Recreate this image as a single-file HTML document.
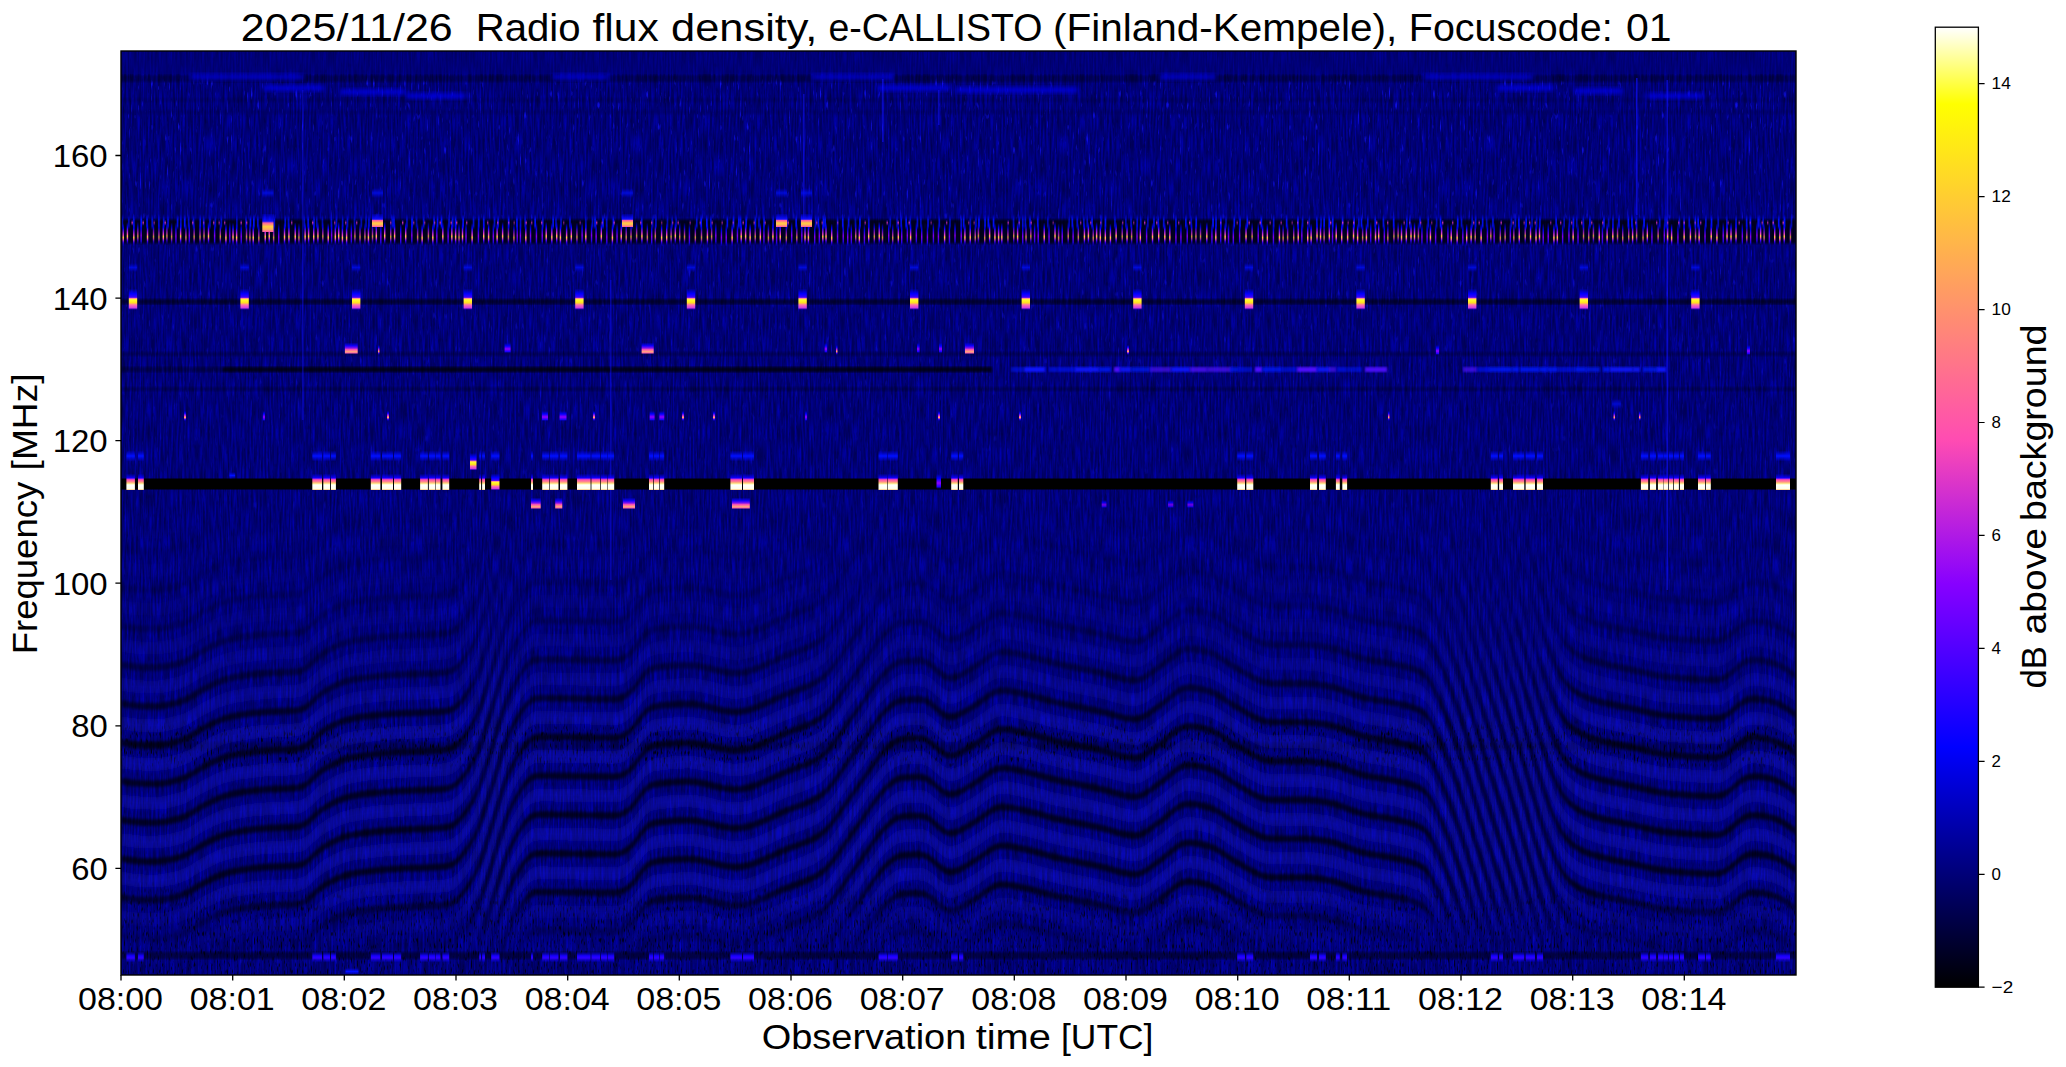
<!DOCTYPE html><html><head><meta charset="utf-8"><style>html,body{margin:0;padding:0;background:#fff;overflow:hidden}svg{display:block}text{font-family:"Liberation Sans",sans-serif;fill:#000}</style></head><body>
<svg width="2066" height="1067" viewBox="0 0 2066 1067">
<defs><clipPath id="pc"><rect x="121" y="51" width="1675" height="924"/></clipPath><filter id="nz" x="0" y="0" width="1" height="1" color-interpolation-filters="sRGB"><feTurbulence type="fractalNoise" baseFrequency="0.6 0.045" numOctaves="1" seed="5"/><feComponentTransfer><feFuncR type="gamma" amplitude="1" exponent="1.6" offset="0"/></feComponentTransfer><feColorMatrix type="matrix" values="0 0 0 0 0  0 0 0 0 0  0.55 0 0 0 0.29  0 0 0 0 1"/></filter><filter id="nz2" x="0" y="0" width="1" height="1" color-interpolation-filters="sRGB"><feTurbulence type="fractalNoise" baseFrequency="0.45 0.09" numOctaves="1" seed="9"/><feColorMatrix type="matrix" values="0 0 0 0 0.08  0 0 0 0 0.08  0 0 0 0 1  7 0 0 0 -4.6"/></filter><filter id="nz3" x="0" y="0" width="1" height="1" color-interpolation-filters="sRGB"><feTurbulence type="fractalNoise" baseFrequency="0.7 0.16" numOctaves="1" seed="21"/><feColorMatrix type="matrix" values="0 0 0 0 0  0 0 0 0 0  0 0 0 0 0  6 0 0 0 -3.5"/></filter><linearGradient id="denv" gradientUnits="userSpaceOnUse" x1="0" y1="51" x2="0" y2="975"><stop offset="0" stop-color="#fff" stop-opacity="0.15"/><stop offset="0.7248" stop-color="#fff" stop-opacity="0.15"/><stop offset="0.7348" stop-color="#fff" stop-opacity="0.85"/><stop offset="0.7684" stop-color="#fff" stop-opacity="0.85"/><stop offset="0.7784" stop-color="#fff" stop-opacity="0.15"/><stop offset="0.9" stop-color="#fff" stop-opacity="0.2"/><stop offset="0.93" stop-color="#fff" stop-opacity="0.75"/><stop offset="1" stop-color="#fff" stop-opacity="0.75"/></linearGradient><mask id="dmask" maskUnits="userSpaceOnUse" x="121" y="51" width="1675" height="924"><rect x="121" y="51" width="1675" height="924" fill="url(#denv)"/></mask><linearGradient id="tenv" gradientUnits="userSpaceOnUse" x1="0" y1="51" x2="0" y2="975"><stop offset="0" stop-color="#fff" stop-opacity="0.1"/><stop offset="0.025" stop-color="#fff" stop-opacity="0.15"/><stop offset="0.035" stop-color="#fff" stop-opacity="0.8"/><stop offset="0.16" stop-color="#fff" stop-opacity="0.6"/><stop offset="0.35" stop-color="#fff" stop-opacity="0.35"/><stop offset="0.6" stop-color="#fff" stop-opacity="0.15"/><stop offset="0.9" stop-color="#fff" stop-opacity="0.2"/><stop offset="1" stop-color="#fff" stop-opacity="0.3"/></linearGradient><mask id="tmask" maskUnits="userSpaceOnUse" x="121" y="51" width="1675" height="924"><rect x="121" y="51" width="1675" height="924" fill="url(#tenv)"/></mask><filter id="bl1" x="-5%" y="-5%" width="110%" height="110%"><feGaussianBlur stdDeviation="1.1"/></filter><filter id="bl2b" x="-5%" y="-5%" width="110%" height="110%"><feGaussianBlur stdDeviation="1.8"/></filter><filter id="bl3" x="-5%" y="-5%" width="110%" height="110%"><feGaussianBlur stdDeviation="2.5"/></filter><filter id="bl2" x="-20%" y="-50%" width="140%" height="200%"><feGaussianBlur stdDeviation="2"/></filter><linearGradient id="fenv" gradientUnits="userSpaceOnUse" x1="0" y1="500" x2="0" y2="980"><stop offset="0.0000" stop-color="#fff" stop-opacity="0"/><stop offset="0.1250" stop-color="#fff" stop-opacity="0.12"/><stop offset="0.2500" stop-color="#fff" stop-opacity="0.3"/><stop offset="0.3542" stop-color="#fff" stop-opacity="0.62"/><stop offset="0.4583" stop-color="#fff" stop-opacity="0.95"/><stop offset="0.8083" stop-color="#fff" stop-opacity="1"/><stop offset="0.8750" stop-color="#fff" stop-opacity="0.4"/><stop offset="0.9333" stop-color="#fff" stop-opacity="0.12"/><stop offset="1.0000" stop-color="#fff" stop-opacity="0.05"/></linearGradient><mask id="fmask" maskUnits="userSpaceOnUse" x="121" y="51" width="1675" height="924"><rect x="121" y="500" width="1675" height="480" fill="url(#fenv)"/></mask><linearGradient id="g113" x1="0" y1="0" x2="0" y2="1"><stop offset="0" stop-color="#0000ff" stop-opacity="0"/><stop offset="0.28" stop-color="#1000ff"/><stop offset="0.32" stop-color="#a020f0"/><stop offset="0.38" stop-color="#ff50b0"/><stop offset="0.5" stop-color="#ff8890"/><stop offset="0.58" stop-color="#ffd070"/><stop offset="0.66" stop-color="#ffffd0"/><stop offset="0.72" stop-color="#ffffff"/><stop offset="0.93" stop-color="#ffffe8"/><stop offset="1" stop-color="#ffc070"/></linearGradient><linearGradient id="g139" x1="0" y1="0" x2="0" y2="1"><stop offset="0" stop-color="#0000ff" stop-opacity="0"/><stop offset="0.25" stop-color="#0000ff"/><stop offset="0.42" stop-color="#4000ff"/><stop offset="0.47" stop-color="#ff80a0"/><stop offset="0.53" stop-color="#ffff30"/><stop offset="0.68" stop-color="#ffe020"/><stop offset="0.78" stop-color="#ff70b0"/><stop offset="0.92" stop-color="#d040e0"/><stop offset="1" stop-color="#6000ff" stop-opacity="0.4"/></linearGradient><linearGradient id="gpk" x1="0" y1="0" x2="0" y2="1"><stop offset="0" stop-color="#0000ff" stop-opacity="0"/><stop offset="0.3" stop-color="#1000ff"/><stop offset="0.5" stop-color="#8010f0"/><stop offset="0.65" stop-color="#ff58b0"/><stop offset="0.82" stop-color="#ffa080"/><stop offset="1" stop-color="#ff60b0"/></linearGradient><linearGradient id="gbl" x1="0" y1="0" x2="0" y2="1"><stop offset="0" stop-color="#0000ff" stop-opacity="0"/><stop offset="0.5" stop-color="#0010ff"/><stop offset="1" stop-color="#0000ff" stop-opacity="0"/></linearGradient><linearGradient id="gsp" x1="0" y1="0" x2="0" y2="1"><stop offset="0" stop-color="#0000ff" stop-opacity="0"/><stop offset="0.22" stop-color="#0000ff"/><stop offset="0.42" stop-color="#a020e8"/><stop offset="0.55" stop-color="#ff58b0"/><stop offset="0.62" stop-color="#ffd838"/><stop offset="0.7" stop-color="#ff60a8"/><stop offset="0.82" stop-color="#4000ff"/><stop offset="1" stop-color="#0000ff" stop-opacity="0"/></linearGradient><linearGradient id="gdot" x1="0" y1="0" x2="0" y2="1"><stop offset="0" stop-color="#2000ff" stop-opacity="0.3"/><stop offset="0.5" stop-color="#ff40c0"/><stop offset="1" stop-color="#4000ff" stop-opacity="0.3"/></linearGradient><linearGradient id="gtl" x1="0" y1="0" x2="0" y2="1"><stop offset="0" stop-color="#0000ff" stop-opacity="0"/><stop offset="0.35" stop-color="#0010ff"/><stop offset="0.75" stop-color="#0010ff"/><stop offset="1" stop-color="#0000ff" stop-opacity="0"/></linearGradient><linearGradient id="g47" x1="0" y1="0" x2="0" y2="1"><stop offset="0" stop-color="#0000ff" stop-opacity="0"/><stop offset="0.4" stop-color="#1800ff"/><stop offset="0.6" stop-color="#3000ff"/><stop offset="1" stop-color="#0000ff" stop-opacity="0"/></linearGradient><linearGradient id="gs150" x1="0" y1="0" x2="0" y2="1"><stop offset="0" stop-color="#0000ff" stop-opacity="0.2"/><stop offset="0.4" stop-color="#1010ff"/><stop offset="0.5" stop-color="#ff60a0"/><stop offset="0.7" stop-color="#ffd040"/><stop offset="0.85" stop-color="#ffb060"/><stop offset="1" stop-color="#ff50b0"/></linearGradient><linearGradient id="gsp2" x1="0" y1="0" x2="0" y2="1"><stop offset="0" stop-color="#0000ff" stop-opacity="0"/><stop offset="0.3" stop-color="#0000ff"/><stop offset="0.6" stop-color="#9000ff"/><stop offset="0.85" stop-color="#2000ff"/><stop offset="1" stop-color="#0000ff" stop-opacity="0"/></linearGradient></defs>
<g clip-path="url(#pc)"><rect x="121" y="51" width="1675" height="924" fill="#00008a"/>
<rect x="121" y="51" width="1675" height="924" filter="url(#nz)"/>
<g mask="url(#tmask)"><rect x="121" y="51" width="1675" height="924" filter="url(#nz2)"/></g>
<g mask="url(#dmask)"><rect x="121" y="51" width="1675" height="924" filter="url(#nz3)"/></g>
<rect x="121.0" y="51.0" width="1675.0" height="23.0" fill="#000078" fill-opacity="0.45"/>
<rect x="121.0" y="75.0" width="1675.0" height="7.0" fill="#000" fill-opacity="0.3" filter="url(#bl1)"/>
<rect x="345.5" y="968" width="13" height="7" fill="url(#gbl)"/>
<rect x="121.0" y="98.0" width="1675.0" height="4.0" fill="#000" fill-opacity="0.12" filter="url(#bl1)"/>
<rect x="121.0" y="110.0" width="1675.0" height="4.0" fill="#000" fill-opacity="0.1" filter="url(#bl1)"/>
<rect x="190" y="74.5" width="114" height="5" rx="2.5" fill="#0808ff" fill-opacity="0.7" filter="url(#bl2)"/>
<rect x="552" y="74.5" width="57" height="5" rx="2.5" fill="#0808ff" fill-opacity="0.7" filter="url(#bl2)"/>
<rect x="812" y="74.5" width="82" height="5" rx="2.5" fill="#0808ff" fill-opacity="0.7" filter="url(#bl2)"/>
<rect x="263" y="85.5" width="61" height="5" rx="2.5" fill="#0808ff" fill-opacity="0.7" filter="url(#bl2)"/>
<rect x="877" y="85.5" width="74" height="5" rx="2.5" fill="#0808ff" fill-opacity="0.7" filter="url(#bl2)"/>
<rect x="340" y="89.5" width="66" height="5" rx="2.5" fill="#0808ff" fill-opacity="0.7" filter="url(#bl2)"/>
<rect x="406" y="93.5" width="61" height="5" rx="2.5" fill="#0808ff" fill-opacity="0.7" filter="url(#bl2)"/>
<rect x="1159" y="74.5" width="57" height="5" rx="2.5" fill="#0808ff" fill-opacity="0.7" filter="url(#bl2)"/>
<rect x="1424" y="74.5" width="109" height="5" rx="2.5" fill="#0808ff" fill-opacity="0.7" filter="url(#bl2)"/>
<rect x="956" y="87.5" width="122" height="5" rx="2.5" fill="#0808ff" fill-opacity="0.7" filter="url(#bl2)"/>
<rect x="1497" y="85.5" width="57" height="5" rx="2.5" fill="#0808ff" fill-opacity="0.7" filter="url(#bl2)"/>
<rect x="1574" y="88.5" width="49" height="5" rx="2.5" fill="#0808ff" fill-opacity="0.7" filter="url(#bl2)"/>
<rect x="1647" y="93.5" width="57" height="5" rx="2.5" fill="#0808ff" fill-opacity="0.7" filter="url(#bl2)"/>
<rect x="121.0" y="219.5" width="1675.0" height="24.0" fill="#000" fill-opacity="0.75" filter="url(#bl1)"/>
<rect x="121.0" y="299.0" width="1675.0" height="5.5" fill="#000" fill-opacity="0.55" filter="url(#bl1)"/>
<rect x="121.0" y="352.0" width="1675.0" height="4.0" fill="#000" fill-opacity="0.25" filter="url(#bl1)"/>
<rect x="121.0" y="387.0" width="1675.0" height="4.0" fill="#000" fill-opacity="0.25" filter="url(#bl1)"/>
<rect x="222.0" y="366.8" width="770.0" height="5.4" fill="#000" fill-opacity="0.75" filter="url(#bl1)"/>
<rect x="121.0" y="366.8" width="101.0" height="5.4" fill="#000" fill-opacity="0.35" filter="url(#bl1)"/>
<rect x="1011" y="367" width="13" height="5" fill="#0818ff" fill-opacity="0.55" filter="url(#bl1)"/>
<rect x="1024" y="367" width="21" height="5" fill="#0818ff" fill-opacity="0.97" filter="url(#bl1)"/>
<rect x="1049" y="367" width="9" height="5" fill="#0818ff" fill-opacity="0.61" filter="url(#bl1)"/>
<rect x="1058" y="367" width="17" height="5" fill="#0818ff" fill-opacity="0.63" filter="url(#bl1)"/>
<rect x="1075" y="367" width="16" height="5" fill="#0818ff" fill-opacity="0.88" filter="url(#bl1)"/>
<rect x="1090" y="367" width="9" height="5" fill="#0818ff" fill-opacity="0.87" filter="url(#bl1)"/>
<rect x="1099" y="367" width="12" height="5" fill="#0818ff" fill-opacity="0.76" filter="url(#bl1)"/>
<rect x="1114" y="367" width="6" height="5" fill="#5010ff" fill-opacity="0.97" filter="url(#bl1)"/>
<rect x="1120" y="367" width="11" height="5" fill="#0818ff" fill-opacity="0.84" filter="url(#bl1)"/>
<rect x="1131" y="367" width="19" height="5" fill="#0818ff" fill-opacity="0.65" filter="url(#bl1)"/>
<rect x="1150" y="367" width="21" height="5" fill="#5010ff" fill-opacity="0.65" filter="url(#bl1)"/>
<rect x="1171" y="367" width="19" height="5" fill="#0818ff" fill-opacity="0.89" filter="url(#bl1)"/>
<rect x="1190" y="367" width="17" height="5" fill="#5010ff" fill-opacity="0.78" filter="url(#bl1)"/>
<rect x="1207" y="367" width="24" height="5" fill="#5010ff" fill-opacity="0.69" filter="url(#bl1)"/>
<rect x="1230" y="367" width="9" height="5" fill="#0818ff" fill-opacity="0.65" filter="url(#bl1)"/>
<rect x="1239" y="367" width="13" height="5" fill="#0818ff" fill-opacity="0.56" filter="url(#bl1)"/>
<rect x="1255" y="367" width="7" height="5" fill="#5010ff" fill-opacity="1.00" filter="url(#bl1)"/>
<rect x="1262" y="367" width="20" height="5" fill="#0818ff" fill-opacity="0.72" filter="url(#bl1)"/>
<rect x="1282" y="367" width="15" height="5" fill="#0818ff" fill-opacity="0.58" filter="url(#bl1)"/>
<rect x="1297" y="367" width="20" height="5" fill="#5010ff" fill-opacity="0.98" filter="url(#bl1)"/>
<rect x="1317" y="367" width="13" height="5" fill="#0818ff" fill-opacity="0.85" filter="url(#bl1)"/>
<rect x="1329" y="367" width="7" height="5" fill="#5010ff" fill-opacity="0.62" filter="url(#bl1)"/>
<rect x="1337" y="367" width="10" height="5" fill="#0818ff" fill-opacity="0.62" filter="url(#bl1)"/>
<rect x="1347" y="367" width="15" height="5" fill="#0818ff" fill-opacity="0.55" filter="url(#bl1)"/>
<rect x="1365" y="367" width="22" height="5" fill="#5010ff" fill-opacity="0.93" filter="url(#bl1)"/>
<rect x="1387" y="367" width="0" height="5" fill="#0818ff" fill-opacity="0.89" filter="url(#bl1)"/>
<rect x="1463" y="367" width="14" height="5" fill="#5010ff" fill-opacity="0.66" filter="url(#bl1)"/>
<rect x="1477" y="367" width="13" height="5" fill="#0818ff" fill-opacity="0.63" filter="url(#bl1)"/>
<rect x="1489" y="367" width="23" height="5" fill="#0818ff" fill-opacity="0.78" filter="url(#bl1)"/>
<rect x="1512" y="367" width="7" height="5" fill="#0818ff" fill-opacity="0.76" filter="url(#bl1)"/>
<rect x="1520" y="367" width="19" height="5" fill="#0818ff" fill-opacity="0.79" filter="url(#bl1)"/>
<rect x="1539" y="367" width="8" height="5" fill="#0818ff" fill-opacity="0.78" filter="url(#bl1)"/>
<rect x="1547" y="367" width="11" height="5" fill="#0818ff" fill-opacity="0.74" filter="url(#bl1)"/>
<rect x="1558" y="367" width="17" height="5" fill="#0818ff" fill-opacity="0.58" filter="url(#bl1)"/>
<rect x="1575" y="367" width="11" height="5" fill="#0818ff" fill-opacity="0.75" filter="url(#bl1)"/>
<rect x="1586" y="367" width="14" height="5" fill="#0818ff" fill-opacity="0.67" filter="url(#bl1)"/>
<rect x="1603" y="367" width="7" height="5" fill="#0818ff" fill-opacity="0.75" filter="url(#bl1)"/>
<rect x="1610" y="367" width="23" height="5" fill="#0818ff" fill-opacity="0.85" filter="url(#bl1)"/>
<rect x="1633" y="367" width="7" height="5" fill="#0818ff" fill-opacity="0.82" filter="url(#bl1)"/>
<rect x="1643" y="367" width="15" height="5" fill="#0818ff" fill-opacity="0.67" filter="url(#bl1)"/>
<rect x="1657" y="367" width="9" height="5" fill="#0818ff" fill-opacity="0.93" filter="url(#bl1)"/>
<rect x="121.0" y="478.5" width="1675.0" height="11.0" fill="#000" fill-opacity="1.0"/>
<rect x="121.0" y="742.0" width="1675.0" height="8.0" fill="#000" fill-opacity="0.2" filter="url(#bl1)"/>
<rect x="121.0" y="952.0" width="1675.0" height="7.0" fill="#000" fill-opacity="0.45" filter="url(#bl1)"/>
<g mask="url(#fmask)"><path d="M1654 493.5l4 1 4 0.5 4 0.5 4 0.5 4 0.5 4 0.5 4 0 4 0.5 4 0 4 0.5 4 0 4 0.5 4 0 4 0 4 0 4 0 4-1 4-2 2-1.5 0 13-2 1.5-4 2-4 1-4 0-4 0-4 0-4 0-4-0.5-4 0-4-0.5-4 0-4-0.5-4 0-4-0.5-4-0.5-4-0.5-4-0.5-4-0.5-4-1ZM1794 493.5l2 1.5 0 13-2-1.5ZM1561 494.5l4 6 4 5 4 3 4 3 4 2 4 2 4 1.5 4 1.5 4 1.5 4 1 4 1 4 0.5 4 1 4 1 4 0.5 4 1 4 1 4 0.5 4 1 4 1 4 1 4 1 4 1 4 0.5 4 1 4 0.5 4 0.5 4 0 4 0.5 4 0.5 4 0 4 0.5 4 0 4 0.5 4 0 4 0.5 4 0 4 0 4 0 4-0.5 4-2 4-3 4-3 4-3.5 4-3.5 4-2.5 4-1.5 4-0.5 4 0.5 4 0 4 0.5 4 1 4 1 4 1.5 4 2 4 2 4 3 4 3 3 1.5 0 13-3-1.5-4-3-4-3-4-2-4-2-4-1.5-4-1-4-1-4-0.5-4 0-4-0.5-4 0.5-4 1.5-4 2.5-4 3.5-4 3.5-4 3-4 3-4 2-4 0.5-4 0-4 0-4 0-4-0.5-4 0-4-0.5-4 0-4-0.5-4 0-4-0.5-4-0.5-4 0-4-0.5-4-0.5-4-1-4-0.5-4-1-4-1-4-1-4-1-4-1-4-0.5-4-1-4-1-4-0.5-4-1-4-1-4-0.5-4-1-4-1-4-1.5-4-1.5-4-1.5-4-2-4-2-4-3-4-3-4-5-4-6ZM1545 493.5l4 11.5 4 10.5 4 10 4 8 4 6 4 4.5 4 3.5 4 3 4 2 4 2 4 1.5 4 1.5 4 1 4 1 4 1 4 1 4 1 4 0.5 4 1 4 1 4 0.5 4 1 4 1 4 1 4 0.5 4 1 4 1 4 1 4 0.5 4 0.5 4 0.5 4 0.5 4 0.5 4 0 4 0.5 4 0.5 4 0 4 0.5 4 0 4 0 4 0.5 4 0 4 0 4-1 4-1.5 4-3 4-3.5 4-3.5 4-3 4-2.5 4-1.5 4-0.5 4 0 4 0.5 4 0.5 4 1 4 1 4 1.5 4 2 4 2 4 2.5 4 3 3 2 0 13-3-2-4-3-4-2.5-4-2-4-2-4-1.5-4-1-4-1-4-0.5-4-0.5-4 0-4 0.5-4 1.5-4 2.5-4 3-4 3.5-4 3.5-4 3-4 1.5-4 1-4 0-4 0-4-0.5-4 0-4 0-4-0.5-4 0-4-0.5-4-0.5-4 0-4-0.5-4-0.5-4-0.5-4-0.5-4-0.5-4-1-4-1-4-1-4-0.5-4-1-4-1-4-1-4-0.5-4-1-4-1-4-0.5-4-1-4-1-4-1-4-1-4-1-4-1.5-4-1.5-4-2-4-2-4-3-4-3.5-4-4.5-4-6-4-7-4-8-4-9-4-10.5ZM121 522.5l4 0.5 4 0.5 4 0.5 4 0.5 4 0.5 4 0 4 0 4 0 4 0 4 0 4-0.5 4-1 4-1 4-1 4-1 4-1.5 4-2 4-2.5 4-2.5 4-2.5 4-2 4-2 4-2 4-2 4-1.5 4-1.5 4-1 4-1 4-1 4-0.5 4-0.5 4-1 1 0 0 13-1 0-4 1-4 0.5-4 0.5-4 1-4 1-4 1-4 1.5-4 1.5-4 2-4 2-4 2-4 2-4 2.5-4 2.5-4 2.5-4 2-4 1.5-4 1-4 1-4 1-4 1-4 0.5-4 0-4 0-4 0-4 0-4 0-4-0.5-4-0.5-4-0.5-4-0.5-4-0.5ZM1532 490l4 13.5 4 13 4 12.5 4 12 4 11 4 10 4 8.5 4 6.5 4 5 4 3.5 4 3 4 2.5 4 2 4 1.5 4 1.5 4 1 4 1 4 1 4 1 4 1 4 1 4 0.5 4 1 4 0.5 4 1 4 1 4 1 4 1 4 0.5 4 1 4 1 4 0.5 4 1 4 0.5 4 0 4 0.5 4 0.5 4 0 4 0.5 4 0.5 4 0 4 0 4 0.5 4 0 4 0 4 0 4-0.5 4-1.5 4-2.5 4-3 4-3.5 4-3.5 4-2.5 4-2 4-0.5 4 0 4 0 4 0.5 4 1 4 1 4 1.5 4 1.5 4 2 4 3 4 2.5 4 2.5 0 13-4-2.5-4-2.5-4-3-4-2-4-1.5-4-1.5-4-1-4-1-4-0.5-4 0-4 0-4 0.5-4 2-4 2.5-4 3.5-4 3.5-4 3-4 2.5-4 1.5-4 0.5-4 0-4 0-4 0-4-0.5-4 0-4 0-4-0.5-4-0.5-4 0-4-0.5-4-0.5-4 0-4-0.5-4-1-4-0.5-4-1-4-1-4-0.5-4-1-4-1-4-1-4-1-4-0.5-4-1-4-0.5-4-1-4-1-4-1-4-1-4-1-4-1-4-1.5-4-1.5-4-2-4-2.5-4-3-4-3.5-4-5-4-6.5-4-7-4-8.5-4-9.5-4-10.5-4-11.5-4-12-4-13ZM121 561.5l4 0.5 4 0.5 4 0.5 4 0.5 4 0 4 0.5 4 0 4 0 4 0 4-0.5 4-0.5 4-0.5 4-1 4-1 4-1.5 4-1.5 4-1.5 4-2.5 4-2.5 4-2.5 4-2.5 4-2 4-2 4-1.5 4-2 4-1.5 4-1 4-1 4-0.5 4-1 4-0.5 4-0.5 4-0.5 4-0.5 4-0.5 4 0 4-0.5 4 0 4 0 4-0.5 4 0 4 0 4-0.5 4-0.5 4-0.5 4-2 4-3 4-3.5 4-4 4-3.5 4-2.5 4-2.5 4-2 4-2 4-1.5 4-1.5 4-1 4-1 4-1 4-0.5 4-0.5 4-0.5 4-0.5 4-0.5 4 0 4-0.5 4-0.5 4 0 4-0.5 2 0 0 13-2 0-4 0.5-4 0-4 0.5-4 0.5-4 0-4 0.5-4 0.5-4 0.5-4 0.5-4 0.5-4 1-4 1-4 1-4 1.5-4 1.5-4 2-4 2-4 2.5-4 2.5-4 3.5-4 4-4 3.5-4 3-4 2-4 0.5-4 0.5-4 0.5-4 0-4 0-4 0.5-4 0-4 0-4 0.5-4 0-4 0.5-4 0.5-4 0.5-4 0.5-4 0.5-4 1-4 0.5-4 1-4 1-4 1.5-4 2-4 1.5-4 2-4 2-4 2.5-4 2.5-4 2.5-4 2.5-4 1.5-4 1.5-4 1.5-4 1-4 1-4 0.5-4 0.5-4 0.5-4 0-4 0-4 0-4-0.5-4 0-4-0.5-4-0.5-4-0.5-4-0.5ZM1521 491l4 13.5 4 14 4 13.5 4 13.5 4 13 4 12.5 4 11.5 4 10.5 4 10 4 8 4 6 4 4.5 4 3.5 4 3 4 2 4 2 4 1.5 4 1.5 4 1 4 1 4 1 4 1 4 1 4 1 4 0.5 4 1 4 0.5 4 1 4 1 4 1 4 1 4 1 4 0.5 4 1 4 0.5 4 0.5 4 0.5 4 0.5 4 0.5 4 0 4 0.5 4 0.5 4 0 4 0.5 4 0 4 0 4 0.5 4 0 4 0 4-1 4-1.5 4-3 4-3 4-3.5 4-3.5 4-2.5 4-1.5 4-0.5 4 0 4 0.5 4 0.5 4 1 4 1 4 1.5 4 2 4 2 4 3 4 2.5 3 2 0 13-3-2-4-2.5-4-3-4-2-4-2-4-1.5-4-1-4-1-4-0.5-4-0.5-4 0-4 0.5-4 1.5-4 2.5-4 3.5-4 3.5-4 3-4 3-4 1.5-4 1-4 0-4 0-4-0.5-4 0-4 0-4-0.5-4 0-4-0.5-4-0.5-4 0-4-0.5-4-0.5-4-0.5-4-0.5-4-0.5-4-1-4-0.5-4-1-4-1-4-1-4-1-4-1-4-0.5-4-1-4-0.5-4-1-4-1-4-1-4-1-4-1-4-1-4-1.5-4-1.5-4-2-4-2-4-3-4-3.5-4-4.5-4-6-4-7-4-8-4-9-4-10.5-4-11-4-12-4-13-4-13-4-13.5-4-14ZM121 600l4 0.5 4 1 4 0.5 4 0 4 0.5 4 0 4 0 4 0.5 4-0.5 4 0 4-0.5 4-1 4-1 4-1 4-1 4-1.5 4-2 4-2.5 4-2.5 4-2.5 4-2 4-2 4-2 4-2 4-1.5 4-1.5 4-1 4-1 4-1 4-0.5 4-0.5 4-0.5 4-0.5 4-0.5 4-0.5 4-0.5 4 0 4-0.5 4 0 4 0 4 0 4-0.5 4 0 4-0.5 4-1 4-1.5 4-3 4-4 4-4 4-3 4-3 4-2 4-2 4-2 4-2 4-1.5 4-1 4-0.5 4-1 4-0.5 4-0.5 4-0.5 4-0.5 4-0.5 4-0.5 4 0 4-0.5 4-0.5 4 0 4-0.5 4 0 4 0 4 0 4-0.5 4 0 4 0 4-0.5 4 0 4 0 4-0.5 4-0.5 4-0.5 4-2 4-3 4-4 4-5 4-6 4-6.5 4-9 0 15-4 7-4 6.5-4 6-4 5-4 4-4 3-4 2-4 0.5-4 0.5-4 0.5-4 0-4 0-4 0.5-4 0-4 0-4 0.5-4 0-4 0-4 0-4 0.5-4 0-4 0.5-4 0.5-4 0-4 0.5-4 0.5-4 0.5-4 0.5-4 0.5-4 0.5-4 1-4 0.5-4 1-4 1.5-4 2-4 2-4 2-4 2-4 3-4 3-4 4-4 4-4 3-4 1.5-4 1-4 0.5-4 0-4 0.5-4 0-4 0-4 0-4 0.5-4 0-4 0.5-4 0.5-4 0.5-4 0.5-4 0.5-4 0.5-4 0.5-4 1-4 1-4 1-4 1.5-4 1.5-4 2-4 2-4 2-4 2-4 2.5-4 2.5-4 2.5-4 2-4 1.5-4 1-4 1-4 1-4 1-4 0.5-4 0-4 0.5-4-0.5-4 0-4 0-4-0.5-4 0-4-0.5-4-1-4-0.5ZM1509 489.5l4 13 4 13.5 4 13.5 4 14 4 13.5 4 14 4 13.5 4 13 4 12 4 12 4 10.5 4 9.5 4 8.5 4 6 4 4.5 4 3.5 4 2.5 4 2.5 4 2 4 1.5 4 1 4 1.5 4 1 4 1 4 1 4 1 4 0.5 4 1 4 0.5 4 1 4 1 4 0.5 4 1 4 1 4 1 4 1 4 1 4 0.5 4 0.5 4 0.5 4 0.5 4 0 4 0.5 4 0.5 4 0 4 0.5 4 0 4 0.5 4 0 4 0 4 0 4 0 4-0.5 4-2 4-2.5 4-3.5 4-3.5 4-3 4-2.5 4-1.5 4-0.5 4 0 4 0.5 4 0.5 4 1 4 1 4 1.5 4 1.5 4 2.5 4 2.5 4 3 3 2 0 13-3-2-4-3-4-2.5-4-2.5-4-1.5-4-1.5-4-1-4-1-4-0.5-4-0.5-4 0-4 0.5-4 1.5-4 2.5-4 3-4 3.5-4 3.5-4 2.5-4 2-4 0.5-4 0-4 0-4 0-4 0-4-0.5-4 0-4-0.5-4 0-4-0.5-4-0.5-4 0-4-0.5-4-0.5-4-0.5-4-0.5-4-1-4-1-4-1-4-1-4-1-4-0.5-4-1-4-1-4-0.5-4-1-4-0.5-4-1-4-1-4-1-4-1-4-1.5-4-1-4-1.5-4-2-4-2.5-4-2.5-4-3.5-4-4.5-4-6-4-7-4-8-4-9.5-4-10-4-11.5-4-12-4-12.5-4-13.5-4-13.5-4-13.5-4-14-4-14-4-13.5ZM121 639l4 0.5 4 0.5 4 0.5 4 0.5 4 0.5 4 0 4 0 4 0 4 0 4-0.5 4-0.5 4-0.5 4-1 4-1 4-1 4-1.5 4-2 4-2.5 4-2.5 4-2.5 4-2.5 4-2 4-2 4-1.5 4-2 4-1 4-1.5 4-0.5 4-1 4-0.5 4-1 4-0.5 4-0.5 4-0.5 4 0 4-0.5 4-0.5 4 0 4 0 4-0.5 4 0 4 0 4-0.5 4 0 4-1 4-2 4-3 4-3.5 4-4 4-3.5 4-2.5 4-2 4-2.5 4-2 4-1.5 4-1.5 4-1 4-1 4-0.5 4-1 4-0.5 4-0.5 4-0.5 4 0 4-0.5 4-0.5 4 0 4-0.5 4-0.5 4 0 4 0 4-0.5 4 0 4 0 4 0 4-0.5 4 0 4 0 4-0.5 4 0 4-0.5 4-1 4-1.5 4-3 4-4.5 4-5 4-6 4-6.5 4-8.5 4-12.5 4-13 4-13.5 1-3 0 21-1 3.5-4 12.5-4 11.5-4 8.5-4 6.5-4 6.5-4 6-4 5-4 4.5-4 3-4 1.5-4 1-4 0.5-4 0-4 0.5-4 0-4 0-4 0.5-4 0-4 0-4 0-4 0.5-4 0-4 0-4 0.5-4 0.5-4 0-4 0.5-4 0.5-4 0-4 0.5-4 0.5-4 0.5-4 1-4 0.5-4 1-4 1-4 1.5-4 1.5-4 2-4 2.5-4 2-4 2.5-4 3.5-4 4-4 3.5-4 3-4 2-4 1-4 0-4 0.5-4 0-4 0-4 0.5-4 0-4 0-4 0.5-4 0.5-4 0-4 0.5-4 0.5-4 0.5-4 1-4 0.5-4 1-4 0.5-4 1.5-4 1-4 2-4 1.5-4 2-4 2-4 2.5-4 2.5-4 2.5-4 2.5-4 2-4 1.5-4 1-4 1-4 1-4 0.5-4 0.5-4 0.5-4 0-4 0-4 0-4 0-4-0.5-4-0.5-4-0.5-4-0.5-4-0.5ZM1497 492.5l4 12 4 11.5 4 12.5 4 13 4 13 4 14 4 13.5 4 14 4 13.5 4 13.5 4 13 4 12.5 4 11.5 4 11 4 9.5 4 8 4 6 4 5 4 3 4 3 4 2 4 2 4 1.5 4 1.5 4 1.5 4 1 4 1 4 0.5 4 1 4 1 4 0.5 4 1 4 1 4 0.5 4 1 4 1 4 1 4 1 4 1 4 0.5 4 1 4 0.5 4 0.5 4 0 4 0.5 4 0.5 4 0 4 0.5 4 0 4 0.5 4 0 4 0.5 4 0 4 0 4 0 4-0.5 4-2 4-3 4-3 4-3.5 4-3.5 4-2.5 4-1.5 4-0.5 4 0.5 4 0 4 0.5 4 1 4 1 4 1.5 4 2 4 2 4 3 4 3 3 1.5 0 13-3-1.5-4-3-4-3-4-2-4-2-4-1.5-4-1-4-1-4-0.5-4 0-4-0.5-4 0.5-4 1.5-4 2.5-4 3.5-4 3.5-4 3-4 3-4 2-4 0.5-4 0-4 0-4 0-4-0.5-4 0-4-0.5-4 0-4-0.5-4 0-4-0.5-4-0.5-4 0-4-0.5-4-0.5-4-1-4-0.5-4-1-4-1-4-1-4-1-4-1-4-0.5-4-1-4-1-4-0.5-4-1-4-1-4-0.5-4-1-4-1-4-1.5-4-1.5-4-1.5-4-2-4-2-4-3-4-3-4-5-4-6-4-7-4-8-4-9-4-10.5-4-11-4-12-4-13-4-13-4-13.5-4-14-4-13.5-4-14-4-13.5-4-13-4-12.5-4-12ZM121 677.5l4 0.5 4 1 4 0.5 4 0.5 4 0 4 0.5 4 0 4 0 4 0 4-0.5 4-0.5 4-1 4-0.5 4-1 4-1.5 4-1.5 4-2 4-2.5 4-2.5 4-2.5 4-2 4-2 4-2 4-2 4-1.5 4-1.5 4-1 4-1 4-0.5 4-1 4-0.5 4-0.5 4-0.5 4-0.5 4-0.5 4 0 4-0.5 4 0 4-0.5 4 0 4 0 4-0.5 4 0 4-0.5 4-0.5 4-2 4-3 4-4 4-3.5 4-3.5 4-2.5 4-2.5 4-2 4-2 4-2 4-1 4-1.5 4-0.5 4-1 4-0.5 4-0.5 4-0.5 4-0.5 4-0.5 4-0.5 4 0 4-0.5 4 0 4-0.5 4 0 4-0.5 4 0 4 0 4-0.5 4 0 4 0 4 0 4-0.5 4 0 4-0.5 4-0.5 4-0.5 4-2 4-3 4-4 4-5 4-6 4-6.5 4-9 4-12 4-13.5 4-13 4-13 4-13.5 4-13 1-3 0 20.5-1 3.5-4 14-4 12.5-4 13-4 13-4 11.5-4 8-4 7-4 6.5-4 6-4 5-4 4-4 3-4 2-4 0.5-4 0.5-4 0.5-4 0-4 0.5-4 0-4 0-4 0-4 0.5-4 0-4 0-4 0.5-4 0-4 0.5-4 0-4 0.5-4 0-4 0.5-4 0.5-4 0.5-4 0.5-4 0.5-4 0.5-4 1-4 0.5-4 1.5-4 1-4 2-4 2-4 2-4 2.5-4 2.5-4 3.5-4 3.5-4 4-4 3-4 2-4 0.5-4 0.5-4 0-4 0.5-4 0-4 0-4 0.5-4 0-4 0.5-4 0-4 0.5-4 0.5-4 0.5-4 0.5-4 0.5-4 1-4 0.5-4 1-4 1-4 1.5-4 1.5-4 2-4 2-4 2-4 2-4 2.5-4 2.5-4 2.5-4 2-4 1.5-4 1.5-4 1-4 0.5-4 1-4 0.5-4 0.5-4 0-4 0-4 0-4-0.5-4 0-4-0.5-4-0.5-4-1-4-0.5ZM1484 490l4 13 4 12.5 4 12.5 4 12 4 12 4 12 4 13 4 13 4 14 4 13.5 4 14 4 13.5 4 13.5 4 13 4 12.5 4 12 4 11 4 10 4 8.5 4 6.5 4 5 4 4 4 2.5 4 2.5 4 2 4 1.5 4 1.5 4 1.5 4 1 4 1 4 1 4 0.5 4 1 4 1 4 0.5 4 1 4 0.5 4 1 4 1 4 1 4 1 4 1 4 0.5 4 1 4 0.5 4 0.5 4 0.5 4 0 4 0.5 4 0.5 4 0 4 0.5 4 0 4 0.5 4 0 4 0 4 0.5 4 0 4-0.5 4-1.5 4-2.5 4-3.5 4-3.5 4-3 4-3 4-2 4-0.5 4 0 4 0.5 4 0.5 4 0.5 4 1 4 1.5 4 2 4 2 4 2.5 4 3 4 2.5 0 13-4-2.5-4-3-4-2.5-4-2-4-2-4-1.5-4-1-4-0.5-4-0.5-4-0.5-4 0-4 0.5-4 2-4 3-4 3-4 3.5-4 3.5-4 2.5-4 1.5-4 0.5-4 0-4-0.5-4 0-4 0-4-0.5-4 0-4-0.5-4 0-4-0.5-4-0.5-4 0-4-0.5-4-0.5-4-0.5-4-1-4-0.5-4-1-4-1-4-1-4-1-4-1-4-0.5-4-1-4-0.5-4-1-4-1-4-0.5-4-1-4-1-4-1-4-1.5-4-1.5-4-1.5-4-2-4-2.5-4-2.5-4-4-4-5-4-6.5-4-7-4-8-4-9.5-4-11-4-11-4-12.5-4-13-4-13-4-13.5-4-14-4-14-4-13.5-4-13.5-4-13-4-12.5-4-11.5-4-12-4-12.5-4-12.5ZM121 716.5l4 0.5 4 0.5 4 0.5 4 0.5 4 0.5 4 0 4 0 4 0 4 0 4 0 4-0.5 4-1 4-1 4-1 4-1 4-1.5 4-2 4-2.5 4-2.5 4-2.5 4-2 4-2 4-2 4-2 4-1.5 4-1.5 4-1 4-1 4-1 4-0.5 4-0.5 4-1 4-0.5 4 0 4-0.5 4-0.5 4 0 4-0.5 4 0 4 0 4-0.5 4 0 4 0 4-0.5 4-1 4-1.5 4-3.5 4-3.5 4-4 4-3 4-3 4-2 4-2.5 4-1.5 4-2 4-1.5 4-1 4-1 4-0.5 4-0.5 4-0.5 4-0.5 4-0.5 4-0.5 4-0.5 4-0.5 4 0 4-0.5 4 0 4-0.5 4 0 4 0 4-0.5 4 0 4 0 4 0 4-0.5 4 0 4-0.5 4 0 4-0.5 4-1 4-1.5 4-3 4-4 4-5.5 4-5.5 4-6.5 4-9 4-12 4-13.5 4-13 4-13 4-13.5 4-13 4-11.5 4-8 4-7.5 4-7 3-5 0 13-3 5-4 7.5-4 9-4 12-4 13.5-4 13.5-4 13-4 13-4 13-4 11-4 8.5-4 7-4 6.5-4 5.5-4 5.5-4 4-4 3-4 1.5-4 1-4 0.5-4 0-4 0.5-4 0-4 0.5-4 0-4 0-4 0-4 0.5-4 0-4 0-4 0.5-4 0-4 0.5-4 0-4 0.5-4 0.5-4 0.5-4 0.5-4 0.5-4 0.5-4 0.5-4 0.5-4 1-4 1-4 1.5-4 2-4 1.5-4 2.5-4 2-4 3-4 3-4 4-4 3.5-4 3.5-4 1.5-4 1-4 0.5-4 0-4 0-4 0.5-4 0-4 0-4 0.5-4 0-4 0.5-4 0.5-4 0-4 0.5-4 1-4 0.5-4 0.5-4 1-4 1-4 1-4 1.5-4 1.5-4 2-4 2-4 2-4 2-4 2.5-4 2.5-4 2.5-4 2-4 1.5-4 1-4 1-4 1-4 1-4 0.5-4 0-4 0-4 0-4 0-4 0-4-0.5-4-0.5-4-0.5-4-0.5-4-0.5ZM1472 490l4 12.5 4 13 4 13 4 13 4 13 4 12.5 4 12 4 12 4 12 4 12.5 4 13.5 4 13.5 4 14 4 13.5 4 14 4 13.5 4 13 4 12.5 4 12 4 11 4 10 4 8.5 4 6.5 4 5 4 3.5 4 3 4 2.5 4 2 4 1.5 4 1.5 4 1 4 1 4 1 4 1 4 1 4 1 4 0.5 4 1 4 0.5 4 1 4 1 4 1 4 1 4 0.5 4 1 4 1 4 0.5 4 1 4 0.5 4 0 4 0.5 4 0.5 4 0 4 0.5 4 0.5 4 0 4 0 4 0.5 4 0 4 0 4 0 4-0.5 4-1.5 4-2.5 4-3 4-3.5 4-3.5 4-2.5 4-2 4-0.5 4 0 4 0 4 0.5 4 1 4 1 4 1.5 4 1.5 4 2 4 3 4 2.5 4 2.5 0 13-4-2.5-4-2.5-4-3-4-2-4-1.5-4-1.5-4-1-4-1-4-0.5-4 0-4 0-4 0.5-4 2-4 2.5-4 3.5-4 3.5-4 3-4 2.5-4 1.5-4 0.5-4 0-4 0-4 0-4-0.5-4 0-4 0-4-0.5-4-0.5-4 0-4-0.5-4-0.5-4 0-4-0.5-4-1-4-0.5-4-1-4-1-4-0.5-4-1-4-1-4-1-4-1-4-0.5-4-1-4-0.5-4-1-4-1-4-1-4-1-4-1-4-1-4-1.5-4-1.5-4-2-4-2.5-4-3-4-3.5-4-5-4-6.5-4-7-4-8.5-4-9.5-4-10.5-4-11.5-4-12-4-13-4-13.5-4-13.5-4-13.5-4-14-4-14-4-13-4-13-4-12.5-4-12-4-12-4-12-4-13-4-12.5-4-13.5-4-13ZM121 755.5l4 0.5 4 0.5 4 0.5 4 0.5 4 0 4 0.5 4 0 4 0 4 0 4-0.5 4-0.5 4-0.5 4-1 4-1 4-1.5 4-1.5 4-1.5 4-2.5 4-2.5 4-2.5 4-2.5 4-2 4-2 4-1.5 4-2 4-1.5 4-1 4-1 4-0.5 4-1 4-0.5 4-0.5 4-0.5 4-0.5 4-0.5 4 0 4-0.5 4 0 4 0 4-0.5 4 0 4 0 4-0.5 4-0.5 4-0.5 4-2 4-3 4-3.5 4-4 4-3.5 4-2.5 4-2.5 4-2 4-2 4-1.5 4-1.5 4-1 4-1 4-1 4-0.5 4-0.5 4-0.5 4-0.5 4-0.5 4 0 4-0.5 4-0.5 4 0 4-0.5 4 0 4-0.5 4 0 4 0 4 0 4-0.5 4 0 4 0 4-0.5 4 0 4-0.5 4 0 4-1 4-1.5 4-3 4-4.5 4-5 4-6 4-6.5 4-9 4-12 4-13 4-13.5 4-13 4-13.5 4-13 4-11 4-8.5 4-7 4-7 4-6.5 4-6 4-4 4-3 4-1 4 0 4 0 4 0 4 0 4 0 4 0 4 0.5 4 0 4 0 4 0 4 0 4 0 4 0 4 0.5 4 0 4 0 4 0 4 0 4 0 4 0 4-1 4-2 4-3 4-4 4-5.5 4-5 2-3 0 13-2 3-4 5-4 5.5-4 4-4 3-4 2-4 1-4 0-4 0-4 0-4 0-4 0-4 0-4-0.5-4 0-4 0-4 0-4 0-4 0-4 0-4-0.5-4 0-4 0-4 0-4 0-4 0-4 0-4 1-4 3-4 4-4 6-4 6.5-4 7-4 9.5-4 11.5-4 14-4 13.5-4 12.5-4 13-4 13-4 11.5-4 8.5-4 6.5-4 6.5-4 6-4 5-4 4.5-4 3-4 1.5-4 1-4 0-4 0.5-4 0-4 0.5-4 0-4 0-4 0.5-4 0-4 0-4 0-4 0.5-4 0-4 0.5-4 0-4 0.5-4 0.5-4 0-4 0.5-4 0.5-4 0.5-4 0.5-4 0.5-4 1-4 1-4 1-4 1.5-4 1.5-4 2-4 2-4 2.5-4 2.5-4 3.5-4 4-4 3.5-4 3-4 2-4 0.5-4 0.5-4 0.5-4 0-4 0-4 0.5-4 0-4 0-4 0.5-4 0-4 0.5-4 0.5-4 0.5-4 0.5-4 0.5-4 1-4 0.5-4 1-4 1-4 1.5-4 2-4 1.5-4 2-4 2-4 2.5-4 2.5-4 2.5-4 2.5-4 1.5-4 1.5-4 1.5-4 1-4 1-4 0.5-4 0.5-4 0.5-4 0-4 0-4 0-4-0.5-4 0-4-0.5-4-0.5-4-0.5-4-0.5ZM1460 492l4 11.5 4 12.5 4 12.5 4 13 4 13 4 13 4 13 4 13 4 12.5 4 12 4 11.5 4 12.5 4 12.5 4 13.5 4 13.5 4 13.5 4 14 4 13.5 4 13.5 4 13.5 4 12.5 4 11.5 4 11 4 10 4 9 4 6 4 5 4 4 4 2.5 4 2.5 4 2 4 1.5 4 1.5 4 1.5 4 1 4 1 4 1 4 1 4 0.5 4 1 4 0.5 4 1 4 1 4 0.5 4 1 4 1 4 1 4 1 4 1 4 0.5 4 0.5 4 0.5 4 0.5 4 0.5 4 0 4 0.5 4 0.5 4 0 4 0.5 4 0 4 0 4 0.5 4 0 4 0 4-0.5 4-1.5 4-2.5 4-3.5 4-3.5 4-3 4-3 4-1.5 4-1 4 0 4 0.5 4 0.5 4 0.5 4 1.5 4 1 4 2 4 2 4 2.5 4 3 4 2.5 0 13-4-2.5-4-3-4-2.5-4-2-4-2-4-1-4-1.5-4-0.5-4-0.5-4-0.5-4 0-4 1-4 1.5-4 3-4 3-4 3.5-4 3.5-4 2.5-4 1.5-4 0.5-4 0-4 0-4-0.5-4 0-4 0-4-0.5-4 0-4-0.5-4-0.5-4 0-4-0.5-4-0.5-4-0.5-4-0.5-4-0.5-4-1-4-1-4-1-4-1-4-1-4-0.5-4-1-4-1-4-0.5-4-1-4-0.5-4-1-4-1-4-1-4-1-4-1.5-4-1.5-4-1.5-4-2-4-2.5-4-2.5-4-4-4-5-4-6-4-7.5-4-8-4-9.5-4-10.5-4-11.5-4-12.5-4-12.5-4-13.5-4-13.5-4-14-4-14-4-13.5-4-13.5-4-13-4-12-4-12-4-12-4-12.5-4-12.5-4-13-4-13-4-13-4-13-4-12.5-4-12.5ZM121 794l4 0.5 4 1 4 0.5 4 0 4 0.5 4 0 4 0 4 0.5 4-0.5 4 0 4-0.5 4-1 4-1 4-1 4-1 4-1.5 4-2 4-2.5 4-2.5 4-2.5 4-2 4-2 4-2 4-2 4-1.5 4-1.5 4-1 4-1 4-1 4-0.5 4-0.5 4-0.5 4-0.5 4-0.5 4-0.5 4-0.5 4 0 4-0.5 4 0 4 0 4 0 4-0.5 4 0 4-0.5 4-1 4-1.5 4-3 4-4 4-4 4-3 4-3 4-2 4-2 4-2 4-2 4-1.5 4-1 4-0.5 4-1 4-0.5 4-0.5 4-0.5 4-0.5 4-0.5 4-0.5 4 0 4-0.5 4-0.5 4 0 4-0.5 4 0 4 0 4 0 4-0.5 4 0 4 0 4-0.5 4 0 4 0 4-0.5 4-0.5 4-0.5 4-2 4-3 4-4 4-5 4-6 4-6.5 4-9 4-12 4-13.5 4-13 4-13 4-13.5 4-13 4-11 4-8.5 4-7 4-7.5 4-6.5 4-5.5 4-4.5 4-2.5 4-1 4 0 4 0 4 0 4 0 4 0 4 0 4 0 4 0 4 0 4 0.5 4 0 4 0 4 0 4 0 4 0 4 0 4 0 4 0.5 4 0 4-0.5 4-1 4-2 4-3 4-4 4-5 4-5.5 4-5 4-3.5 4-1.5 4-1 4-0.5 4-0.5 4-0.5 4 0 4-0.5 4 0 4 0 4 0 4 0 4 0.5 4 0.5 4 1 4 1 4 1 4 1 4 1 4 0.5 4 1 4 0 4 0 4 0 4-1 4-0.5 4-1.5 4-1.5 4-1.5 4-2 4-1.5 4-2 4-2 4-1.5 4-2 4-1.5 4-1.5 4-1.5 4-1.5 4-1.5 4-1.5 4-2 4-2 4-2.5 4-3.5 1-1 0 13-1 1-4 3.5-4 2.5-4 2-4 2-4 1.5-4 1.5-4 1.5-4 1.5-4 1.5-4 1.5-4 2-4 1.5-4 2-4 2-4 1.5-4 2-4 1.5-4 1.5-4 1.5-4 0.5-4 1-4 0-4 0-4 0-4-1-4-0.5-4-1-4-1-4-1-4-1-4-1-4-0.5-4-0.5-4 0-4 0-4 0-4 0-4 0.5-4 0-4 0.5-4 0.5-4 0.5-4 1-4 1.5-4 3.5-4 5-4 5.5-4 5-4 4-4 3-4 2-4 1-4 0.5-4 0-4-0.5-4 0-4 0-4 0-4 0-4 0-4 0-4 0-4-0.5-4 0-4 0-4 0-4 0-4 0-4 0-4 0-4 0-4 0-4 1-4 2.5-4 4.5-4 5.5-4 6.5-4 7.5-4 9-4 12-4 13.5-4 13.5-4 13-4 13-4 13-4 11-4 8.5-4 7-4 6.5-4 6-4 5-4 4-4 3-4 2-4 0.5-4 0.5-4 0.5-4 0-4 0-4 0.5-4 0-4 0-4 0.5-4 0-4 0-4 0-4 0.5-4 0-4 0.5-4 0.5-4 0-4 0.5-4 0.5-4 0.5-4 0.5-4 0.5-4 0.5-4 1-4 0.5-4 1-4 1.5-4 2-4 2-4 2-4 2-4 3-4 3-4 4-4 4-4 3-4 1.5-4 1-4 0.5-4 0-4 0.5-4 0-4 0-4 0-4 0.5-4 0-4 0.5-4 0.5-4 0.5-4 0.5-4 0.5-4 0.5-4 0.5-4 1-4 1-4 1-4 1.5-4 1.5-4 2-4 2-4 2-4 2-4 2.5-4 2.5-4 2.5-4 2-4 1.5-4 1-4 1-4 1-4 1-4 0.5-4 0-4 0.5-4-0.5-4 0-4 0-4-0.5-4 0-4-0.5-4-1-4-0.5ZM1446 494l4 9.5 4 10.5 4 11 4 11.5 4 12 4 12.5 4 13 4 13 4 13 4 13 4 12.5 4 13 4 12 4 12 4 12 4 12.5 4 13 4 13.5 4 13.5 4 14 4 13.5 4 14 4 13 4 13 4 12 4 11.5 4 10.5 4 9.5 4 7.5 4 5.5 4 4.5 4 3 4 3 4 2 4 1.5 4 1.5 4 1.5 4 1 4 1.5 4 1 4 0.5 4 1 4 1 4 0.5 4 1 4 0.5 4 1 4 1 4 1 4 1 4 1 4 0.5 4 1 4 0.5 4 0.5 4 0.5 4 0.5 4 0.5 4 0 4 0.5 4 0 4 0.5 4 0 4 0.5 4 0 4 0 4 0 4 0 4-1 4-2 4-3 4-3.5 4-3 4-3.5 4-2 4-1.5 4 0 4 0 4 0.5 4 0.5 4 1 4 1 4 2 4 1.5 4 2.5 4 3 4 2.5 2 1.5 0 13-2-1.5-4-2.5-4-3-4-2.5-4-1.5-4-2-4-1-4-1-4-0.5-4-0.5-4 0-4 0-4 1.5-4 2-4 3.5-4 3-4 3.5-4 3-4 2-4 1-4 0-4 0-4 0-4 0-4-0.5-4 0-4-0.5-4 0-4-0.5-4 0-4-0.5-4-0.5-4-0.5-4-0.5-4-0.5-4-1-4-0.5-4-1-4-1-4-1-4-1-4-1-4-0.5-4-1-4-0.5-4-1-4-1-4-0.5-4-1-4-1.5-4-1-4-1.5-4-1.5-4-1.5-4-2-4-3-4-3-4-4.5-4-5.5-4-7-4-7.5-4-9-4-10-4-11-4-12-4-12.5-4-13-4-13.5-4-13.5-4-14-4-14-4-13.5-4-13-4-13-4-12-4-11.5-4-12.5-4-12.5-4-12.5-4-13-4-13-4-13-4-13-4-12.5-4-12.5-4-12-4-11-4-10.5ZM121 833l4 0.5 4 0.5 4 0.5 4 0.5 4 0.5 4 0 4 0 4 0 4 0 4-0.5 4-0.5 4-0.5 4-1 4-1 4-1 4-1.5 4-2 4-2.5 4-2.5 4-2.5 4-2.5 4-2 4-2 4-1.5 4-2 4-1 4-1.5 4-0.5 4-1 4-0.5 4-1 4-0.5 4-0.5 4-0.5 4 0 4-0.5 4-0.5 4 0 4 0 4-0.5 4 0 4 0 4-0.5 4 0 4-1 4-2 4-3 4-3.5 4-4 4-3.5 4-2.5 4-2 4-2.5 4-2 4-1.5 4-1.5 4-1 4-1 4-0.5 4-1 4-0.5 4-0.5 4-0.5 4 0 4-0.5 4-0.5 4 0 4-0.5 4-0.5 4 0 4 0 4-0.5 4 0 4 0 4 0 4-0.5 4 0 4 0 4-0.5 4 0 4-0.5 4-1 4-1.5 4-3 4-4.5 4-5 4-6 4-6.5 4-8.5 4-12.5 4-13 4-13.5 4-12.5 4-13.5 4-13.5 4-11 4-8.5 4-7 4-7 4-6.5 4-5.5 4-4.5 4-2.5 4-1 4-0.5 4 0 4 0 4 0 4 0.5 4 0 4 0 4 0 4 0 4 0 4 0 4 0 4 0.5 4 0 4 0 4 0 4 0 4 0 4 0 4 0 4-1 4-2 4-3 4-4 4-5 4-5.5 4-5 4-3.5 4-2 4-0.5 4-0.5 4-0.5 4-0.5 4-0.5 4 0 4 0 4-0.5 4 0 4 0.5 4 0.5 4 0.5 4 1 4 0.5 4 1 4 1 4 1 4 1 4 0.5 4 0.5 4 0 4-0.5 4-0.5 4-1 4-1 4-1.5 4-1.5 4-2 4-2 4-1.5 4-2 4-2 4-1.5 4-1.5 4-1.5 4-1.5 4-1.5 4-1.5 4-1.5 4-2 4-2 4-3 4-3 4-4.5 4-5 4-5 4-6 4-5.5 4-6 4-5.5 1-1.5 0 13-1 1.5-4 5.5-4 6-4 5.5-4 6-4 5-4 5-4 4.5-4 3-4 3-4 2-4 2-4 1.5-4 1.5-4 1.5-4 1.5-4 1.5-4 1.5-4 1.5-4 2-4 2-4 1.5-4 2-4 2-4 1.5-4 1.5-4 1-4 1-4 0.5-4 0.5-4 0-4-0.5-4-0.5-4-1-4-1-4-1-4-1-4-0.5-4-1-4-0.5-4-0.5-4-0.5-4 0-4 0.5-4 0-4 0-4 0.5-4 0.5-4 0.5-4 0.5-4 0.5-4 2-4 3.5-4 5-4 5.5-4 5-4 4-4 3-4 2-4 1-4 0-4 0-4 0-4 0-4 0-4 0-4 0-4-0.5-4 0-4 0-4 0-4 0-4 0-4 0-4 0-4-0.5-4 0-4 0-4 0-4 0.5-4 1-4 2.5-4 4.5-4 5.5-4 6.5-4 7.5-4 9-4 12-4 13.5-4 13.5-4 13-4 13-4 12.5-4 11.5-4 8.5-4 6.5-4 6.5-4 6-4 5-4 4.5-4 3-4 1.5-4 1-4 0.5-4 0-4 0.5-4 0-4 0-4 0.5-4 0-4 0-4 0-4 0.5-4 0-4 0-4 0.5-4 0.5-4 0-4 0.5-4 0.5-4 0-4 0.5-4 0.5-4 0.5-4 1-4 0.5-4 1-4 1-4 1.5-4 1.5-4 2-4 2.5-4 2-4 2.5-4 3.5-4 4-4 3.5-4 3-4 2-4 1-4 0-4 0.5-4 0-4 0-4 0.5-4 0-4 0-4 0.5-4 0.5-4 0-4 0.5-4 0.5-4 0.5-4 1-4 0.5-4 1-4 0.5-4 1.5-4 1-4 2-4 1.5-4 2-4 2-4 2.5-4 2.5-4 2.5-4 2.5-4 2-4 1.5-4 1-4 1-4 1-4 0.5-4 0.5-4 0.5-4 0-4 0-4 0-4 0-4-0.5-4-0.5-4-0.5-4-0.5-4-0.5ZM1425 494l4 5 4 6.5 4 8 4 8.5 4 8.5 4 9.5 4 10 4 11 4 11.5 4 12 4 12 4 13 4 13 4 13 4 13 4 13 4 12.5 4 12.5 4 12 4 11.5 4 12.5 4 13 4 13 4 14 4 13.5 4 14 4 13.5 4 13.5 4 13 4 12.5 4 11.5 4 11 4 9.5 4 8 4 6 4 5 4 3 4 3 4 2 4 2 4 1.5 4 1.5 4 1.5 4 1 4 1 4 0.5 4 1 4 1 4 0.5 4 1 4 1 4 0.5 4 1 4 1 4 1 4 1 4 1 4 0.5 4 1 4 0.5 4 0.5 4 0 4 0.5 4 0.5 4 0 4 0.5 4 0 4 0.5 4 0 4 0.5 4 0 4 0 4 0 4-0.5 4-2 4-3 4-3 4-3.5 4-3.5 4-2.5 4-1.5 4-0.5 4 0.5 4 0 4 0.5 4 1 4 1 4 1.5 4 2 4 2 4 3 4 3 3 1.5 0 13-3-1.5-4-3-4-3-4-2-4-2-4-1.5-4-1-4-1-4-0.5-4 0-4-0.5-4 0.5-4 1.5-4 2.5-4 3.5-4 3.5-4 3-4 3-4 2-4 0.5-4 0-4 0-4 0-4-0.5-4 0-4-0.5-4 0-4-0.5-4 0-4-0.5-4-0.5-4 0-4-0.5-4-0.5-4-1-4-0.5-4-1-4-1-4-1-4-1-4-1-4-0.5-4-1-4-1-4-0.5-4-1-4-1-4-0.5-4-1-4-1-4-1.5-4-1.5-4-1.5-4-2-4-2-4-3-4-3-4-5-4-6-4-7-4-8-4-9-4-10.5-4-11-4-12-4-13-4-13-4-13.5-4-14-4-13.5-4-14-4-13.5-4-13-4-12.5-4-12-4-12-4-12-4-13-4-12.5-4-13-4-13-4-13-4-13-4-12.5-4-12-4-12-4-11-4-10.5-4-9.5-4-9-4-9-4-7-4-5ZM121 871.5l4 0.5 4 1 4 0.5 4 0.5 4 0 4 0.5 4 0 4 0 4 0 4-0.5 4-0.5 4-1 4-0.5 4-1 4-1.5 4-1.5 4-2 4-2.5 4-2.5 4-2.5 4-2 4-2 4-2 4-2 4-1.5 4-1.5 4-1 4-1 4-0.5 4-1 4-0.5 4-0.5 4-0.5 4-0.5 4-0.5 4 0 4-0.5 4 0 4-0.5 4 0 4 0 4-0.5 4 0 4-0.5 4-0.5 4-2 4-3 4-4 4-3.5 4-3.5 4-2.5 4-2.5 4-2 4-2 4-2 4-1 4-1.5 4-0.5 4-1 4-0.5 4-0.5 4-0.5 4-0.5 4-0.5 4-0.5 4 0 4-0.5 4 0 4-0.5 4 0 4-0.5 4 0 4 0 4-0.5 4 0 4 0 4 0 4-0.5 4 0 4-0.5 4-0.5 4-0.5 4-2 4-3 4-4 4-5 4-6 4-6.5 4-9 4-12 4-13.5 4-13 4-13 4-13.5 4-13 4-11 4-8.5 4-7 4-7 4-7 4-5.5 4-4.5 4-2.5 4-1 4 0 4 0 4 0 4 0 4 0 4 0 4 0 4 0.5 4 0 4 0 4 0 4 0 4 0 4 0 4 0 4 0.5 4 0 4 0 4 0 4-0.5 4-0.5 4-2 4-3 4-4.5 4-5 4-5.5 4-4.5 4-3.5 4-2 4-1 4-0.5 4-0.5 4 0 4-0.5 4-0.5 4 0 4 0 4 0 4 0 4 0.5 4 0.5 4 1 4 1 4 1 4 1 4 1 4 0.5 4 1 4 0 4 0.5 4-0.5 4-0.5 4-1 4-1.5 4-1.5 4-1.5 4-1.5 4-2 4-2 4-2 4-1.5 4-2 4-1.5 4-1.5 4-1 4-1.5 4-1.5 4-2 4-2 4-2 4-2.5 4-3.5 4-4 4-5 4-5.5 4-5.5 4-6 4-5.5 4-5.5 4-5.5 4-6 4-5.5 4-6 4-6 4-5.5 4-4.5 1-1.5 0 13-1 1.5-4 4.5-4 5.5-4 6-4 6-4 5.5-4 6-4 5.5-4 5.5-4 5.5-4 6-4 5.5-4 5.5-4 5-4 4-4 3.5-4 2.5-4 2-4 2-4 2-4 1.5-4 1.5-4 1-4 1.5-4 1.5-4 2-4 1.5-4 2-4 2-4 2-4 1.5-4 1.5-4 1.5-4 1.5-4 1-4 0.5-4 0.5-4-0.5-4 0-4-1-4-0.5-4-1-4-1-4-1-4-1-4-1-4-0.5-4-0.5-4 0-4 0-4 0-4 0-4 0.5-4 0.5-4 0-4 0.5-4 0.5-4 1-4 2-4 3.5-4 4.5-4 5.5-4 5-4 4.5-4 3-4 2-4 0.5-4 0.5-4 0-4 0-4 0-4-0.5-4 0-4 0-4 0-4 0-4 0-4 0-4 0-4-0.5-4 0-4 0-4 0-4 0-4 0-4 0-4 0-4 1-4 2.5-4 4.5-4 5.5-4 7-4 7-4 9-4 12-4 13.5-4 14-4 12.5-4 13-4 13-4 11.5-4 8-4 7-4 6.5-4 6-4 5-4 4-4 3-4 2-4 0.5-4 0.5-4 0.5-4 0-4 0.5-4 0-4 0-4 0-4 0.5-4 0-4 0-4 0.5-4 0-4 0.5-4 0-4 0.5-4 0-4 0.5-4 0.5-4 0.5-4 0.5-4 0.5-4 0.5-4 1-4 0.5-4 1.5-4 1-4 2-4 2-4 2-4 2.5-4 2.5-4 3.5-4 3.5-4 4-4 3-4 2-4 0.5-4 0.5-4 0-4 0.5-4 0-4 0-4 0.5-4 0-4 0.5-4 0-4 0.5-4 0.5-4 0.5-4 0.5-4 0.5-4 1-4 0.5-4 1-4 1-4 1.5-4 1.5-4 2-4 2-4 2-4 2-4 2.5-4 2.5-4 2.5-4 2-4 1.5-4 1.5-4 1-4 0.5-4 1-4 0.5-4 0.5-4 0-4 0-4 0-4-0.5-4 0-4-0.5-4-0.5-4-1-4-0.5ZM942 493.5l4 2.5 4 1 4-0.5 4-1.5 3-1 0 13-3 1-4 1.5-4 0.5-4-1-4-2.5ZM1109 494l4 1 4 1 4 1 4 1 4 1 4 0 4 0 4-1 4-2 3-2 0 13-3 2-4 2-4 1-4 0-4 0-4-1-4-1-4-1-4-1-4-1ZM1248 493.5l4 2.5 4 2 4 2 4 1 4 1 4 0.5 4 0 4 0 4 0 4 0 4 0 4 0 4 0 4 0 4 0 4 0.5 4 0 4 0.5 4 1 4 0.5 4 1 4 1 4 1 4 1.5 4 2 4 1.5 4 1.5 4 1 4 1 4 1 4 0.5 4 1 4 0.5 4 0.5 4 0.5 4 1 4 0.5 4 1 4 1 4 1 4 1 4 1.5 4 2 4 2.5 4 4.5 4 6.5 4 7 4 8.5 4 8.5 4 9.5 4 9.5 4 11 4 11.5 4 11.5 4 12.5 4 12.5 4 13 4 13 4 13 4 13 4 12.5 4 12.5 4 12 4 12 4 12 4 13 4 13 4 14 4 13.5 4 14 4 13.5 4 13.5 4 13 4 12.5 4 12 4 11 4 10 4 8.5 4 6.5 4 5 4 4 4 2.5 4 2.5 4 2 4 1.5 4 1.5 4 1.5 4 1 4 1 4 1 4 0.5 4 1 4 1 4 0.5 4 1 4 0.5 4 1 4 1 4 1 4 1 4 1 4 0.5 4 1 4 0.5 4 0.5 4 0.5 4 0 4 0.5 4 0.5 4 0 4 0.5 4 0 4 0.5 4 0 4 0 4 0.5 4 0 4-0.5 4-1.5 4-2.5 4-3.5 4-3.5 4-3 4-3 4-2 4-0.5 4 0 4 0.5 4 0.5 4 0.5 4 1 4 1.5 4 2 4 2 4 2.5 4 3 4 2.5 0 13-4-2.5-4-3-4-2.5-4-2-4-2-4-1.5-4-1-4-0.5-4-0.5-4-0.5-4 0-4 0.5-4 2-4 3-4 3-4 3.5-4 3.5-4 2.5-4 1.5-4 0.5-4 0-4-0.5-4 0-4 0-4-0.5-4 0-4-0.5-4 0-4-0.5-4-0.5-4 0-4-0.5-4-0.5-4-0.5-4-1-4-0.5-4-1-4-1-4-1-4-1-4-1-4-0.5-4-1-4-0.5-4-1-4-1-4-0.5-4-1-4-1-4-1-4-1.5-4-1.5-4-1.5-4-2-4-2.5-4-2.5-4-4-4-5-4-6.5-4-7-4-8-4-9.5-4-11-4-11-4-12.5-4-13-4-13-4-13.5-4-14-4-14-4-13.5-4-13.5-4-13-4-12.5-4-11.5-4-12-4-12.5-4-12.5-4-13-4-13-4-13-4-13-4-13-4-12-4-12.5-4-11.5-4-11-4-10-4-9.5-4-9-4-8.5-4-6.5-4-4.5-4-2.5-4-2-4-1.5-4-1-4-1-4-1-4-1-4-0.5-4-1-4-0.5-4-0.5-4-0.5-4-1-4-0.5-4-1-4-1-4-1-4-1.5-4-1.5-4-2-4-1.5-4-1-4-1-4-1-4-0.5-4-1-4-0.5-4 0-4-0.5-4 0-4 0-4 0-4 0-4 0-4 0-4 0-4 0-4 0-4-0.5-4-1-4-1-4-2-4-2-4-2.5ZM121 910.5l4 0.5 4 0.5 4 0.5 4 0.5 4 0.5 4 0 4 0 4 0 4 0 4 0 4-0.5 4-1 4-1 4-1 4-1 4-1.5 4-2 4-2.5 4-2.5 4-2.5 4-2 4-2 4-2 4-2 4-1.5 4-1.5 4-1 4-1 4-1 4-0.5 4-0.5 4-1 4-0.5 4 0 4-0.5 4-0.5 4 0 4-0.5 4 0 4 0 4-0.5 4 0 4 0 4-0.5 4-1 4-1.5 4-3.5 4-3.5 4-4 4-3 4-3 4-2 4-2.5 4-1.5 4-2 4-1.5 4-1 4-1 4-0.5 4-0.5 4-0.5 4-0.5 4-0.5 4-0.5 4-0.5 4-0.5 4 0 4-0.5 4 0 4-0.5 4 0 4 0 4-0.5 4 0 4 0 4 0 4-0.5 4 0 4-0.5 4 0 4-0.5 4-1 4-1.5 4-3 4-4 4-5.5 4-5.5 4-6.5 4-9 4-12 4-13.5 4-13 4-13 4-13.5 4-13 4-11.5 4-8 4-7.5 4-7 4-6.5 4-5.5 4-4.5 4-2.5 4-1 4-0.5 4 0 4 0.5 4 0 4 0 4 0 4 0 4 0 4 0 4 0 4 0.5 4 0 4 0 4 0 4 0 4 0 4 0 4 0 4 0 4 0 4-1 4-2 4-3 4-4 4-5 4-5.5 4-5 4-3.5 4-1.5 4-1 4-0.5 4-0.5 4-0.5 4 0 4-0.5 4 0 4 0 4 0 4 0 4 0.5 4 0.5 4 1 4 1 4 1 4 1 4 0.5 4 1 4 0.5 4 0.5 4 0 4 0 4-1 4-1 4-1 4-1.5 4-1.5 4-2 4-1.5 4-2 4-2 4-2 4-1.5 4-1.5 4-1.5 4-1.5 4-1.5 4-1.5 4-1.5 4-2 4-2 4-2.5 4-3.5 4-4.5 4-4.5 4-5.5 4-6 4-5.5 4-6 4-5.5 4-5.5 4-5.5 4-6 4-6 4-5.5 4-5.5 4-5 4-4.5 4-3.5 4-3.5 4-2.5 4-1 4-0.5 4-0.5 4 0 4 0 4 0 4 0.5 4 2.5 4 3 4 3.5 4 3.5 4 3 4 1 4 0 4-1 4-2 4-2 4-2.5 4-2.5 4-2.5 4-3 4-2.5 4-3 4-2.5 4-2 4-0.5 4 0 4 0.5 4 0.5 4 1 4 0.5 4 1 4 1 4 1 4 1 4 1 4 1.5 4 1 4 1 4 1 4 0.5 4 1 4 1 4 0.5 4 1 4 1 4 0.5 4 1 4 0.5 4 1 4 1 4 1 4 1 4 1 4 1.5 4 1 4 1 4 0.5 4 0.5 4 0 4-1 4-2 4-3 4-2.5 4-3 4-3 4-3 4-3.5 4-3.5 4-3 4-2.5 4-1.5 4 0 4 0 4 0.5 4 1 4 1 4 1 4 1.5 4 2 4 2.5 4 2.5 4 2.5 4 3 4 2 4 2.5 4 2 4 2.5 4 2.5 4 2 4 1.5 4 1 4 1 4 0 4 0 4 0 4 0 4 0 4 0 4 0 4 0 4 0 4 0.5 4 0 4 0.5 4 0.5 4 1 4 0.5 4 1 4 1 4 1.5 4 1.5 4 1.5 4 1.5 4 1.5 4 1 4 1 4 1 4 0.5 4 0.5 4 1 4 0.5 4 0.5 4 1 4 0.5 4 1 4 1 4 1 4 1.5 4 1.5 4 1.5 4 3 4 5 4 6.5 4 8 4 8.5 4 8.5 4 9.5 4 10 4 11 4 11.5 4 12 4 12.5 4 12.5 4 13 4 13 4 13 4 13 4 12.5 4 12.5 4 12 4 12 4 12 4 13 4 13.5 4 13.5 4 14 4 13.5 4 14 4 13 4 13 4 12.5 4 11.5 4 11 4 9.5 4 8 4 6.5 4 4.5 4 3.5 4 2.5 2 1 0 13-2-1-4-2.5-4-3.5-4-4.5-4-6.5-4-6.5-4-8-4-9.5-4-10-4-11.5-4-12-4-12.5-4-13.5-4-13.5-4-14-4-13.5-4-14-4-13.5-4-13-4-12.5-4-12-4-12-4-12-4-12.5-4-13-4-13-4-13-4-13-4-13-4-12.5-4-12-4-12-4-11-4-10.5-4-9.5-4-9-4-8.5-4-7.5-4-5-4-3-4-1.5-4-1.5-4-1.5-4-1-4-1-4-1-4-0.5-4-1-4-0.5-4-0.5-4-1-4-0.5-4-0.5-4-1-4-1-4-1-4-1.5-4-1.5-4-1.5-4-1.5-4-1.5-4-1-4-1-4-0.5-4-1-4-0.5-4-0.5-4 0-4-0.5-4 0-4 0-4 0-4 0-4 0-4 0-4 0-4 0-4 0-4-1-4-1-4-1.5-4-2-4-2.5-4-2.5-4-2-4-2.5-4-2-4-3-4-2.5-4-2.5-4-2.5-4-2-4-1.5-4-1-4-1-4-1-4-0.5-4 0-4 0-4 1.5-4 2.5-4 3-4 3.5-4 3.5-4 3-4 3-4 3-4 2.5-4 3-4 2-4 1-4 0-4-0.5-4-0.5-4-1-4-1-4-1.5-4-1-4-1-4-1-4-1-4-1-4-0.5-4-1-4-0.5-4-1-4-1-4-0.5-4-1-4-1-4-0.5-4-1-4-1-4-1-4-1.5-4-1-4-1-4-1-4-1-4-1-4-0.5-4-1-4-0.5-4-0.5-4 0-4 0.5-4 2-4 2.5-4 3-4 2.5-4 3-4 2.5-4 2.5-4 2.5-4 2-4 2-4 1-4 0-4-1-4-3-4-3.5-4-3.5-4-3-4-2.5-4-0.5-4 0-4 0-4 0-4 0.5-4 0.5-4 1-4 2.5-4 3.5-4 3.5-4 4.5-4 5-4 5.5-4 5.5-4 6-4 6-4 5.5-4 5.5-4 5.5-4 6-4 5.5-4 6-4 5.5-4 4.5-4 4.5-4 3.5-4 2.5-4 2-4 2-4 1.5-4 1.5-4 1.5-4 1.5-4 1.5-4 1.5-4 1.5-4 2-4 2-4 2-4 1.5-4 2-4 1.5-4 1.5-4 1-4 1-4 1-4 0-4 0-4-0.5-4-0.5-4-1-4-0.5-4-1-4-1-4-1-4-1-4-0.5-4-0.5-4 0-4 0-4 0-4 0-4 0.5-4 0-4 0.5-4 0.5-4 0.5-4 1-4 1.5-4 3.5-4 5-4 5.5-4 5-4 4-4 3-4 2-4 1-4 0-4 0-4 0-4 0-4 0-4 0-4 0-4 0-4 0-4-0.5-4 0-4 0-4 0-4 0-4 0-4 0-4 0-4-0.5-4 0-4 0.5-4 1-4 2.5-4 4.5-4 5.5-4 6.5-4 7.5-4 9-4 12-4 13.5-4 13.5-4 13-4 13-4 13-4 11-4 8.5-4 7-4 6.5-4 5.5-4 5.5-4 4-4 3-4 1.5-4 1-4 0.5-4 0-4 0.5-4 0-4 0.5-4 0-4 0-4 0-4 0.5-4 0-4 0-4 0.5-4 0-4 0.5-4 0-4 0.5-4 0.5-4 0.5-4 0.5-4 0.5-4 0.5-4 0.5-4 0.5-4 1-4 1-4 1.5-4 2-4 1.5-4 2.5-4 2-4 3-4 3-4 4-4 3.5-4 3.5-4 1.5-4 1-4 0.5-4 0-4 0-4 0.5-4 0-4 0-4 0.5-4 0-4 0.5-4 0.5-4 0-4 0.5-4 1-4 0.5-4 0.5-4 1-4 1-4 1-4 1.5-4 1.5-4 2-4 2-4 2-4 2-4 2.5-4 2.5-4 2.5-4 2-4 1.5-4 1-4 1-4 1-4 1-4 0.5-4 0-4 0-4 0-4 0-4 0-4-0.5-4-0.5-4-0.5-4-0.5-4-0.5ZM121 949.5l4 0.5 4 0.5 4 0.5 4 0.5 4 0 4 0.5 4 0 4 0 4 0 4-0.5 4-0.5 4-0.5 4-1 4-1 4-1.5 4-1.5 4-1.5 4-2.5 4-2.5 4-2.5 4-2.5 4-2 4-2 4-1.5 4-2 4-1.5 4-1 4-1 4-0.5 4-1 4-0.5 4-0.5 4-0.5 4-0.5 4-0.5 4 0 4-0.5 4 0 4 0 4-0.5 4 0 4 0 4-0.5 4-0.5 4-0.5 4-2 4-3 4-3.5 4-4 4-3.5 4-2.5 4-2.5 4-2 4-2 4-1.5 4-1.5 4-1 4-1 4-1 4-0.5 4-0.5 4-0.5 4-0.5 4-0.5 4 0 4-0.5 4-0.5 4 0 4-0.5 4 0 4-0.5 4 0 4 0 4 0 4-0.5 4 0 4 0 4-0.5 4 0 4-0.5 4 0 4-1 4-1.5 4-3 4-4.5 4-5 4-6 4-6.5 4-9 4-12 4-13 4-13.5 4-13 4-13.5 4-13 4-11 4-8.5 4-7 4-7 4-6.5 4-6 4-4 4-3 4-1 4 0 4 0 4 0 4 0 4 0 4 0 4 0.5 4 0 4 0 4 0 4 0 4 0 4 0 4 0.5 4 0 4 0 4 0 4 0 4 0 4 0 4-1 4-2 4-3 4-4 4-5.5 4-5 4-5 4-3.5 4-2 4-0.5 4-1 4 0 4-0.5 4-0.5 4 0 4-0.5 4 0 4 0 4 0 4 0.5 4 1 4 0.5 4 1 4 1 4 1 4 1 4 1 4 0.5 4 0.5 4 0 4-0.5 4-0.5 4-1 4-1.5 4-1 4-2 4-1.5 4-2 4-2 4-1.5 4-2 4-1.5 4-1.5 4-1.5 4-1.5 4-1.5 4-1.5 4-2 4-1.5 4-2.5 4-2.5 4-3.5 4-4 4-5 4-5.5 4-5.5 4-6 4-5.5 4-5.5 4-5.5 4-5.5 4-6 4-6 4-5.5 4-5.5 4-5 4-4.5 4-4 4-3 4-2.5 4-1.5 4-0.5 4 0 4-0.5 4 0 4 0 4 1 4 2 4 3.5 4 3.5 4 3.5 4 2.5 4 1.5 4 0 4-1.5 4-1.5 4-2.5 4-2.5 4-2.5 4-2.5 4-2.5 4-3 4-3 4-2.5 4-1.5 4-1 4 0 4 0.5 4 1 4 0.5 4 1 4 1 4 1 4 0.5 4 1.5 4 1 4 1 4 1 4 1 4 1 4 1 4 1 4 0.5 4 1 4 1 4 0.5 4 1 4 0.5 4 1 4 1 4 1 4 1 4 1 4 1 4 1 4 1 4 1 4 1 4 0.5 4-0.5 4-1 4-2 4-2.5 4-3 4-3 4-2.5 4-3.5 4-3 4-3.5 4-3 4-2.5 4-1.5 4-0.5 4 0.5 4 0.5 4 1 4 0.5 4 1.5 4 1 4 2 4 2.5 4 2.5 4 3 4 2.5 4 2.5 4 2 4 2.5 4 2.5 4 2 4 2 4 2 4 1 4 0.5 4 0.5 4 0 4 0 4 0 4 0 4 0 4 0 4 0 4 0 4 0 4 0.5 4 0.5 4 0.5 4 0.5 4 1 4 0.5 4 1.5 4 1 4 1.5 4 2 4 1.5 4 1 4 1.5 4 1 4 0.5 4 1 4 0.5 4 0.5 4 1 4 0.5 4 0.5 4 1 4 1 4 1 4 1 4 1 4 1.5 4 2 4 3 4 5 4 6.5 4 8 4 8 4 9 4 9.5 4 10 4 11 4 11.5 4 12 4 12 4 13 4 13 4 13 4 13 4 12.5 4 13 4 12.5 4 12 4 11.5 4 12.5 4 13 4 13 4 14 4 13.5 4 14 4 13.5 4 13.5 4 13 4 12.5 4 11.5 2 5.5 0 16.5-2-4.5-4-10.5-4-11-4-12-4-13-4-13-4-13.5-4-14-4-14-4-13.5-4-13.5-4-13-4-12.5-4-12-4-12-4-12.5-4-12.5-4-12.5-4-13-4-13-4-13-4-13-4-12.5-4-12-4-12-4-11-4-10.5-4-9.5-4-9-4-9-4-7-4-5-4-3-4-2-4-1.5-4-1-4-1-4-1-4-1-4-1-4-0.5-4-0.5-4-1-4-0.5-4-0.5-4-1-4-0.5-4-1-4-1.5-4-1-4-1.5-4-2-4-1.5-4-1-4-1.5-4-0.5-4-1-4-0.5-4-0.5-4-0.5-4-0.5-4 0-4 0-4 0-4 0-4 0-4 0-4 0-4 0-4 0-4-0.5-4-0.5-4-1-4-2-4-2-4-2-4-2.5-4-2.5-4-2-4-2.5-4-2.5-4-3-4-2.5-4-2.5-4-2-4-1-4-1.5-4-0.5-4-1-4-0.5-4-0.5-4 0.5-4 1.5-4 2.5-4 3-4 3.5-4 3-4 3.5-4 2.5-4 3-4 3-4 2.5-4 2-4 1-4 0.5-4-0.5-4-1-4-1-4-1-4-1-4-1-4-1-4-1-4-1-4-1-4-1-4-0.5-4-1-4-0.5-4-1-4-1-4-0.5-4-1-4-1-4-1-4-1-4-1-4-1-4-1-4-1.5-4-0.5-4-1-4-1-4-1-4-0.5-4-1-4-0.5-4 0-4 1-4 1.5-4 2.5-4 3-4 3-4 2.5-4 2.5-4 2.5-4 2.5-4 2.5-4 1.5-4 1.5-4 0-4-1.5-4-2.5-4-3.5-4-3.5-4-3.5-4-2-4-1-4 0-4 0-4 0.5-4 0-4 0.5-4 1.5-4 2.5-4 3-4 4-4 4.5-4 5-4 5.5-4 5.5-4 6-4 6-4 5.5-4 5.5-4 5.5-4 5.5-4 6-4 5.5-4 5.5-4 5-4 4-4 3.5-4 2.5-4 2.5-4 1.5-4 2-4 1.5-4 1.5-4 1.5-4 1.5-4 1.5-4 1.5-4 2-4 1.5-4 2-4 2-4 1.5-4 2-4 1-4 1.5-4 1-4 0.5-4 0.5-4 0-4-0.5-4-0.5-4-1-4-1-4-1-4-1-4-1-4-0.5-4-1-4-0.5-4 0-4 0-4 0-4 0.5-4 0-4 0.5-4 0.5-4 0-4 1-4 0.5-4 2-4 3.5-4 5-4 5-4 5.5-4 4-4 3-4 2-4 1-4 0-4 0-4 0-4 0-4 0-4 0-4-0.5-4 0-4 0-4 0-4 0-4 0-4 0-4-0.5-4 0-4 0-4 0-4 0-4 0-4 0-4 1-4 3-4 4-4 6-4 6.5-4 7-4 9.5-4 11.5-4 14-4 13.5-4 12.5-4 13-4 13-4 11.5-4 8.5-4 6.5-4 6.5-4 6-4 5-4 4.5-4 3-4 1.5-4 1-4 0-4 0.5-4 0-4 0.5-4 0-4 0-4 0.5-4 0-4 0-4 0-4 0.5-4 0-4 0.5-4 0-4 0.5-4 0.5-4 0-4 0.5-4 0.5-4 0.5-4 0.5-4 0.5-4 1-4 1-4 1-4 1.5-4 1.5-4 2-4 2-4 2.5-4 2.5-4 3.5-4 4-4 3.5-4 3-4 2-4 0.5-4 0.5-4 0.5-4 0-4 0-4 0.5-4 0-4 0-4 0.5-4 0-4 0.5-4 0.5-4 0.5-4 0.5-4 0.5-4 1-4 0.5-4 1-4 1-4 1.5-4 2-4 1.5-4 2-4 2-4 2.5-4 2.5-4 2.5-4 2.5-4 1.5-4 1.5-4 1.5-4 1-4 1-4 0.5-4 0.5-4 0.5-4 0-4 0-4 0-4-0.5-4 0-4-0.5-4-0.5-4-0.5-4-0.5ZM196 978l4-2.5 4-2 4-2 4-2 4-2 4-1.5 4-1.5 4-1.5 4-1 4-0.5 4-1 4-0.5 4-0.5 4-0.5 4-0.5 4-0.5 4-0.5 4 0 4 0 4-0.5 4 0 4 0 4-0.5 4 0 4-0.5 4-0.5 4-1.5 4-3 4-3.5 4-4 4-3.5 4-2.5 4-2.5 4-2 4-2 4-2 4-1.5 4-1 4-1 4-1 4-0.5 4-0.5 4-0.5 4-0.5 4-0.5 4-0.5 4 0 4-0.5 4-0.5 4 0 4 0 4-0.5 4 0 4 0 4-0.5 4 0 4 0 4-0.5 4 0 4 0 4-0.5 4-0.5 4-0.5 4-1.5 4-2.5 4-4 4-5 4-5.5 4-6.5 4-8 4-11.5 4-13 4-13.5 4-12.5 4-13.5 4-13.5 4-11.5 4-9 4-7.5 4-7 4-7 4-5.5 4-5 4-3 4-1.5 4 0 4 0 4 0 4 0 4 0 4 0 4 0 4 0 4 0 4 0.5 4 0 4 0 4 0 4 0 4 0 4 0 4 0 4 0.5 4 0 4-0.5 4-0.5 4-1.5 4-3 4-3.5 4-5 4-5.5 4-5 4-4 4-2.5 4-1 4-0.5 4-0.5 4 0 4-0.5 4-0.5 4 0 4 0 4 0 4 0 4 0.5 4 0.5 4 1 4 0.5 4 1 4 1 4 1 4 1 4 0.5 4 0.5 4 0 4 0 4-0.5 4-1 4-1 4-1.5 4-1.5 4-2 4-1.5 4-2 4-2 4-1.5 4-2 4-1.5 4-1.5 4-1.5 4-1.5 4-1.5 4-1.5 4-2 4-2 4-2.5 4-3 4-4 4-5 4-5 4-6 4-5.5 4-6 4-5.5 4-5.5 4-5.5 4-6 4-5.5 4-6 4-5.5 4-5 4-4.5 4-4 4-3.5 4-3 4-1.5 4-0.5 4-0.5 4 0 4 0 4 0 4 0.5 4 2 4 2.5 4 4 4 3.5 4 3 4 1.5 4 0.5 4-1 4-2 4-2 4-2.5 4-2.5 4-2.5 4-2.5 4-3 4-3 4-2.5 4-2 4-1 4 0 4 0.5 4 0.5 4 0.5 4 1 4 1 4 1 4 1 4 1 4 1 4 1 4 1 4 1.5 4 0.5 4 1 4 1 4 1 4 0.5 4 1 4 0.5 4 1 4 1 4 0.5 4 1 4 1 4 1 4 1 4 1 4 1 4 1.5 4 0.5 4 1 4 0.5 4 0 4-0.5 4-2 4-2.5 4-3 4-3 4-2.5 4-3 4-3.5 4-3.5 4-3 4-3 4-1.5 4-0.5 4 0 4 0.5 4 1 4 1 4 1 4 1 4 2 4 2 4 3 4 2.5 4 3 4 2 4 2.5 4 2 4 2.5 4 2.5 4 2 4 1.5 4 1.5 4 1 4 0 4 0.5 4 0 4 0 4 0 4 0 4 0 4 0 4 0 4 0 4 0 4 0.5 4 0.5 4 1 4 0.5 4 1 4 1 4 1 4 1.5 4 1.5 4 1.5 4 1.5 4 1.5 4 1 4 1 4 0.5 4 0.5 4 1 4 0.5 4 0.5 4 1 4 0.5 4 1 4 1 4 1 4 1 4 1.5 4 2 4 2.5 4 4 4 6.5 4 7.5 4 8.5 4 8.5 4 9 4 10 4 11 4 11 4 12 4 12.5 4 12.5 4 13 4 13 4 13 4 13 4 12.5 4 12.5 4 12 4 12 4 12 4 13 4 13 4 13.5 4 14 4 14 4 13.5 4 13.5 1 3.5 0 20.5-1-3-4-13-4-13-4-14-4-13.5-4-14-4-13.5-4-13.5-4-13-4-12.5-4-12-4-11.5-4-12.5-4-13-4-12.5-4-13-4-13-4-13-4-13-4-12.5-4-12-4-11.5-4-11-4-10.5-4-9-4-9-4-8.5-4-7-4-4-4-2.5-4-2-4-1.5-4-1-4-1-4-1-4-1-4-0.5-4-1-4-0.5-4-0.5-4-1-4-0.5-4-0.5-4-1-4-1-4-1.5-4-1.5-4-1.5-4-1.5-4-1.5-4-1-4-1-4-1-4-0.5-4-1-4-0.5-4-0.5-4 0-4 0-4 0-4 0-4 0-4 0-4 0-4 0-4 0-4-0.5-4 0-4-1-4-1.5-4-1.5-4-2-4-2.5-4-2.5-4-2-4-2.5-4-2-4-3-4-2.5-4-3-4-2-4-2-4-1-4-1-4-1-4-1-4-0.5-4 0-4 0.5-4 1.5-4 3-4 3-4 3.5-4 3.5-4 3-4 2.5-4 3-4 3-4 2.5-4 2-4 0.5-4 0-4-0.5-4-1-4-0.5-4-1.5-4-1-4-1-4-1-4-1-4-1-4-1-4-0.5-4-1-4-1-4-0.5-4-1-4-0.5-4-1-4-1-4-1-4-0.5-4-1.5-4-1-4-1-4-1-4-1-4-1-4-1-4-1-4-1-4-0.5-4-0.5-4-0.5-4 0-4 1-4 2-4 2.5-4 3-4 3-4 2.5-4 2.5-4 2.5-4 2.5-4 2-4 2-4 1-4-0.5-4-1.5-4-3-4-3.5-4-4-4-2.5-4-2-4-0.5-4 0-4 0-4 0-4 0.5-4 0.5-4 1.5-4 3-4 3.5-4 4-4 4.5-4 5-4 5.5-4 6-4 5.5-4 6-4 5.5-4 5.5-4 5.5-4 6-4 5.5-4 6-4 5-4 5-4 4-4 3-4 2.5-4 2-4 2-4 1.5-4 1.5-4 1.5-4 1.5-4 1.5-4 1.5-4 2-4 1.5-4 2-4 2-4 1.5-4 2-4 1.5-4 1.5-4 1-4 1-4 0.5-4 0-4 0-4-0.5-4-0.5-4-1-4-1-4-1-4-1-4-0.5-4-1-4-0.5-4-0.5-4 0-4 0-4 0-4 0-4 0.5-4 0.5-4 0-4 0.5-4 0.5-4 1-4 2.5-4 4-4 5-4 5.5-4 5-4 3.5-4 3-4 1.5-4 0.5-4 0.5-4 0-4-0.5-4 0-4 0-4 0-4 0-4 0-4 0-4 0-4-0.5-4 0-4 0-4 0-4 0-4 0-4 0-4 0-4 0-4 0-4 1.5-4 3-4 5-4 5.5-4 7-4 7.5-4 10-4 12.5-4 13.5-4 13.5-4 12.5-4 13.5-4 12.5-4 10.5-4 8-4 6.5-4 6.5-4 5.5-4 5-4 4-4 2.5-4 1.5-4 0.5-4 0.5-4 0.5-4 0-4 0-4 0.5-4 0-4 0-4 0.5-4 0-4 0-4 0.5-4 0-4 0-4 0.5-4 0.5-4 0-4 0.5-4 0.5-4 0.5-4 0.5-4 0.5-4 0.5-4 1-4 1-4 1-4 1.5-4 2-4 2-4 2-4 2.5-4 2.5-4 3.5-4 4-4 3.5-4 3-4 1.5-4 0.5-4 0.5-4 0-4 0.5-4 0-4 0-4 0.5-4 0-4 0-4 0.5-4 0.5-4 0.5-4 0.5-4 0.5-4 0.5-4 1-4 0.5-4 1-4 1.5-4 1.5-4 1.5-4 2-4 2-4 2-4 2-4 2.5ZM321 978l4-2.5 4-2 4-2.5 4-2 4-1.5 4-1.5 4-1 4-1 4-0.5 4-1 4-0.5 4-0.5 4-0.5 4 0 4-0.5 4-0.5 4 0 4-0.5 4-0.5 4 0 4 0 4-0.5 4 0 4 0 4 0 4-0.5 4 0 4 0 4-0.5 4 0 4-0.5 4-1 4-1.5 4-3 4-4.5 4-5 4-6 4-6.5 4-8.5 4-12.5 4-13 4-13.5 4-12.5 4-13.5 4-13.5 4-11 4-8.5 4-7 4-7 4-6.5 4-5.5 4-4.5 4-2.5 4-1 4-0.5 4 0 4 0 4 0 4 0.5 4 0 4 0 4 0 4 0 4 0 4 0 4 0 4 0.5 4 0 4 0 4 0 4 0 4 0 4 0 4 0 4-1 4-2 4-3 4-4 4-5 4-5.5 4-5 4-3.5 4-2 4-0.5 4-0.5 4-0.5 4-0.5 4-0.5 4 0 4 0 4-0.5 4 0 4 0.5 4 0.5 4 0.5 4 1 4 0.5 4 1 4 1 4 1 4 1 4 0.5 4 0.5 4 0 4-0.5 4-0.5 4-1 4-1 4-1.5 4-1.5 4-2 4-2 4-1.5 4-2 4-2 4-1.5 4-1.5 4-1.5 4-1.5 4-1.5 4-1.5 4-1.5 4-2 4-2 4-3 4-3 4-4.5 4-5 4-5 4-6 4-5.5 4-6 4-5.5 4-5.5 4-5.5 4-6 4-6 4-5.5 4-5.5 4-5 4-4.5 4-3.5 4-3.5 4-2.5 4-1.5 4-0.5 4 0 4 0 4-0.5 4 0.5 4 0.5 4 2 4 3.5 4 3.5 4 3.5 4 2.5 4 1.5 4 0 4-1 4-2 4-2.5 4-2.5 4-2 4-2.5 4-3 4-3 4-2.5 4-2.5 4-2 4-0.5 4 0 4 0.5 4 0.5 4 0.5 4 1 4 1 4 1 4 1 4 1 4 1 4 1 4 1.5 4 1 4 1 4 0.5 4 1 4 1 4 0.5 4 1 4 0.5 4 1 4 1 4 0.5 4 1 4 1 4 1 4 1 4 1 4 1.5 4 1 4 1 4 0.5 4 0.5 4 0 4-1 4-2 4-3 4-3 4-3 4-2.5 4-3 4-3.5 4-3.5 4-3 4-2.5 4-1.5 4 0 4 0 4 0.5 4 1 4 1 4 1 4 1.5 4 1.5 4 2.5 4 3 4 2.5 4 2.5 4 2.5 4 2.5 4 2 4 2.5 4 2 4 2 4 2 4 1 4 1 4 0 4 0 4 0 4 0 4 0 4 0 4 0 4 0 4 0 4 0.5 4 0 4 0.5 4 0.5 4 0.5 4 1 4 1 4 1 4 1.5 4 1.5 4 1.5 4 1.5 4 1.5 4 1 4 1 4 1 4 0.5 4 0.5 4 0.5 4 1 4 0.5 4 1 4 0.5 4 1 4 1 4 1 4 1 4 1.5 4 2 4 3 4 5 4 6.5 4 8 4 8.5 4 8.5 4 9.5 4 10 4 11 4 11.5 4 12 4 12 4 13 4 13 4 13 4 13 4 13 4 12.5 4 12.5 4 12 4 11.5 4 12.5 4 13 4 13 4 14 4 13.5 1 3.5 0 22.5-1-3.5-4-14-4-13.5-4-14-4-13.5-4-13-4-12.5-4-12-4-12-4-12-4-13-4-12.5-4-13-4-13-4-13-4-13-4-12.5-4-12-4-12-4-11-4-10.5-4-9.5-4-9-4-9-4-7-4-5-4-3-4-2-4-1.5-4-1-4-1-4-1-4-1-4-0.5-4-1-4-0.5-4-1-4-0.5-4-0.5-4-0.5-4-1-4-1-4-1-4-1.5-4-1.5-4-1.5-4-1.5-4-1.5-4-1-4-1-4-1-4-0.5-4-0.5-4-0.5-4 0-4-0.5-4 0-4 0-4 0-4 0-4 0-4 0-4 0-4 0-4 0-4-1-4-1-4-2-4-2-4-2-4-2.5-4-2-4-2.5-4-2.5-4-2.5-4-2.5-4-3-4-2.5-4-1.5-4-1.5-4-1-4-1-4-1-4-0.5-4 0-4 0-4 1.5-4 2.5-4 3-4 3.5-4 3.5-4 3-4 2.5-4 3-4 3-4 3-4 2-4 1-4 0-4-0.5-4-0.5-4-1-4-1-4-1.5-4-1-4-1-4-1-4-1-4-1-4-0.5-4-1-4-1-4-0.5-4-1-4-0.5-4-1-4-1-4-0.5-4-1-4-1-4-1.5-4-1-4-1-4-1-4-1-4-1-4-1-4-1-4-0.5-4-0.5-4-0.5-4 0-4 0.5-4 2-4 2.5-4 2.5-4 3-4 3-4 2.5-4 2-4 2.5-4 2.5-4 2-4 1-4 0-4-1.5-4-2.5-4-3.5-4-3.5-4-3.5-4-2-4-0.5-4-0.5-4 0.5-4 0-4 0-4 0.5-4 1.5-4 2.5-4 3.5-4 3.5-4 4.5-4 5-4 5.5-4 5.5-4 6-4 6-4 5.5-4 5.5-4 5.5-4 6-4 5.5-4 6-4 5-4 5-4 4.5-4 3-4 3-4 2-4 2-4 1.5-4 1.5-4 1.5-4 1.5-4 1.5-4 1.5-4 1.5-4 2-4 2-4 1.5-4 2-4 2-4 1.5-4 1.5-4 1-4 1-4 0.5-4 0.5-4 0-4-0.5-4-0.5-4-1-4-1-4-1-4-1-4-0.5-4-1-4-0.5-4-0.5-4-0.5-4 0-4 0.5-4 0-4 0-4 0.5-4 0.5-4 0.5-4 0.5-4 0.5-4 2-4 3.5-4 5-4 5.5-4 5-4 4-4 3-4 2-4 1-4 0-4 0-4 0-4 0-4 0-4 0-4 0-4-0.5-4 0-4 0-4 0-4 0-4 0-4 0-4 0-4-0.5-4 0-4 0-4 0-4 0.5-4 1-4 2.5-4 4.5-4 5.5-4 6.5-4 7.5-4 9-4 12-4 13.5-4 13.5-4 13-4 13-4 12.5-4 11.5-4 8.5-4 6.5-4 6.5-4 6-4 5-4 4.5-4 3-4 1.5-4 1-4 0.5-4 0-4 0.5-4 0-4 0-4 0.5-4 0-4 0-4 0-4 0.5-4 0-4 0-4 0.5-4 0.5-4 0-4 0.5-4 0.5-4 0-4 0.5-4 0.5-4 0.5-4 1-4 0.5-4 1-4 1-4 1.5-4 1.5-4 2-4 2.5-4 2-4 2.5ZM467 978l4-6 4-7.5 4-10.5 4-13 4-13.5 4-13 4-13 4-13.5 4-12.5 4-9.5 4-7.5 4-7 4-7 4-6.5 4-5 4-3.5 4-1.5 4-0.5 4 0 4 0 4 0 4 0 4 0 4 0 4 0 4 0.5 4 0 4 0 4 0 4 0 4 0 4 0 4 0.5 4 0 4 0 4 0 4 0 4-0.5 4-1.5 4-2.5 4-3.5 4-4.5 4-5.5 4-5.5 4-4 4-3 4-1 4-0.5 4-0.5 4-0.5 4-0.5 4 0 4-0.5 4 0 4 0 4 0 4 0.5 4 0.5 4 0.5 4 1 4 1 4 1 4 1 4 1 4 0.5 4 0.5 4 0.5 4-0.5 4-0.5 4-0.5 4-1 4-1.5 4-1.5 4-2 4-1.5 4-2 4-2 4-1.5 4-2 4-1.5 4-1.5 4-1.5 4-1.5 4-1.5 4-1.5 4-2 4-2 4-2 4-3 4-4 4-4.5 4-5 4-5.5 4-6 4-6 4-5.5 4-5.5 4-5.5 4-5.5 4-6 4-6 4-5.5 4-5.5 4-4.5 4-4 4-3.5 4-3 4-2 4-1 4 0 4-0.5 4 0 4 0 4 0.5 4 1.5 4 2.5 4 3.5 4 3.5 4 3.5 4 2 4 0.5 4-0.5 4-1.5 4-2.5 4-2.5 4-2 4-2.5 4-2.5 4-3 4-3 4-2.5 4-2.5 4-1 4-0.5 4 0.5 4 0.5 4 0.5 4 1 4 1 4 0.5 4 1 4 1 4 1.5 4 1 4 1 4 1 4 1 4 1 4 1 4 0.5 4 1 4 1 4 0.5 4 1 4 0.5 4 1 4 1 4 0.5 4 1 4 1 4 1.5 4 1 4 1 4 1 4 1 4 0.5 4 0 4-0.5 4-1.5 4-2 4-3 4-3 4-3 4-3 4-3 4-3.5 4-3.5 4-2.5 4-2 4-1 4 0 4 0.5 4 1 4 0.5 4 1 4 1.5 4 1.5 4 2 4 3 4 2.5 4 2.5 4 2.5 4 2.5 4 2 4 2.5 4 2.5 4 2 4 2 4 1.5 4 1 4 0.5 4 0 4 0 4 0 4 0 4 0 4 0 4 0 4 0 4 0 4 0 4 0.5 4 0.5 4 0.5 4 1 4 0.5 4 1 4 1.5 4 1.5 4 1.5 4 1.5 4 1.5 4 1 4 1.5 4 0.5 4 1 4 0.5 4 0.5 4 1 4 0.5 4 0.5 4 1 4 1 4 1 4 1 4 1 4 1 4 2 4 2 4 4 4 6 4 7 4 8.5 4 8.5 4 9 4 9.5 4 10.5 4 11.5 4 11.5 4 12.5 4 12.5 4 12.5 4 13 4 13 4 13 4 13 4 12.5 4 12 4 12 4 12 4 12.5 3 10 0 22-3-10.5-4-13.5-4-12.5-4-12.5-4-11.5-4-12-4-12.5-4-13-4-13-4-13-4-13-4-12.5-4-13-4-12.5-4-12-4-11-4-11-4-10-4-9.5-4-8.5-4-8.5-4-6-4-4-4-2-4-2-4-1-4-1-4-1-4-1-4-1-4-1-4-0.5-4-0.5-4-1-4-0.5-4-0.5-4-1-4-0.5-4-1.5-4-1-4-1.5-4-1.5-4-1.5-4-1.5-4-1.5-4-1-4-0.5-4-1-4-0.5-4-0.5-4-0.5-4 0-4 0-4 0-4 0-4 0-4 0-4 0-4 0-4 0-4 0-4-0.5-4-1-4-1.5-4-2-4-2-4-2.5-4-2.5-4-2-4-2.5-4-2.5-4-2.5-4-2.5-4-3-4-2-4-1.5-4-1.5-4-1-4-0.5-4-1-4-0.5-4 0-4 1-4 2-4 2.5-4 3.5-4 3.5-4 3-4 3-4 3-4 3-4 3-4 2-4 1.5-4 0.5-4 0-4-0.5-4-1-4-1-4-1-4-1-4-1.5-4-1-4-1-4-0.5-4-1-4-1-4-0.5-4-1-4-0.5-4-1-4-1-4-0.5-4-1-4-1-4-1-4-1-4-1-4-1-4-1.5-4-1-4-1-4-0.5-4-1-4-1-4-0.5-4-0.5-4-0.5-4 0.5-4 1-4 2.5-4 2.5-4 3-4 3-4 2.5-4 2.5-4 2-4 2.5-4 2.5-4 1.5-4 0.5-4-0.5-4-2-4-3.5-4-3.5-4-3.5-4-2.5-4-1.5-4-0.5-4 0-4 0-4 0.5-4 0-4 1-4 2-4 3-4 3.5-4 4-4 4.5-4 5.5-4 5.5-4 6-4 6-4 5.5-4 5.5-4 5.5-4 5.5-4 6-4 6-4 5.5-4 5-4 4.5-4 4-4 3-4 2-4 2-4 2-4 1.5-4 1.5-4 1.5-4 1.5-4 1.5-4 1.5-4 2-4 1.5-4 2-4 2-4 1.5-4 2-4 1.5-4 1.5-4 1-4 0.5-4 0.5-4 0.5-4-0.5-4-0.5-4-0.5-4-1-4-1-4-1-4-1-4-1-4-0.5-4-0.5-4-0.5-4 0-4 0-4 0-4 0.5-4 0-4 0.5-4 0.5-4 0.5-4 0.5-4 1-4 3-4 4-4 5.5-4 5.5-4 4.5-4 3.5-4 2.5-4 1.5-4 0.5-4 0-4 0-4 0-4 0-4-0.5-4 0-4 0-4 0-4 0-4 0-4 0-4-0.5-4 0-4 0-4 0-4 0-4 0-4 0-4 0-4 0.5-4 1.5-4 3.5-4 5-4 6.5-4 7-4 8-4 10.5-4 13-4 13.5-4 13.5-4 12.5-4 13-4 12.5-4 10-4 7-4 7-4 6ZM485 973l4-13 4-13 4-13.5 4-13 4-11.5 4-8 4-7.5 4-7 4-6.5 4-5.5 4-4.5 4-2.5 4-1 4-0.5 4 0 4 0.5 4 0 4 0 4 0 4 0 4 0 4 0 4 0 4 0.5 4 0 4 0 4 0 4 0 4 0 4 0 4 0 4 0 4 0 4-1 4-2 4-3 4-4 4-5 4-5.5 4-5 4-3.5 4-1.5 4-1 4-0.5 4-0.5 4-0.5 4 0 4-0.5 4 0 4 0 4 0 4 0 4 0.5 4 0.5 4 1 4 1 4 1 4 1 4 0.5 4 1 4 0.5 4 0.5 4 0 4 0 4-1 4-1 4-1 4-1.5 4-1.5 4-2 4-1.5 4-2 4-2 4-2 4-1.5 4-1.5 4-1.5 4-1.5 4-1.5 4-1.5 4-1.5 4-2 4-2 4-2.5 4-3.5 4-4.5 4-4.5 4-5.5 4-6 4-5.5 4-6 4-5.5 4-5.5 4-5.5 4-6 4-6 4-5.5 4-5.5 4-5 4-4.5 4-3.5 4-3.5 4-2.5 4-1 4-0.5 4-0.5 4 0 4 0 4 0 4 0.5 4 2.5 4 3 4 3.5 4 3.5 4 3 4 1 4 0 4-1 4-2 4-2 4-2.5 4-2.5 4-2.5 4-3 4-2.5 4-3 4-2.5 4-2 4-0.5 4 0 4 0.5 4 0.5 4 1 4 0.5 4 1 4 1 4 1 4 1 4 1 4 1.5 4 1 4 1 4 1 4 0.5 4 1 4 1 4 0.5 4 1 4 1 4 0.5 4 1 4 0.5 4 1 4 1 4 1 4 1 4 1 4 1.5 4 1 4 1 4 0.5 4 0.5 4 0 4-1 4-2 4-3 4-2.5 4-3 4-3 4-3 4-3.5 4-3.5 4-3 4-2.5 4-1.5 4 0 4 0 4 0.5 4 1 4 1 4 1 4 1.5 4 2 4 2.5 4 2.5 4 2.5 4 3 4 2 4 2.5 4 2 4 2.5 4 2.5 4 2 4 1.5 4 1 4 1 4 0 4 0 4 0 4 0 4 0 4 0 4 0 4 0 4 0 4 0.5 4 0 4 0.5 4 0.5 4 1 4 0.5 4 1 4 1 4 1.5 4 1.5 4 1.5 4 1.5 4 1.5 4 1 4 1 4 1 4 0.5 4 0.5 4 1 4 0.5 4 0.5 4 1 4 0.5 4 1 4 1 4 1 4 1.5 4 1.5 4 1.5 4 3 4 5 4 6.5 4 8 4 8.5 4 8.5 4 9.5 4 10 4 11 4 11.5 4 12 4 12.5 4 12.5 4 13 4 13 4 13 4 13 4 12.5 4 12.5 4 12 1 3 0 19.5-1-3-4-12-4-12-4-12-4-12.5-4-13-4-13-4-13-4-13-4-13-4-12.5-4-12-4-12-4-11-4-10.5-4-9.5-4-9-4-8.5-4-7.5-4-5-4-3-4-1.5-4-1.5-4-1.5-4-1-4-1-4-1-4-0.5-4-1-4-0.5-4-0.5-4-1-4-0.5-4-0.5-4-1-4-1-4-1-4-1.5-4-1.5-4-1.5-4-1.5-4-1.5-4-1-4-1-4-0.5-4-1-4-0.5-4-0.5-4 0-4-0.5-4 0-4 0-4 0-4 0-4 0-4 0-4 0-4 0-4 0-4-1-4-1-4-1.5-4-2-4-2.5-4-2.5-4-2-4-2.5-4-2-4-3-4-2.5-4-2.5-4-2.5-4-2-4-1.5-4-1-4-1-4-1-4-0.5-4 0-4 0-4 1.5-4 2.5-4 3-4 3.5-4 3.5-4 3-4 3-4 3-4 2.5-4 3-4 2-4 1-4 0-4-0.5-4-0.5-4-1-4-1-4-1.5-4-1-4-1-4-1-4-1-4-1-4-0.5-4-1-4-0.5-4-1-4-1-4-0.5-4-1-4-1-4-0.5-4-1-4-1-4-1-4-1.5-4-1-4-1-4-1-4-1-4-1-4-0.5-4-1-4-0.5-4-0.5-4 0-4 0.5-4 2-4 2.5-4 3-4 2.5-4 3-4 2.5-4 2.5-4 2.5-4 2-4 2-4 1-4 0-4-1-4-3-4-3.5-4-3.5-4-3-4-2.5-4-0.5-4 0-4 0-4 0-4 0.5-4 0.5-4 1-4 2.5-4 3.5-4 3.5-4 4.5-4 5-4 5.5-4 5.5-4 6-4 6-4 5.5-4 5.5-4 5.5-4 6-4 5.5-4 6-4 5.5-4 4.5-4 4.5-4 3.5-4 2.5-4 2-4 2-4 1.5-4 1.5-4 1.5-4 1.5-4 1.5-4 1.5-4 1.5-4 2-4 2-4 2-4 1.5-4 2-4 1.5-4 1.5-4 1-4 1-4 1-4 0-4 0-4-0.5-4-0.5-4-1-4-0.5-4-1-4-1-4-1-4-1-4-0.5-4-0.5-4 0-4 0-4 0-4 0-4 0.5-4 0-4 0.5-4 0.5-4 0.5-4 1-4 1.5-4 3.5-4 5-4 5.5-4 5-4 4-4 3-4 2-4 1-4 0-4 0-4 0-4 0-4 0-4 0-4 0-4 0-4 0-4-0.5-4 0-4 0-4 0-4 0-4 0-4 0-4 0-4-0.5-4 0-4 0.5-4 1-4 2.5-4 4.5-4 5.5-4 6.5-4 7.5-4 9-4 12-4 13.5-4 13.5-4 13-4 13-4 13ZM497 972l4-13 4-11 4-8.5 4-7 4-7 4-6.5 4-6 4-4 4-3 4-1 4 0 4 0 4 0 4 0 4 0 4 0 4 0.5 4 0 4 0 4 0 4 0 4 0 4 0 4 0.5 4 0 4 0 4 0 4 0 4 0 4 0 4-1 4-2 4-3 4-4 4-5.5 4-5 4-5 4-3.5 4-2 4-0.5 4-1 4 0 4-0.5 4-0.5 4 0 4-0.5 4 0 4 0 4 0 4 0.5 4 1 4 0.5 4 1 4 1 4 1 4 1 4 1 4 0.5 4 0.5 4 0 4-0.5 4-0.5 4-1 4-1.5 4-1 4-2 4-1.5 4-2 4-2 4-1.5 4-2 4-1.5 4-1.5 4-1.5 4-1.5 4-1.5 4-1.5 4-2 4-1.5 4-2.5 4-2.5 4-3.5 4-4 4-5 4-5.5 4-5.5 4-6 4-5.5 4-5.5 4-5.5 4-5.5 4-6 4-6 4-5.5 4-5.5 4-5 4-4.5 4-4 4-3 4-2.5 4-1.5 4-0.5 4 0 4-0.5 4 0 4 0 4 1 4 2 4 3.5 4 3.5 4 3.5 4 2.5 4 1.5 4 0 4-1.5 4-1.5 4-2.5 4-2.5 4-2.5 4-2.5 4-2.5 4-3 4-3 4-2.5 4-1.5 4-1 4 0 4 0.5 4 1 4 0.5 4 1 4 1 4 1 4 0.5 4 1.5 4 1 4 1 4 1 4 1 4 1 4 1 4 1 4 0.5 4 1 4 1 4 0.5 4 1 4 0.5 4 1 4 1 4 1 4 1 4 1 4 1 4 1 4 1 4 1 4 1 4 0.5 4-0.5 4-1 4-2 4-2.5 4-3 4-3 4-2.5 4-3.5 4-3 4-3.5 4-3 4-2.5 4-1.5 4-0.5 4 0.5 4 0.5 4 1 4 0.5 4 1.5 4 1 4 2 4 2.5 4 2.5 4 3 4 2.5 4 2.5 4 2 4 2.5 4 2.5 4 2 4 2 4 2 4 1 4 0.5 4 0.5 4 0 4 0 4 0 4 0 4 0 4 0 4 0 4 0 4 0 4 0.5 4 0.5 4 0.5 4 0.5 4 1 4 0.5 4 1.5 4 1 4 1.5 4 2 4 1.5 4 1 4 1.5 4 1 4 0.5 4 1 4 0.5 4 0.5 4 1 4 0.5 4 0.5 4 1 4 1 4 1 4 1 4 1 4 1.5 4 2 4 3 4 5 4 6.5 4 8 4 8 4 9 4 9.5 4 10 4 11 4 11.5 4 12 4 12 4 13 4 13 4 13 4 13 4 12.5 0 20.5-4-12.5-4-12.5-4-13-4-13-4-13-4-13-4-12.5-4-12-4-12-4-11-4-10.5-4-9.5-4-9-4-9-4-7-4-5-4-3-4-2-4-1.5-4-1-4-1-4-1-4-1-4-1-4-0.5-4-0.5-4-1-4-0.5-4-0.5-4-1-4-0.5-4-1-4-1.5-4-1-4-1.5-4-2-4-1.5-4-1-4-1.5-4-0.5-4-1-4-0.5-4-0.5-4-0.5-4-0.5-4 0-4 0-4 0-4 0-4 0-4 0-4 0-4 0-4 0-4-0.5-4-0.5-4-1-4-2-4-2-4-2-4-2.5-4-2.5-4-2-4-2.5-4-2.5-4-3-4-2.5-4-2.5-4-2-4-1-4-1.5-4-0.5-4-1-4-0.5-4-0.5-4 0.5-4 1.5-4 2.5-4 3-4 3.5-4 3-4 3.5-4 2.5-4 3-4 3-4 2.5-4 2-4 1-4 0.5-4-0.5-4-1-4-1-4-1-4-1-4-1-4-1-4-1-4-1-4-1-4-1-4-0.5-4-1-4-0.5-4-1-4-1-4-0.5-4-1-4-1-4-1-4-1-4-1-4-1-4-1-4-1.5-4-0.5-4-1-4-1-4-1-4-0.5-4-1-4-0.5-4 0-4 1-4 1.5-4 2.5-4 3-4 3-4 2.5-4 2.5-4 2.5-4 2.5-4 2.5-4 1.5-4 1.5-4 0-4-1.5-4-2.5-4-3.5-4-3.5-4-3.5-4-2-4-1-4 0-4 0-4 0.5-4 0-4 0.5-4 1.5-4 2.5-4 3-4 4-4 4.5-4 5-4 5.5-4 5.5-4 6-4 6-4 5.5-4 5.5-4 5.5-4 5.5-4 6-4 5.5-4 5.5-4 5-4 4-4 3.5-4 2.5-4 2.5-4 1.5-4 2-4 1.5-4 1.5-4 1.5-4 1.5-4 1.5-4 1.5-4 2-4 1.5-4 2-4 2-4 1.5-4 2-4 1-4 1.5-4 1-4 0.5-4 0.5-4 0-4-0.5-4-0.5-4-1-4-1-4-1-4-1-4-1-4-0.5-4-1-4-0.5-4 0-4 0-4 0-4 0.5-4 0-4 0.5-4 0.5-4 0-4 1-4 0.5-4 2-4 3.5-4 5-4 5-4 5.5-4 4-4 3-4 2-4 1-4 0-4 0-4 0-4 0-4 0-4 0-4-0.5-4 0-4 0-4 0-4 0-4 0-4 0-4-0.5-4 0-4 0-4 0-4 0-4 0-4 0-4 1-4 3-4 4-4 6-4 6.5-4 7-4 9.5-4 11.5-4 14-4 13.5ZM510 976.5l4-7 4-7 4-6.5 4-5.5 4-3.5 4-2.5 4-0.5 4 0 4 0 4 0 4 0 4 0 4 0 4 0 4 0 4 0 4 0.5 4 0 4 0 4 0 4 0 4 0 4 0 4 0 4 0.5 4 0 4-0.5 4-1 4-2.5 4-3 4-4.5 4-5.5 4-5 4-5 4-3 4-1.5 4-0.5 4-0.5 4-0.5 4-0.5 4 0 4-0.5 4 0 4 0 4 0 4 0 4 0.5 4 1 4 0.5 4 1 4 1 4 1 4 1 4 1 4 0.5 4 0 4 0 4 0 4-1 4-1 4-1.5 4-1.5 4-1.5 4-2 4-1.5 4-2 4-2 4-1.5 4-2 4-1.5 4-1.5 4-1 4-1.5 4-1.5 4-2 4-2 4-2 4-3 4-3.5 4-4.5 4-5 4-5.5 4-5.5 4-6 4-5.5 4-5.5 4-5.5 4-6 4-5.5 4-6 4-6 4-5 4-5 4-4 4-4 4-3 4-2.5 4-1 4 0 4-0.5 4 0 4 0 4 0 4 1 4 2.5 4 3.5 4 3.5 4 3.5 4 2.5 4 1 4-0.5 4-1.5 4-2 4-2.5 4-2 4-2.5 4-2.5 4-3 4-3 4-2.5 4-2.5 4-1.5 4-0.5 4 0 4 0.5 4 1 4 0.5 4 1 4 1 4 1 4 1 4 1 4 1 4 1 4 1.5 4 1 4 0.5 4 1 4 1 4 0.5 4 1 4 1 4 0.5 4 1 4 0.5 4 1 4 1 4 1 4 1 4 1 4 1 4 1 4 1.5 4 0.5 4 1 4 0 4 0 4-1.5 4-2 4-3 4-3 4-3 4-2.5 4-3.5 4-3 4-3.5 4-3 4-2 4-1.5 4 0 4 0.5 4 0.5 4 1 4 1 4 1 4 1.5 4 2 4 2.5 4 2.5 4 3 4 2.5 4 2.5 4 2 4 2.5 4 2 4 2.5 4 2 4 1.5 4 1 4 0.5 4 0.5 4 0 4 0 4 0 4 0 4 0 4 0 4 0 4 0 4 0 4 0.5 4 0.5 4 0.5 4 0.5 4 1 4 1 4 1 4 1.5 4 1.5 4 1.5 4 1.5 4 1.5 4 1 4 1 4 0.5 4 1 4 0.5 4 0.5 4 0.5 4 1 4 0.5 4 1 4 1 4 1 4 1 4 1.5 4 1.5 4 2 4 3 4 5.5 4 7 4 8 4 8.5 4 9 4 9.5 4 10.5 4 11 4 11.5 4 12 4 12.5 4 13 3 9.5 0 21-3-9.5-4-13-4-13-4-12.5-4-12.5-4-12-4-11-4-10.5-4-10-4-9-4-9-4-8-4-5.5-4-3-4-2-4-1.5-4-1.5-4-1-4-1-4-1-4-1-4-0.5-4-1-4-0.5-4-0.5-4-0.5-4-1-4-0.5-4-1-4-1-4-1.5-4-1.5-4-1.5-4-1.5-4-1.5-4-1-4-1-4-1-4-0.5-4-0.5-4-0.5-4-0.5-4 0-4 0-4 0-4 0-4 0-4 0-4 0-4 0-4 0-4-0.5-4-0.5-4-1-4-1.5-4-2-4-2.5-4-2-4-2.5-4-2-4-2.5-4-2.5-4-3-4-2.5-4-2.5-4-2-4-1.5-4-1-4-1-4-1-4-0.5-4-0.5-4 0-4 1.5-4 2-4 3-4 3.5-4 3-4 3.5-4 2.5-4 3-4 3-4 3-4 2-4 1.5-4 0-4 0-4-1-4-0.5-4-1.5-4-1-4-1-4-1-4-1-4-1-4-1-4-1-4-0.5-4-1-4-0.5-4-1-4-1-4-0.5-4-1-4-1-4-0.5-4-1-4-1.5-4-1-4-1-4-1-4-1-4-1-4-1-4-1-4-0.5-4-1-4-0.5-4 0-4 0.5-4 1.5-4 2.5-4 2.5-4 3-4 3-4 2.5-4 2.5-4 2-4 2.5-4 2-4 1.5-4 0.5-4-1-4-2.5-4-3.5-4-3.5-4-3.5-4-2.5-4-1-4 0-4 0-4 0-4 0.5-4 0-4 1-4 2.5-4 3-4 4-4 4-4 5-4 5-4 6-4 6-4 5.5-4 6-4 5.5-4 5.5-4 5.5-4 6-4 5.5-4 5.5-4 5-4 4.5-4 3.5-4 3-4 2-4 2-4 2-4 1.5-4 1.5-4 1-4 1.5-4 1.5-4 2-4 1.5-4 2-4 2-4 1.5-4 2-4 1.5-4 1.5-4 1.5-4 1-4 1-4 0-4 0-4 0-4-0.5-4-1-4-1-4-1-4-1-4-1-4-0.5-4-1-4-0.5-4 0-4 0-4 0-4 0-4 0.5-4 0-4 0.5-4 0.5-4 0.5-4 0.5-4 1.5-4 3-4 5-4 5-4 5.5-4 4.5-4 3-4 2.5-4 1-4 0.5-4 0-4-0.5-4 0-4 0-4 0-4 0-4 0-4 0-4 0-4-0.5-4 0-4 0-4 0-4 0-4 0-4 0-4 0-4 0-4 0-4 0.5-4 2.5-4 3.5-4 5.5-4 6.5-4 7-4 8.5ZM628 978.5l4-4 4-5 4-5.5 4-5 4-4 4-2 4-1 4-0.5 4-0.5 4-0.5 4 0 4-0.5 4 0 4-0.5 4 0 4 0.5 4 0 4 1 4 0.5 4 1 4 1 4 1 4 1 4 1 4 0.5 4 0.5 4 0 4 0 4-1 4-0.5 4-1.5 4-1 4-2 4-1.5 4-2 4-1.5 4-2 4-2 4-1.5 4-2 4-1 4-1.5 4-1.5 4-1.5 4-1.5 4-2 4-2 4-2.5 4-3 4-4 4-5 4-5.5 4-5.5 4-6 4-5.5 4-5.5 4-5.5 4-5.5 4-6 4-6 4-5.5 4-5.5 4-5.5 4-4.5 4-4 4-3 4-3 4-1.5 4-0.5 4-0.5 4 0 4-0.5 4 0 4 1 4 1.5 4 3 4 3.5 4 3.5 4 3 4 2 4 0 4-1 4-1.5 4-2 4-2.5 4-2.5 4-2.5 4-2.5 4-3 4-3 4-2.5 4-2 4-1 4 0 4 0 4 0.5 4 1 4 1 4 0.5 4 1 4 1 4 1 4 1 4 1.5 4 1 4 1 4 1 4 1 4 1 4 0.5 4 1 4 0.5 4 1 4 1 4 0.5 4 1 4 1 4 0.5 4 1 4 1 4 1.5 4 1 4 1 4 1 4 1 4 0.5 4 0 4-1 4-1.5 4-2.5 4-3 4-3 4-3 4-3 4-3 4-3.5 4-3.5 4-2.5 4-1.5 4-0.5 4 0 4 0.5 4 0.5 4 1 4 1 4 1.5 4 1.5 4 2.5 4 2.5 4 3 4 2.5 4 2.5 4 2 4 2.5 4 2.5 4 2 4 2 4 2 4 1.5 4 0.5 4 0.5 4 0 4 0 4 0 4 0 4 0 4 0 4 0 4 0 4 0 4 0.5 4 0.5 4 0.5 4 0.5 4 1 4 0.5 4 1 4 1.5 4 1.5 4 1.5 4 1.5 4 1.5 4 1 4 1.5 4 0.5 4 1 4 0.5 4 0.5 4 0.5 4 1 4 0.5 4 1 4 1 4 0.5 4 1 4 1.5 4 1.5 4 1.5 4 2.5 4 4.5 4 6.5 4 7.5 4 8 4 9 4 9 4 10 4 10.5 4 11.5 4 12 1 3 0 20-1-3-4-12.5-4-12-4-11.5-4-11-4-10.5-4-9.5-4-8.5-4-9-4-6.5-4-4.5-4-2.5-4-1.5-4-1.5-4-1.5-4-1-4-0.5-4-1-4-1-4-0.5-4-1-4-0.5-4-0.5-4-0.5-4-1-4-0.5-4-1.5-4-1-4-1.5-4-1.5-4-1.5-4-1.5-4-1.5-4-1-4-0.5-4-1-4-0.5-4-0.5-4-0.5-4-0.5-4 0-4 0-4 0-4 0-4 0-4 0-4 0-4 0-4 0-4-0.5-4-0.5-4-1.5-4-2-4-2-4-2-4-2.5-4-2.5-4-2-4-2.5-4-2.5-4-3-4-2.5-4-2.5-4-1.5-4-1.5-4-1-4-1-4-0.5-4-0.5-4 0-4 0.5-4 1.5-4 2.5-4 3.5-4 3.5-4 3-4 3-4 3-4 3-4 3-4 2.5-4 1.5-4 1-4 0-4-0.5-4-1-4-1-4-1-4-1-4-1.5-4-1-4-1-4-0.5-4-1-4-1-4-0.5-4-1-4-1-4-0.5-4-1-4-0.5-4-1-4-1-4-1-4-1-4-1-4-1.5-4-1-4-1-4-1-4-1-4-0.5-4-1-4-1-4-0.5-4 0-4 0-4 1-4 2-4 2.5-4 3-4 3-4 2.5-4 2.5-4 2.5-4 2.5-4 2-4 1.5-4 1-4 0-4-2-4-3-4-3.5-4-3.5-4-3-4-1.5-4-1-4 0-4 0.5-4 0-4 0.5-4 0.5-4 1.5-4 3-4 3-4 4-4 4.5-4 5.5-4 5.5-4 5.5-4 6-4 6-4 5.5-4 5.5-4 5.5-4 5.5-4 6-4 5.5-4 5.5-4 5-4 4-4 3-4 2.5-4 2-4 2-4 1.5-4 1.5-4 1.5-4 1.5-4 1-4 2-4 1.5-4 2-4 2-4 1.5-4 2-4 1.5-4 2-4 1-4 1.5-4 0.5-4 1-4 0-4 0-4-0.5-4-0.5-4-1-4-1-4-1-4-1-4-1-4-0.5-4-1-4 0-4-0.5-4 0-4 0.5-4 0-4 0.5-4 0-4 0.5-4 0.5-4 0.5-4 1-4 2-4 4-4 5-4 5.5-4 5-4 4ZM787 978.5l4-1.5 4-1.5 4-1.5 4-1.5 4-1.5 4-2 4-2 4-2 4-3 4-4 4-4.5 4-5 4-5.5 4-6 4-6 4-5.5 4-5.5 4-5.5 4-5.5 4-6 4-6 4-5.5 4-5.5 4-4.5 4-4 4-3.5 4-3 4-2 4-1 4 0 4-0.5 4 0 4 0 4 0.5 4 1.5 4 2.5 4 3.5 4 3.5 4 3.5 4 2 4 0.5 4-0.5 4-1.5 4-2.5 4-2.5 4-2 4-2.5 4-2.5 4-3 4-3 4-2.5 4-2.5 4-1 4-0.5 4 0.5 4 0.5 4 0.5 4 1 4 1 4 0.5 4 1 4 1 4 1.5 4 1 4 1 4 1 4 1 4 1 4 1 4 0.5 4 1 4 1 4 0.5 4 1 4 0.5 4 1 4 1 4 0.5 4 1 4 1 4 1.5 4 1 4 1 4 1 4 1 4 0.5 4 0 4-0.5 4-1.5 4-2 4-3 4-3 4-3 4-3 4-3 4-3.5 4-3.5 4-2.5 4-2 4-1 4 0 4 0.5 4 1 4 0.5 4 1 4 1.5 4 1.5 4 2 4 3 4 2.5 4 2.5 4 2.5 4 2.5 4 2 4 2.5 4 2.5 4 2 4 2 4 1.5 4 1 4 0.5 4 0 4 0 4 0 4 0 4 0 4 0 4 0 4 0 4 0 4 0 4 0.5 4 0.5 4 0.5 4 1 4 0.5 4 1 4 1.5 4 1.5 4 1.5 4 1.5 4 1.5 4 1 4 1.5 4 0.5 4 1 4 0.5 4 0.5 4 1 4 0.5 4 0.5 4 1 4 1 4 1 4 1 4 1 4 1 4 2 4 2 4 4 4 6 4 7 4 8.5 4 8.5 4 9 4 9.5 1 2.5 0 18-1-2.5-4-11-4-10-4-9.5-4-8.5-4-8.5-4-6-4-4-4-2-4-2-4-1-4-1-4-1-4-1-4-1-4-1-4-0.5-4-0.5-4-1-4-0.5-4-0.5-4-1-4-0.5-4-1.5-4-1-4-1.5-4-1.5-4-1.5-4-1.5-4-1.5-4-1-4-0.5-4-1-4-0.5-4-0.5-4-0.5-4 0-4 0-4 0-4 0-4 0-4 0-4 0-4 0-4 0-4 0-4-0.5-4-1-4-1.5-4-2-4-2-4-2.5-4-2.5-4-2-4-2.5-4-2.5-4-2.5-4-2.5-4-3-4-2-4-1.5-4-1.5-4-1-4-0.5-4-1-4-0.5-4 0-4 1-4 2-4 2.5-4 3.5-4 3.5-4 3-4 3-4 3-4 3-4 3-4 2-4 1.5-4 0.5-4 0-4-0.5-4-1-4-1-4-1-4-1-4-1.5-4-1-4-1-4-0.5-4-1-4-1-4-0.5-4-1-4-0.5-4-1-4-1-4-0.5-4-1-4-1-4-1-4-1-4-1-4-1-4-1.5-4-1-4-1-4-0.5-4-1-4-1-4-0.5-4-0.5-4-0.5-4 0.5-4 1-4 2.5-4 2.5-4 3-4 3-4 2.5-4 2.5-4 2-4 2.5-4 2.5-4 1.5-4 0.5-4-0.5-4-2-4-3.5-4-3.5-4-3.5-4-2.5-4-1.5-4-0.5-4 0-4 0-4 0.5-4 0-4 1-4 2-4 3-4 3.5-4 4-4 4.5-4 5.5-4 5.5-4 6-4 6-4 5.5-4 5.5-4 5.5-4 5.5-4 6-4 6-4 5.5-4 5-4 4.5-4 4-4 3-4 2-4 2-4 2-4 1.5-4 1.5-4 1.5-4 1.5-4 1.5ZM842 977l4-5.5 4-6 4-5.5 4-5.5 4-5.5 4-6 4-5.5 4-6 4-5.5 4-4.5 4-4.5 4-3.5 4-3 4-2.5 4-1 4-0.5 4 0 4 0 4 0 4 0 4 1 4 2.5 4 3.5 4 3.5 4 3.5 4 2.5 4 1 4-0.5 4-1.5 4-2 4-2.5 4-2.5 4-2 4-2.5 4-3 4-3 4-3 4-2 4-1.5 4-0.5 4 0 4 0.5 4 0.5 4 1 4 1 4 1 4 0.5 4 1 4 1.5 4 1 4 1 4 1 4 1 4 1 4 1 4 1 4 0.5 4 1 4 0.5 4 1 4 1 4 0.5 4 1 4 1 4 0.5 4 1 4 1.5 4 1 4 1 4 1 4 1 4 0.5 4 0.5 4-0.5 4-1 4-2 4-3 4-3 4-3 4-3 4-3 4-3.5 4-3 4-3 4-2.5 4-1 4 0 4 0.5 4 0.5 4 0.5 4 1 4 1.5 4 1.5 4 2 4 2.5 4 2.5 4 3 4 2.5 4 2 4 2.5 4 2.5 4 2 4 2.5 4 2 4 1.5 4 1 4 0.5 4 0 4 0 4 0 4 0 4 0 4 0 4 0 4 0 4 0.5 4 0 4 0.5 4 0.5 4 0.5 4 0.5 4 1 4 0.5 4 1.5 4 1 4 2 4 1.5 4 1.5 4 1 4 1.5 4 1 4 0.5 4 1 4 0.5 4 0.5 4 0.5 4 1 4 0.5 4 1 4 1 4 1 4 1 4 1 4 2 4 2 4 3 4 5.5 4 7 2 4 0 14.5-2-4.5-4-8-4-5.5-4-3-4-2-4-2-4-1-4-1-4-1-4-1-4-1-4-0.5-4-1-4-0.5-4-0.5-4-0.5-4-1-4-0.5-4-1-4-1.5-4-1-4-1.5-4-1.5-4-2-4-1-4-1.5-4-0.5-4-1-4-0.5-4-0.5-4-0.5-4-0.5-4 0-4-0.5-4 0-4 0-4 0-4 0-4 0-4 0-4 0-4 0-4-0.5-4-1-4-1.5-4-2-4-2.5-4-2-4-2.5-4-2.5-4-2-4-2.5-4-3-4-2.5-4-2.5-4-2-4-1.5-4-1.5-4-1-4-0.5-4-0.5-4-0.5-4 0-4 1-4 2.5-4 3-4 3-4 3.5-4 3-4 3-4 3-4 3-4 3-4 2-4 1-4 0.5-4-0.5-4-0.5-4-1-4-1-4-1-4-1-4-1.5-4-1-4-0.5-4-1-4-1-4-0.5-4-1-4-1-4-0.5-4-1-4-0.5-4-1-4-1-4-1-4-1-4-1-4-1-4-1-4-1.5-4-1-4-0.5-4-1-4-1-4-1-4-0.5-4-0.5-4 0-4 0.5-4 1.5-4 2-4 3-4 3-4 3-4 2.5-4 2-4 2.5-4 2.5-4 2-4 1.5-4 0.5-4-1-4-2.5-4-3.5-4-3.5-4-3.5-4-2.5-4-1-4 0-4 0-4 0-4 0-4 0.5-4 1-4 2.5-4 3-4 3.5-4 4.5-4 4.5-4 5.5-4 6-4 5.5-4 6-4 5.5-4 5.5-4 5.5-4 6-4 5.5ZM869 977.5l4-5.5 4-5.5 4-5 4-4.5 4-4 4-3 4-2.5 4-1.5 4-0.5 4 0 4-0.5 4 0 4 0 4 1 4 2 4 3.5 4 3.5 4 3.5 4 2.5 4 1.5 4 0 4-1.5 4-1.5 4-2.5 4-2.5 4-2.5 4-2.5 4-2.5 4-3 4-3 4-2.5 4-1.5 4-1 4 0 4 0.5 4 1 4 0.5 4 1 4 1 4 1 4 0.5 4 1.5 4 1 4 1 4 1 4 1 4 1 4 1 4 1 4 0.5 4 1 4 1 4 0.5 4 1 4 0.5 4 1 4 1 4 1 4 1 4 1 4 1 4 1 4 1 4 1 4 1 4 0.5 4-0.5 4-1 4-2 4-2.5 4-3 4-3 4-2.5 4-3.5 4-3 4-3.5 4-3 4-2.5 4-1.5 4-0.5 4 0.5 4 0.5 4 1 4 0.5 4 1.5 4 1 4 2 4 2.5 4 2.5 4 3 4 2.5 4 2.5 4 2 4 2.5 4 2.5 4 2 4 2 4 2 4 1 4 0.5 4 0.5 4 0 4 0 4 0 4 0 4 0 4 0 4 0 4 0 4 0 4 0.5 4 0.5 4 0.5 4 0.5 4 1 4 0.5 4 1.5 4 1 4 1.5 4 2 3 1 0 13-3-1-4-2-4-1.5-4-1-4-1.5-4-0.5-4-1-4-0.5-4-0.5-4-0.5-4-0.5-4 0-4 0-4 0-4 0-4 0-4 0-4 0-4 0-4 0-4-0.5-4-0.5-4-1-4-2-4-2-4-2-4-2.5-4-2.5-4-2-4-2.5-4-2.5-4-3-4-2.5-4-2.5-4-2-4-1-4-1.5-4-0.5-4-1-4-0.5-4-0.5-4 0.5-4 1.5-4 2.5-4 3-4 3.5-4 3-4 3.5-4 2.5-4 3-4 3-4 2.5-4 2-4 1-4 0.5-4-0.5-4-1-4-1-4-1-4-1-4-1-4-1-4-1-4-1-4-1-4-1-4-0.5-4-1-4-0.5-4-1-4-1-4-0.5-4-1-4-1-4-1-4-1-4-1-4-1-4-1-4-1.5-4-0.5-4-1-4-1-4-1-4-0.5-4-1-4-0.5-4 0-4 1-4 1.5-4 2.5-4 3-4 3-4 2.5-4 2.5-4 2.5-4 2.5-4 2.5-4 1.5-4 1.5-4 0-4-1.5-4-2.5-4-3.5-4-3.5-4-3.5-4-2-4-1-4 0-4 0-4 0.5-4 0-4 0.5-4 1.5-4 2.5-4 3-4 4-4 4.5-4 5-4 5.5-4 5.5ZM992 978l4-2 4-1 4 0 4 0.5 4 0.5 4 0.5 4 1 4 1 0 13-4-1-4-1-4-0.5-4-0.5-4-0.5-4 0-4 1-4 2ZM1174 978.5l4-3 4-2 4-1.5 4 0 4 0.5 4 0.5 4 1 4 1 4 1 4 1.5 2 1 0 13-2-1-4-1.5-4-1-4-1-4-1-4-0.5-4-0.5-4 0-4 1.5-4 2-4 3Z" fill="#2020ff" fill-opacity="0.26" filter="url(#bl3)"/><path d="M1580 497l4 2 4 1.5 4 1.5 4 1 4 1.5 4 1 4 0.5 4 1 4 1 4 0.5 4 1 4 1 4 0.5 4 1 4 1 4 1 4 1 4 1 4 0.5 4 1 4 0.5 4 0.5 4 0.5 4 0 4 0.5 4 0.5 4 0 4 0.5 4 0 4 0.5 4 0 4 0 4 0 4 0 4-0.5 4-1.5 4-2.5 4-3 4-3.5 4-3.5 4-2.5 4-2 4-0.5 4 0 4 0.5 4 0.5 4 0.5 4 1 4 1.5 4 1.5 4 2.5 4 2.5 4 3 4 2.5 0 6.5-4-2.5-4-3-4-2.5-4-2-4-1.5-4-1.5-4-1-4-1-4-0.5-4 0-4 0-4 0.5-4 1.5-4 3-4 3.5-4 3.5-4 3-4 2.5-4 1.5-4 0.5-4 0-4 0-4 0-4-0.5-4 0-4-0.5-4 0-4-0.5-4 0-4-0.5-4-0.5-4-0.5-4-0.5-4-0.5-4-0.5-4-1-4-1-4-1-4-1-4-0.5-4-1-4-1-4-0.5-4-1-4-1-4-0.5-4-1-4-1-4-1-4-1-4-1.5-4-1-4-2-4-2ZM1552 497.5l4 9.5 4 8.5 4 6.5 4 5 4 3.5 4 3 4 2 4 2 4 2 4 1 4 1.5 4 1 4 1 4 1 4 1 4 0.5 4 1 4 1 4 0.5 4 1 4 1 4 0.5 4 1 4 1 4 1 4 1 4 0.5 4 0.5 4 0.5 4 0.5 4 0.5 4 0.5 4 0 4 0.5 4 0 4 0.5 4 0 4 0.5 4 0 4 0 4 0 4-0.5 4-1.5 4-2.5 4-3 4-3.5 4-3.5 4-3 4-1.5 4-0.5 4 0 4 0 4 0.5 4 1 4 1 4 1.5 4 1.5 4 2 4 2.5 4 3 4 2.5 0 7-4-2.5-4-3-4-2.5-4-2-4-2-4-1.5-4-1-4-0.5-4-0.5-4-0.5-4 0-4 0.5-4 2-4 3-4 3-4 3.5-4 3.5-4 2.5-4 1.5-4 0.5-4 0-4-0.5-4 0-4 0-4-0.5-4 0-4-0.5-4 0-4-0.5-4-0.5-4 0-4-0.5-4-0.5-4-0.5-4-1-4-0.5-4-1-4-1-4-1-4-1-4-1-4-0.5-4-1-4-0.5-4-1-4-1-4-0.5-4-1-4-1-4-1-4-1.5-4-1.5-4-1.5-4-2-4-2.5-4-2.5-4-4-4-5-4-6.5-4-7.5-4-8.5ZM121 506l4 0.5 4 1 4 0.5 4 0.5 4 0 4 0.5 4 0 4 0 4 0 4-0.5 4-0.5 4-1 4-0.5 4-1 4-1.5 4-1.5 4-2 4-2.5 2-1 0 7-2 1-4 2.5-4 2-4 1.5-4 1-4 1-4 1-4 1-4 0.5-4 0-4 0-4 0-4 0-4 0-4-0.5-4-0.5-4-0.5-4-0.5-4-0.5ZM1538 495.5l4 12.5 4 12 4 11 4 10 4 9 4 7.5 4 6 4 4 4 3.5 4 2.5 4 2 4 2 4 1.5 4 1 4 1.5 4 1 4 1 4 0.5 4 1 4 1 4 0.5 4 1 4 1 4 0.5 4 1 4 1 4 1 4 1 4 1 4 0.5 4 0.5 4 1 4 0 4 0.5 4 0.5 4 0 4 0.5 4 0.5 4 0 4 0.5 4 0 4 0 4 0.5 4 0 4-0.5 4-1 4-2 4-2.5 4-3.5 4-3.5 4-3 4-2.5 4-1 4-0.5 4 0 4 0.5 4 0.5 4 1 4 1.5 4 1.5 4 2 4 2 4 3 4 3 2 1 0 6.5-2-1-4-3-4-2.5-4-2.5-4-2-4-1.5-4-1-4-1-4-0.5-4-0.5-4 0-4 0-4 1.5-4 2-4 3-4 3.5-4 3.5-4 3-4 2-4 1-4 0-4 0-4 0-4 0-4-0.5-4 0-4-0.5-4 0-4-0.5-4-0.5-4 0-4-0.5-4-0.5-4-0.5-4-0.5-4-1-4-1-4-0.5-4-1-4-1-4-1-4-1-4-0.5-4-1-4-1-4-0.5-4-1-4-1-4-1-4-1-4-1-4-1.5-4-1.5-4-1.5-4-2.5-4-2.5-4-3-4-4.5-4-5.5-4-7-4-8-4-9.5-4-10.5-4-11-4-12ZM121 545l4 0.5 4 0.5 4 0.5 4 0.5 4 0.5 4 0 4 0 4 0 4 0 4 0 4-0.5 4-1 4-1 4-1 4-1 4-1.5 4-2 4-2.5 4-2.5 4-2.5 4-2 4-2 4-2 4-2 4-1.5 4-1.5 4-1 4-1 4-1 4-0.5 4-0.5 4-1 4-0.5 4 0 4-0.5 4-0.5 4 0 4-0.5 4 0 4 0 4-0.5 4 0 4 0 4-0.5 4-1 4-1.5 4-3.5 4-3.5 4-4 3-2.5 0 7-3 2.5-4 4-4 3.5-4 3-4 2-4 0.5-4 0.5-4 0.5-4 0-4 0-4 0.5-4 0-4 0-4 0.5-4 0-4 0.5-4 0.5-4 0.5-4 0.5-4 0.5-4 1-4 0.5-4 1-4 1-4 1.5-4 2-4 1.5-4 2-4 2-4 2.5-4 2.5-4 2.5-4 2.5-4 1.5-4 1.5-4 1.5-4 1-4 1-4 0.5-4 0.5-4 0.5-4 0-4 0-4 0-4-0.5-4 0-4-0.5-4-0.5-4-0.5-4-0.5ZM1527 497.5l4 13.5 4 13.5 4 13 4 12.5 4 11.5 4 11 4 10 4 8.5 4 7 4 5.5 4 4 4 3 4 2 4 2.5 4 1.5 4 1.5 4 1.5 4 1 4 1 4 1 4 1 4 0.5 4 1 4 0.5 4 1 4 1 4 0.5 4 1 4 1 4 1 4 1 4 1 4 0.5 4 0.5 4 0.5 4 0.5 4 0.5 4 0.5 4 0 4 0.5 4 0 4 0.5 4 0 4 0.5 4 0 4 0 4 0 4 0 4-1.5 4-2 4-3.5 4-3 4-3.5 4-3 4-2 4-1 4 0 4 0 4 0.5 4 0.5 4 1 4 1.5 4 1.5 4 2 4 2.5 4 3 4 2.5 1 0.5 0 7-1-0.5-4-2.5-4-3-4-2.5-4-2-4-1.5-4-1.5-4-1-4-0.5-4-0.5-4-0.5-4 0-4 1-4 2-4 3-4 3.5-4 3.5-4 3-4 2.5-4 1-4 0.5-4 0-4 0-4-0.5-4 0-4 0-4-0.5-4-0.5-4 0-4-0.5-4-0.5-4 0-4-0.5-4-0.5-4-0.5-4-1-4-1-4-0.5-4-1-4-1-4-1-4-1-4-0.5-4-1-4-1-4-0.5-4-1-4-1-4-1-4-1-4-1-4-1-4-1.5-4-2-4-2-4-2.5-4-3-4-4-4-5-4-7-4-8-4-8.5-4-10.5-4-11-4-12-4-12.5-4-13-4-13.5ZM121 584l4 0.5 4 0.5 4 0.5 4 0.5 4 0 4 0.5 4 0 4 0 4 0 4-0.5 4-0.5 4-0.5 4-1 4-1 4-1.5 4-1.5 4-1.5 4-2.5 4-2.5 4-2.5 4-2.5 4-2 4-2 4-1.5 4-2 4-1.5 4-1 4-1 4-0.5 4-1 4-0.5 4-0.5 4-0.5 4-0.5 4-0.5 4 0 4-0.5 4 0 4 0 4-0.5 4 0 4 0 4-0.5 4-0.5 4-0.5 4-2 4-3 4-3.5 4-4 4-3.5 4-2.5 4-2.5 4-2 4-2 4-1.5 4-1.5 4-1 4-1 4-1 4-0.5 4-0.5 4-0.5 4-0.5 4-0.5 4 0 4-0.5 4-0.5 4 0 4-0.5 4 0 4-0.5 4 0 4 0 4 0 4-0.5 4 0 4 0 4-0.5 4 0 4-0.5 4 0 4-1 4-1.5 4-3 4-4.5 4-5 1-1.5 0 7-1 1.5-4 5-4 4-4 3-4 2-4 0.5-4 0.5-4 0.5-4 0-4 0-4 0.5-4 0-4 0-4 0.5-4 0-4 0-4 0-4 0.5-4 0-4 0.5-4 0.5-4 0-4 0.5-4 0.5-4 0.5-4 0.5-4 0.5-4 0.5-4 1-4 0.5-4 1-4 1.5-4 2-4 2-4 2-4 2-4 3-4 3-4 4-4 4-4 3-4 1.5-4 1-4 0.5-4 0-4 0.5-4 0-4 0-4 0-4 0.5-4 0-4 0.5-4 0.5-4 0.5-4 0.5-4 0.5-4 0.5-4 0.5-4 1-4 1-4 1-4 1.5-4 1.5-4 2-4 2-4 2-4 2-4 2.5-4 2.5-4 2.5-4 2-4 1.5-4 1-4 1-4 1-4 1-4 0.5-4 0-4 0.5-4-0.5-4 0-4 0-4-0.5-4 0-4-0.5-4-1-4-0.5ZM1515 495l4 13.5 4 14 4 13.5 4 14 4 13.5 4 13 4 12.5 4 11.5 4 11 4 9.5 4 9 4 7 4 5 4 4 4 3 4 2.5 4 2 4 2 4 1.5 4 1 4 1 4 1 4 1 4 1 4 1 4 0.5 4 1 4 1 4 0.5 4 1 4 1 4 1 4 1 4 0.5 4 1 4 1 4 0.5 4 0.5 4 0.5 4 0 4 0.5 4 0.5 4 0 4 0.5 4 0.5 4 0 4 0 4 0.5 4 0 4 0 4-0.5 4-1 4-2.5 4-3 4-3.5 4-3.5 4-3 4-2 4-1 4 0 4 0.5 4 0.5 4 0.5 4 1 4 1.5 4 1.5 4 2 4 2.5 4 3 4 2.5 1 0.5 0 7-1-0.5-4-3-4-3-4-2-4-2.5-4-1.5-4-1-4-1-4-1-4-0.5-4 0-4 0-4 1-4 2-4 3-4 3.5-4 3.5-4 3-4 2-4 1.5-4 0-4 0-4 0-4 0-4 0-4-0.5-4 0-4-0.5-4-0.5-4 0-4-0.5-4-0.5-4 0-4-0.5-4-1-4-0.5-4-1-4-1-4-1-4-1-4-0.5-4-1-4-1-4-0.5-4-1-4-1-4-0.5-4-1-4-1-4-1-4-1-4-1.5-4-1.5-4-1.5-4-2-4-2.5-4-3-4-4-4-5.5-4-6.5-4-8-4-9-4-10-4-11-4-12-4-12.5-4-13-4-13.5-4-14-4-14-4-13.5ZM121 622.5l4 0.5 4 1 4 0.5 4 0 4 0.5 4 0 4 0 4 0.5 4-0.5 4 0 4-0.5 4-1 4-1 4-1 4-1 4-1.5 4-2 4-2.5 4-2.5 4-2.5 4-2 4-2 4-2 4-2 4-1.5 4-1.5 4-1 4-1 4-1 4-0.5 4-0.5 4-0.5 4-0.5 4-0.5 4-0.5 4-0.5 4 0 4-0.5 4 0 4 0 4 0 4-0.5 4 0 4-0.5 4-1 4-1.5 4-3 4-4 4-4 4-3 4-3 4-2 4-2 4-2 4-2 4-1.5 4-1 4-0.5 4-1 4-0.5 4-0.5 4-0.5 4-0.5 4-0.5 4-0.5 4 0 4-0.5 4-0.5 4 0 4-0.5 4 0 4 0 4 0 4-0.5 4 0 4 0 4-0.5 4 0 4 0 4-0.5 4-0.5 4-0.5 4-2 4-3 4-4 4-5 4-6 4-6.5 4-8.5 4-11 3-10 0 11-3 8.5-4 9.5-4 7-4 6.5-4 6-4 5-4 4.5-4 3-4 1.5-4 1-4 0.5-4 0-4 0.5-4 0-4 0-4 0.5-4 0-4 0-4 0-4 0.5-4 0-4 0-4 0.5-4 0.5-4 0-4 0.5-4 0.5-4 0-4 0.5-4 0.5-4 0.5-4 1-4 0.5-4 1-4 1-4 1.5-4 1.5-4 2-4 2.5-4 2-4 2.5-4 3.5-4 4-4 3.5-4 3-4 2-4 1-4 0-4 0.5-4 0-4 0-4 0.5-4 0-4 0-4 0.5-4 0.5-4 0-4 0.5-4 0.5-4 0.5-4 1-4 0.5-4 1-4 0.5-4 1.5-4 1-4 2-4 1.5-4 2-4 2-4 2.5-4 2.5-4 2.5-4 2.5-4 2-4 1.5-4 1-4 1-4 1-4 0.5-4 0.5-4 0.5-4 0-4 0-4 0-4 0-4-0.5-4-0.5-4-0.5-4-0.5-4-0.5ZM1503 495.5l4 12.5 4 12.5 4 13.5 4 13.5 4 13.5 4 14 4 13.5 4 13.5 4 13 4 12.5 4 12 4 10.5 4 10 4 8.5 4 7 4 5.5 4 4 4 3 4 2.5 4 2 4 1.5 4 1.5 4 1.5 4 1 4 1 4 1 4 1 4 0.5 4 1 4 1 4 0.5 4 1 4 1 4 0.5 4 1 4 1 4 1 4 1 4 0.5 4 1 4 0.5 4 0 4 0.5 4 0.5 4 0 4 0.5 4 0.5 4 0 4 0.5 4 0 4 0 4 0 4 0 4 0 4-1.5 4-2 4-3 4-3.5 4-3.5 4-3 4-2 4-1 4 0 4 0 4 0.5 4 1 4 1 4 1 4 1.5 4 2.5 4 2 4 3 4 3 1 0.5 0 6.5-1-0.5-4-2.5-4-3-4-2.5-4-2-4-1.5-4-1.5-4-1-4-0.5-4-0.5-4-0.5-4 0.5-4 1-4 2-4 2.5-4 3.5-4 3.5-4 3-4 2.5-4 1-4 0.5-4 0-4 0-4 0-4-0.5-4 0-4-0.5-4 0-4-0.5-4-0.5-4 0-4-0.5-4-0.5-4-0.5-4-0.5-4-1-4-0.5-4-1-4-1-4-1-4-1-4-1-4-0.5-4-1-4-0.5-4-1-4-1-4-0.5-4-1-4-1-4-1.5-4-1-4-1.5-4-2-4-2-4-2.5-4-3-4-4-4-5-4-7-4-7.5-4-9-4-10.5-4-11-4-11.5-4-13-4-13-4-13.5-4-13.5-4-14-4-13.5-4-14-4-13-4-12.5ZM121 661.5l4 0.5 4 0.5 4 0.5 4 0.5 4 0.5 4 0 4 0 4 0 4 0 4-0.5 4-0.5 4-0.5 4-1 4-1 4-1 4-1.5 4-2 4-2.5 4-2.5 4-2.5 4-2.5 4-2 4-2 4-1.5 4-2 4-1 4-1.5 4-0.5 4-1 4-0.5 4-1 4-0.5 4-0.5 4-0.5 4 0 4-0.5 4-0.5 4 0 4 0 4-0.5 4 0 4 0 4-0.5 4 0 4-1 4-2 4-3 4-3.5 4-4 4-3.5 4-2.5 4-2 4-2.5 4-2 4-1.5 4-1.5 4-1 4-1 4-0.5 4-1 4-0.5 4-0.5 4-0.5 4 0 4-0.5 4-0.5 4 0 4-0.5 4-0.5 4 0 4 0 4-0.5 4 0 4 0 4 0 4-0.5 4 0 4 0 4-0.5 4 0 4-0.5 4-1 4-1.5 4-3 4-4.5 4-5 4-6 4-6.5 4-8 4-11.5 4-13 4-13 4-13 3-9.5 0 11-3 9.5-4 13-4 13-4 12-4 9-4 7.5-4 6.5-4 6-4 5-4 4-4 3-4 2-4 0.5-4 0.5-4 0.5-4 0-4 0.5-4 0-4 0-4 0-4 0.5-4 0-4 0-4 0.5-4 0-4 0.5-4 0-4 0.5-4 0-4 0.5-4 0.5-4 0.5-4 0.5-4 0.5-4 0.5-4 1-4 0.5-4 1.5-4 1-4 2-4 2-4 2-4 2.5-4 2.5-4 3.5-4 3.5-4 4-4 3-4 2-4 0.5-4 0.5-4 0-4 0.5-4 0-4 0-4 0.5-4 0-4 0.5-4 0-4 0.5-4 0.5-4 0.5-4 0.5-4 0.5-4 1-4 0.5-4 1-4 1-4 1.5-4 1.5-4 2-4 2-4 2-4 2-4 2.5-4 2.5-4 2.5-4 2-4 1.5-4 1.5-4 1-4 0.5-4 1-4 0.5-4 0.5-4 0-4 0-4 0-4-0.5-4 0-4-0.5-4-0.5-4-1-4-0.5ZM1490 495l4 12.5 4 12 4 12 4 12 4 12.5 4 13.5 4 13.5 4 13.5 4 14 4 13.5 4 13.5 4 13 4 13 4 11.5 4 11.5 4 10 4 9 4 7.5 4 5.5 4 4.5 4 3 4 2.5 4 2 4 2 4 1.5 4 1.5 4 1 4 1 4 1 4 1 4 1 4 0.5 4 1 4 0.5 4 1 4 1 4 1 4 0.5 4 1 4 1 4 1 4 1 4 0.5 4 0.5 4 0.5 4 0 4 0.5 4 0.5 4 0 4 0.5 4 0.5 4 0 4 0 4 0.5 4 0 4 0 4 0 4-1 4-2 4-3 4-3.5 4-3.5 4-3 4-2.5 4-1 4-0.5 4 0.5 4 0.5 4 0.5 4 1 4 1 4 1.5 4 2 4 2.5 4 2.5 4 3 2 1 0 7-2-1-4-3-4-3-4-2-4-2-4-1.5-4-1.5-4-1-4-0.5-4-0.5-4 0-4 0.5-4 1-4 2.5-4 3-4 3.5-4 3.5-4 2.5-4 2-4 1-4 0.5-4 0-4-0.5-4 0-4 0-4-0.5-4 0-4-0.5-4-0.5-4 0-4-0.5-4-0.5-4 0-4-1-4-0.5-4-0.5-4-1-4-1-4-1-4-1-4-1-4-0.5-4-1-4-1-4-0.5-4-1-4-1-4-0.5-4-1-4-1-4-1.5-4-1-4-1.5-4-2-4-2-4-2.5-4-3.5-4-4-4-6-4-7-4-8-4-9.5-4-10-4-11.5-4-12-4-13-4-13-4-13.5-4-14-4-13.5-4-14-4-13.5-4-13-4-12.5-4-12-4-12-4-12ZM121 700l4 0.5 4 1 4 0.5 4 0.5 4 0 4 0.5 4 0 4 0 4 0 4-0.5 4-0.5 4-1 4-0.5 4-1 4-1.5 4-1.5 4-2 4-2.5 4-2.5 4-2.5 4-2 4-2 4-2 4-2 4-1.5 4-1.5 4-1 4-1 4-0.5 4-1 4-0.5 4-0.5 4-0.5 4-0.5 4-0.5 4 0 4-0.5 4 0 4-0.5 4 0 4 0 4-0.5 4 0 4-0.5 4-0.5 4-2 4-3 4-4 4-3.5 4-3.5 4-2.5 4-2.5 4-2 4-2 4-2 4-1 4-1.5 4-0.5 4-1 4-0.5 4-0.5 4-0.5 4-0.5 4-0.5 4-0.5 4 0 4-0.5 4 0 4-0.5 4 0 4-0.5 4 0 4 0 4-0.5 4 0 4 0 4 0 4-0.5 4 0 4-0.5 4-0.5 4-0.5 4-2 4-3 4-4 4-5 4-6 4-6.5 4-8.5 4-11 4-13 4-13 4-13 4-13.5 4-13 4-11.5 4-9.5 0 8-4 11-4 13-4 13.5-4 13-4 13-4 13-4 11.5-4 9.5-4 7.5-4 6.5-4 5.5-4 5.5-4 4-4 3-4 1.5-4 1-4 0.5-4 0-4 0.5-4 0-4 0.5-4 0-4 0-4 0-4 0.5-4 0-4 0-4 0.5-4 0-4 0.5-4 0-4 0.5-4 0.5-4 0.5-4 0.5-4 0.5-4 0.5-4 0.5-4 0.5-4 1-4 1-4 1.5-4 2-4 1.5-4 2.5-4 2-4 3-4 3-4 4-4 3.5-4 3.5-4 1.5-4 1-4 0.5-4 0-4 0-4 0.5-4 0-4 0-4 0.5-4 0-4 0.5-4 0.5-4 0-4 0.5-4 1-4 0.5-4 0.5-4 1-4 1-4 1-4 1.5-4 1.5-4 2-4 2-4 2-4 2-4 2.5-4 2.5-4 2.5-4 2-4 1.5-4 1-4 1-4 1-4 1-4 0.5-4 0-4 0-4 0-4 0-4 0-4-0.5-4-0.5-4-0.5-4-0.5-4-0.5ZM1478 495l4 13 4 13 4 12.5 4 12.5 4 12.5 4 11.5 4 12.5 4 12.5 4 13 4 13.5 4 14 4 13.5 4 14 4 13.5 4 13 4 12.5 4 12 4 11 4 10 4 9 4 7.5 4 6 4 4 4 3.5 4 2.5 4 2 4 2 4 1.5 4 1 4 1.5 4 1 4 1 4 0.5 4 1 4 1 4 0.5 4 1 4 1 4 0.5 4 1 4 1 4 1 4 1 4 1 4 0.5 4 0.5 4 1 4 0 4 0.5 4 0.5 4 0 4 0.5 4 0.5 4 0 4 0.5 4 0 4 0 4 0.5 4 0 4-0.5 4-1 4-2 4-2.5 4-3.5 4-3.5 4-3 4-2.5 4-1 4-0.5 4 0 4 0.5 4 0.5 4 1 4 1.5 4 1.5 4 2 4 2 4 3 4 3 2 1 0 6.5-2-1-4-3-4-2.5-4-2.5-4-2-4-1.5-4-1-4-1-4-0.5-4-0.5-4 0-4 0-4 1.5-4 2-4 3-4 3.5-4 3.5-4 3-4 2-4 1-4 0-4 0-4 0-4 0-4-0.5-4 0-4-0.5-4 0-4-0.5-4-0.5-4 0-4-0.5-4-0.5-4-0.5-4-0.5-4-1-4-1-4-0.5-4-1-4-1-4-1-4-1-4-0.5-4-1-4-1-4-0.5-4-1-4-1-4-1-4-1-4-1-4-1.5-4-1.5-4-1.5-4-2.5-4-2.5-4-3-4-4.5-4-5.5-4-7-4-8-4-9.5-4-10.5-4-11-4-12-4-13-4-13-4-14-4-13.5-4-14-4-13.5-4-13.5-4-13-4-12.5-4-12-4-12-4-12-4-13-4-12.5-4-13ZM121 739l4 0.5 4 0.5 4 0.5 4 0.5 4 0.5 4 0 4 0 4 0 4 0 4 0 4-0.5 4-1 4-1 4-1 4-1 4-1.5 4-2 4-2.5 4-2.5 4-2.5 4-2 4-2 4-2 4-2 4-1.5 4-1.5 4-1 4-1 4-1 4-0.5 4-0.5 4-1 4-0.5 4 0 4-0.5 4-0.5 4 0 4-0.5 4 0 4 0 4-0.5 4 0 4 0 4-0.5 4-1 4-1.5 4-3.5 4-3.5 4-4 4-3 4-3 4-2 4-2.5 4-1.5 4-2 4-1.5 4-1 4-1 4-0.5 4-0.5 4-0.5 4-0.5 4-0.5 4-0.5 4-0.5 4-0.5 4 0 4-0.5 4 0 4-0.5 4 0 4 0 4-0.5 4 0 4 0 4 0 4-0.5 4 0 4-0.5 4 0 4-0.5 4-1 4-1.5 4-3 4-4 4-5.5 4-5.5 4-6.5 4-8.5 4-11.5 4-12.5 4-13 4-13 4-13.5 4-13 4-12 4-9 4-8 4-7 4-6.5 4-5.5 4-4.5 4-2.5 4-1 4-0.5 4 0 4 0.5 4 0 4 0 4 0 4 0 4 0 4 0 4 0 4 0.5 4 0 4 0 4 0 4 0 4 0 4 0 4 0 4 0 4 0 4-1 4-2 2-1.5 0 7-2 1.5-4 2-4 1-4 0-4 0-4 0-4 0-4 0-4 0-4-0.5-4 0-4 0-4 0-4 0-4 0-4 0-4-0.5-4 0-4 0-4 0-4 0-4 0-4 0-4 1-4 3-4 4-4 6-4 6.5-4 7-4 9-4 11-4 13-4 13.5-4 13-4 13-4 13-4 11.5-4 9.5-4 7-4 6.5-4 6-4 5-4 4.5-4 3-4 1.5-4 1-4 0-4 0.5-4 0-4 0.5-4 0-4 0-4 0.5-4 0-4 0-4 0-4 0.5-4 0-4 0.5-4 0-4 0.5-4 0.5-4 0-4 0.5-4 0.5-4 0.5-4 0.5-4 0.5-4 1-4 1-4 1-4 1.5-4 1.5-4 2-4 2-4 2.5-4 2.5-4 3.5-4 4-4 3.5-4 3-4 2-4 0.5-4 0.5-4 0.5-4 0-4 0-4 0.5-4 0-4 0-4 0.5-4 0-4 0.5-4 0.5-4 0.5-4 0.5-4 0.5-4 1-4 0.5-4 1-4 1-4 1.5-4 2-4 1.5-4 2-4 2-4 2.5-4 2.5-4 2.5-4 2.5-4 1.5-4 1.5-4 1.5-4 1-4 1-4 0.5-4 0.5-4 0.5-4 0-4 0-4 0-4-0.5-4 0-4-0.5-4-0.5-4-0.5-4-0.5ZM1466 495.5l4 12.5 4 12.5 4 13 4 13 4 13 4 13 4 12.5 4 12 4 12 4 12 4 12.5 4 13.5 4 13.5 4 13.5 4 14 4 13.5 4 13.5 4 13.5 4 12.5 4 12 4 11 4 10 4 9 4 7.5 4 5.5 4 4.5 4 3 4 2.5 4 2.5 4 1.5 4 1.5 4 1.5 4 1 4 1 4 1 4 1 4 1 4 0.5 4 1 4 1 4 0.5 4 1 4 1 4 1 4 1 4 0.5 4 1 4 1 4 0.5 4 0.5 4 0.5 4 0.5 4 0 4 0.5 4 0.5 4 0 4 0.5 4 0 4 0.5 4 0 4 0 4 0 4 0 4-1 4-2 4-3 4-3.5 4-3.5 4-3 4-2 4-1.5 4 0 4 0 4 0.5 4 0.5 4 1 4 1 4 1.5 4 2 4 2.5 4 2.5 4 3 2 1 0 7-2-1-4-3-4-2.5-4-2.5-4-2-4-1.5-4-1.5-4-0.5-4-1-4 0-4-0.5-4 0.5-4 1-4 2.5-4 3-4 3.5-4 3.5-4 3-4 2-4 1-4 0-4 0-4 0-4-0.5-4 0-4-0.5-4 0-4-0.5-4 0-4-0.5-4-0.5-4 0-4-0.5-4-0.5-4-1-4-0.5-4-1-4-1-4-1-4-1-4-1-4-0.5-4-1-4-0.5-4-1-4-1-4-0.5-4-1-4-1-4-1-4-1-4-1.5-4-1.5-4-2-4-2-4-2.5-4-3.5-4-4-4-6-4-7-4-8-4-9-4-10.5-4-11.5-4-12-4-12.5-4-13.5-4-13.5-4-13.5-4-14-4-13.5-4-13.5-4-13-4-12.5-4-12-4-12-4-12.5-4-12.5-4-13-4-13-4-13-4-13-4-12.5ZM121 778l4 0.5 4 0.5 4 0.5 4 0.5 4 0 4 0.5 4 0 4 0 4 0 4-0.5 4-0.5 4-0.5 4-1 4-1 4-1.5 4-1.5 4-1.5 4-2.5 4-2.5 4-2.5 4-2.5 4-2 4-2 4-1.5 4-2 4-1.5 4-1 4-1 4-0.5 4-1 4-0.5 4-0.5 4-0.5 4-0.5 4-0.5 4 0 4-0.5 4 0 4 0 4-0.5 4 0 4 0 4-0.5 4-0.5 4-0.5 4-2 4-3 4-3.5 4-4 4-3.5 4-2.5 4-2.5 4-2 4-2 4-1.5 4-1.5 4-1 4-1 4-1 4-0.5 4-0.5 4-0.5 4-0.5 4-0.5 4 0 4-0.5 4-0.5 4 0 4-0.5 4 0 4-0.5 4 0 4 0 4 0 4-0.5 4 0 4 0 4-0.5 4 0 4-0.5 4 0 4-1 4-1.5 4-3 4-4.5 4-5 4-6 4-6.5 4-8.5 4-11 4-13 4-13 4-13 4-13 4-13.5 4-11.5 4-9.5 4-7.5 4-7 4-6.5 4-6 4-4 4-3 4-1 4 0 4 0 4 0 4 0 4 0 4 0 4 0.5 4 0 4 0 4 0 4 0 4 0 4 0 4 0.5 4 0 4 0 4 0 4 0 4 0 4 0 4-1 4-2 4-3 4-4 4-5.5 4-5 4-5 4-3.5 4-2 4-0.5 4-1 4 0 4-0.5 4-0.5 4 0 4-0.5 4 0 4 0 4 0 4 0.5 4 1 4 0.5 4 1 4 1 4 1 4 1 4 1 4 0.5 4 0.5 4 0 4-0.5 4-0.5 4-1 4-1.5 4-1 4-2 4-1.5 4-2 4-2 4-1.5 4-2 4-1.5 1-0.5 0 6.5-1 0.5-4 2-4 1.5-4 2-4 2-4 1.5-4 2-4 1.5-4 1.5-4 1.5-4 0.5-4 1-4 0-4 0-4 0-4-1-4-0.5-4-1-4-1-4-1-4-1-4-1-4-0.5-4-0.5-4 0-4 0-4 0-4 0-4 0.5-4 0-4 0.5-4 0.5-4 0.5-4 1-4 1.5-4 3.5-4 5-4 5.5-4 5-4 4-4 3-4 2-4 1-4 0.5-4 0-4-0.5-4 0-4 0-4 0-4 0-4 0-4 0-4 0-4-0.5-4 0-4 0-4 0-4 0-4 0-4 0-4 0-4 0-4 0-4 1-4 2.5-4 4.5-4 5.5-4 6.5-4 7.5-4 8.5-4 11-4 13-4 13.5-4 13-4 13-4 13-4 12-4 9-4 7.5-4 6.5-4 6-4 5-4 4-4 3-4 2-4 0.5-4 0.5-4 0.5-4 0-4 0-4 0.5-4 0-4 0-4 0.5-4 0-4 0-4 0-4 0.5-4 0-4 0.5-4 0.5-4 0-4 0.5-4 0.5-4 0.5-4 0.5-4 0.5-4 0.5-4 1-4 0.5-4 1-4 1.5-4 2-4 2-4 2-4 2-4 3-4 3-4 4-4 4-4 3-4 1.5-4 1-4 0.5-4 0-4 0.5-4 0-4 0-4 0-4 0.5-4 0-4 0.5-4 0.5-4 0.5-4 0.5-4 0.5-4 0.5-4 0.5-4 1-4 1-4 1-4 1.5-4 1.5-4 2-4 2-4 2-4 2-4 2.5-4 2.5-4 2.5-4 2-4 1.5-4 1-4 1-4 1-4 1-4 0.5-4 0-4 0.5-4-0.5-4 0-4 0-4-0.5-4 0-4-0.5-4-1-4-0.5ZM1453 496l4 11 4 12 4 12 4 12.5 4 12.5 4 13 4 13 4 13 4 13 4 12.5 4 12.5 4 12 4 12 4 12.5 4 13 4 13.5 4 13.5 4 14 4 13.5 4 13.5 4 13.5 4 12.5 4 12 4 11.5 4 10.5 4 9 4 8 4 6 4 4.5 4 3.5 4 3 4 2 4 2 4 1.5 4 1.5 4 1 4 1 4 1 4 1 4 1 4 1 4 0.5 4 1 4 0.5 4 1 4 1 4 1 4 1 4 1 4 0.5 4 1 4 0.5 4 0.5 4 0.5 4 0.5 4 0.5 4 0 4 0.5 4 0.5 4 0 4 0.5 4 0 4 0 4 0.5 4 0 4 0 4-1 4-1.5 4-3 4-3 4-3.5 4-3.5 4-2.5 4-1.5 4-0.5 4 0 4 0.5 4 0.5 4 1 4 1 4 1.5 4 2 4 2 4 3 4 2.5 3 2 0 7-3-2-4-3-4-2.5-4-2.5-4-1.5-4-1.5-4-1-4-1-4-0.5-4-0.5-4 0-4 0.5-4 1.5-4 2.5-4 3-4 3.5-4 3.5-4 2.5-4 2-4 0.5-4 0-4 0-4 0-4 0-4-0.5-4 0-4-0.5-4 0-4-0.5-4-0.5-4 0-4-0.5-4-0.5-4-0.5-4-0.5-4-1-4-1-4-1-4-1-4-1-4-0.5-4-1-4-1-4-0.5-4-1-4-0.5-4-1-4-1-4-1-4-1-4-1.5-4-1-4-1.5-4-2-4-2.5-4-2.5-4-3.5-4-4.5-4-6-4-7.5-4-8.5-4-9.5-4-10.5-4-11.5-4-12.5-4-12.5-4-13.5-4-13.5-4-14-4-13.5-4-14-4-13-4-13-4-12.5-4-12-4-12-4-12.5-4-12.5-4-13-4-13-4-13-4-12.5-4-13-4-12.5-4-12-4-11.5ZM121 816.5l4 0.5 4 1 4 0.5 4 0 4 0.5 4 0 4 0 4 0.5 4-0.5 4 0 4-0.5 4-1 4-1 4-1 4-1 4-1.5 4-2 4-2.5 4-2.5 4-2.5 4-2 4-2 4-2 4-2 4-1.5 4-1.5 4-1 4-1 4-1 4-0.5 4-0.5 4-0.5 4-0.5 4-0.5 4-0.5 4-0.5 4 0 4-0.5 4 0 4 0 4 0 4-0.5 4 0 4-0.5 4-1 4-1.5 4-3 4-4 4-4 4-3 4-3 4-2 4-2 4-2 4-2 4-1.5 4-1 4-0.5 4-1 4-0.5 4-0.5 4-0.5 4-0.5 4-0.5 4-0.5 4 0 4-0.5 4-0.5 4 0 4-0.5 4 0 4 0 4 0 4-0.5 4 0 4 0 4-0.5 4 0 4 0 4-0.5 4-0.5 4-0.5 4-2 4-3 4-4 4-5 4-6 4-6.5 4-8.5 4-11 4-13 4-13 4-13 4-13.5 4-13 4-12 4-9 4-7.5 4-7.5 4-6.5 4-5.5 4-4.5 4-2.5 4-1 4 0 4 0 4 0 4 0 4 0 4 0 4 0 4 0 4 0 4 0.5 4 0 4 0 4 0 4 0 4 0 4 0 4 0 4 0.5 4 0 4-0.5 4-1 4-2 4-3 4-4 4-5 4-5.5 4-5 4-3.5 4-1.5 4-1 4-0.5 4-0.5 4-0.5 4 0 4-0.5 4 0 4 0 4 0 4 0 4 0.5 4 0.5 4 1 4 1 4 1 4 1 4 1 4 0.5 4 1 4 0 4 0 4 0 4-1 4-0.5 4-1.5 4-1.5 4-1.5 4-2 4-1.5 4-2 4-2 4-1.5 4-2 4-1.5 4-1.5 4-1.5 4-1.5 4-1.5 4-1.5 4-2 4-2 4-2.5 4-3.5 4-4 4-5 4-5.5 4-5.5 0 6.5-4 6-4 5-4 5-4 4.5-4 3-4 3-4 2-4 2-4 1.5-4 1.5-4 1.5-4 1.5-4 1.5-4 1.5-4 1.5-4 2-4 2-4 1.5-4 2-4 2-4 1.5-4 1.5-4 1-4 1-4 0.5-4 0.5-4 0-4-0.5-4-0.5-4-1-4-1-4-1-4-1-4-0.5-4-1-4-0.5-4-0.5-4-0.5-4 0-4 0.5-4 0-4 0-4 0.5-4 0.5-4 0.5-4 0.5-4 0.5-4 2-4 3.5-4 5-4 5.5-4 5-4 4-4 3-4 2-4 1-4 0-4 0-4 0-4 0-4 0-4 0-4 0-4-0.5-4 0-4 0-4 0-4 0-4 0-4 0-4 0-4-0.5-4 0-4 0-4 0-4 0.5-4 1-4 2.5-4 4.5-4 5.5-4 6.5-4 7-4 9-4 11-4 13-4 13.5-4 13-4 13-4 13-4 11.5-4 9.5-4 7-4 6.5-4 6-4 5-4 4.5-4 3-4 1.5-4 1-4 0.5-4 0-4 0.5-4 0-4 0-4 0.5-4 0-4 0-4 0-4 0.5-4 0-4 0-4 0.5-4 0.5-4 0-4 0.5-4 0.5-4 0-4 0.5-4 0.5-4 0.5-4 1-4 0.5-4 1-4 1-4 1.5-4 1.5-4 2-4 2.5-4 2-4 2.5-4 3.5-4 4-4 3.5-4 3-4 2-4 1-4 0-4 0.5-4 0-4 0-4 0.5-4 0-4 0-4 0.5-4 0.5-4 0-4 0.5-4 0.5-4 0.5-4 1-4 0.5-4 1-4 0.5-4 1.5-4 1-4 2-4 1.5-4 2-4 2-4 2.5-4 2.5-4 2.5-4 2.5-4 2-4 1.5-4 1-4 1-4 1-4 0.5-4 0.5-4 0.5-4 0-4 0-4 0-4 0-4-0.5-4-0.5-4-0.5-4-0.5-4-0.5ZM1437 497.5l4 8.5 4 9 4 9.5 4 10.5 4 11 4 11.5 4 12.5 4 12.5 4 12.5 4 13 4 13 4 13 4 13 4 12.5 4 12 4 12 4 12 4 12.5 4 13 4 13.5 4 14 4 13.5 4 14 4 13.5 4 13 4 13 4 12 4 11.5 4 10 4 9.5 4 8 4 6 4 4.5 4 3.5 4 2.5 4 2.5 4 2 4 1.5 4 1 4 1.5 4 1 4 1 4 1 4 1 4 0.5 4 1 4 0.5 4 1 4 1 4 0.5 4 1 4 1 4 1 4 1 4 1 4 0.5 4 0.5 4 0.5 4 0.5 4 0 4 0.5 4 0.5 4 0 4 0.5 4 0 4 0.5 4 0 4 0 4 0 4 0 4-0.5 4-2 4-2.5 4-3.5 4-3.5 4-3 4-2.5 4-1.5 4-0.5 4 0 4 0.5 4 0.5 4 1 4 1 4 1.5 4 1.5 4 2.5 4 2.5 4 3 3 2 0 6.5-3-1.5-4-3-4-3-4-2-4-2-4-1.5-4-1-4-1-4-0.5-4 0-4-0.5-4 0.5-4 1.5-4 2.5-4 3.5-4 3.5-4 3-4 3-4 2-4 0.5-4 0-4 0-4 0-4-0.5-4 0-4-0.5-4 0-4-0.5-4 0-4-0.5-4-0.5-4 0-4-0.5-4-0.5-4-1-4-0.5-4-1-4-1-4-1-4-1-4-1-4-0.5-4-1-4-1-4-0.5-4-1-4-1-4-0.5-4-1-4-1-4-1.5-4-1.5-4-1.5-4-2-4-2-4-3-4-3-4-5-4-6-4-7-4-8.5-4-9.5-4-10.5-4-11.5-4-12.5-4-13-4-13-4-14-4-13.5-4-14-4-13.5-4-13.5-4-13-4-12-4-12-4-12-4-12.5-4-12.5-4-13-4-13-4-13-4-13-4-12.5-4-12.5-4-12-4-11.5-4-11-4-10-4-9.5-4-9ZM121 855.5l4 0.5 4 0.5 4 0.5 4 0.5 4 0.5 4 0 4 0 4 0 4 0 4-0.5 4-0.5 4-0.5 4-1 4-1 4-1 4-1.5 4-2 4-2.5 4-2.5 4-2.5 4-2.5 4-2 4-2 4-1.5 4-2 4-1 4-1.5 4-0.5 4-1 4-0.5 4-1 4-0.5 4-0.5 4-0.5 4 0 4-0.5 4-0.5 4 0 4 0 4-0.5 4 0 4 0 4-0.5 4 0 4-1 4-2 4-3 4-3.5 4-4 4-3.5 4-2.5 4-2 4-2.5 4-2 4-1.5 4-1.5 4-1 4-1 4-0.5 4-1 4-0.5 4-0.5 4-0.5 4 0 4-0.5 4-0.5 4 0 4-0.5 4-0.5 4 0 4 0 4-0.5 4 0 4 0 4 0 4-0.5 4 0 4 0 4-0.5 4 0 4-0.5 4-1 4-1.5 4-3 4-4.5 4-5 4-6 4-6.5 4-8 4-11.5 4-13 4-13 4-13 4-13 4-13.5 4-11.5 4-9.5 4-7.5 4-7 4-6.5 4-5.5 4-4.5 4-2.5 4-1 4-0.5 4 0 4 0 4 0 4 0.5 4 0 4 0 4 0 4 0 4 0 4 0 4 0 4 0.5 4 0 4 0 4 0 4 0 4 0 4 0 4 0 4-1 4-2 4-3 4-4 4-5 4-5.5 4-5 4-3.5 4-2 4-0.5 4-0.5 4-0.5 4-0.5 4-0.5 4 0 4 0 4-0.5 4 0 4 0.5 4 0.5 4 0.5 4 1 4 0.5 4 1 4 1 4 1 4 1 4 0.5 4 0.5 4 0 4-0.5 4-0.5 4-1 4-1 4-1.5 4-1.5 4-2 4-2 4-1.5 4-2 4-2 4-1.5 4-1.5 4-1.5 4-1.5 4-1.5 4-1.5 4-1.5 4-2 4-2 4-3 4-3 4-4.5 4-5 4-5 4-6 4-5.5 4-6 4-5.5 4-5.5 4-5.5 4-6 3-4.5 0 7-3 4.5-4 5.5-4 6-4 5.5-4 5.5-4 5.5-4 6-4 5.5-4 5.5-4 5-4 4-4 3.5-4 2.5-4 2-4 2-4 2-4 1.5-4 1.5-4 1-4 1.5-4 1.5-4 2-4 1.5-4 2-4 2-4 2-4 1.5-4 1.5-4 1.5-4 1.5-4 1-4 0.5-4 0.5-4-0.5-4 0-4-1-4-0.5-4-1-4-1-4-1-4-1-4-1-4-0.5-4-0.5-4 0-4 0-4 0-4 0-4 0.5-4 0.5-4 0-4 0.5-4 0.5-4 1-4 2-4 3.5-4 4.5-4 5.5-4 5-4 4.5-4 3-4 2-4 0.5-4 0.5-4 0-4 0-4 0-4-0.5-4 0-4 0-4 0-4 0-4 0-4 0-4 0-4-0.5-4 0-4 0-4 0-4 0-4 0-4 0-4 0-4 1-4 2.5-4 4.5-4 5.5-4 7-4 7-4 8.5-4 11-4 13-4 13.5-4 13-4 13-4 13-4 12-4 9-4 7.5-4 6.5-4 6-4 5-4 4-4 3-4 2-4 0.5-4 0.5-4 0.5-4 0-4 0.5-4 0-4 0-4 0-4 0.5-4 0-4 0-4 0.5-4 0-4 0.5-4 0-4 0.5-4 0-4 0.5-4 0.5-4 0.5-4 0.5-4 0.5-4 0.5-4 1-4 0.5-4 1.5-4 1-4 2-4 2-4 2-4 2.5-4 2.5-4 3.5-4 3.5-4 4-4 3-4 2-4 0.5-4 0.5-4 0-4 0.5-4 0-4 0-4 0.5-4 0-4 0.5-4 0-4 0.5-4 0.5-4 0.5-4 0.5-4 0.5-4 1-4 0.5-4 1-4 1-4 1.5-4 1.5-4 2-4 2-4 2-4 2-4 2.5-4 2.5-4 2.5-4 2-4 1.5-4 1.5-4 1-4 0.5-4 1-4 0.5-4 0.5-4 0-4 0-4 0-4-0.5-4 0-4-0.5-4-0.5-4-1-4-0.5ZM1353 497l4 1.5 4 1 4 1 4 1 4 0.5 4 0.5 4 0.5 4 1 4 0.5 4 1 4 0.5 4 1 4 1 4 1 4 1 4 1.5 4 2 4 3 4 5 4 7 4 8 4 8.5 4 9 4 9.5 4 10.5 4 11 4 11.5 4 12 4 12.5 4 13 4 13 4 13 4 13 4 12.5 4 12.5 4 12.5 4 12 4 12 4 12.5 4 13 4 13.5 4 13.5 4 14 4 13.5 4 13.5 4 13.5 4 12.5 4 12.5 4 11 4 10.5 4 9.5 4 7.5 4 6 4 5 4 3 4 3 4 2 4 2 4 1.5 4 1.5 4 1.5 4 1 4 1 4 0.5 4 1 4 1 4 0.5 4 1 4 1 4 0.5 4 1 4 1 4 1 4 1 4 1 4 0.5 4 1 4 0.5 4 0.5 4 0 4 0.5 4 0.5 4 0 4 0.5 4 0 4 0.5 4 0 4 0.5 4 0 4 0 4 0 4-0.5 4-2 4-3 4-3 4-3.5 4-3.5 4-2.5 4-1.5 4-0.5 4 0.5 4 0 4 0.5 4 1 4 1 4 1.5 4 2 4 2 4 3 4 3 3 1.5 0 7-3-2-4-3-4-2.5-4-2-4-2-4-1.5-4-1-4-1-4-0.5-4-0.5-4 0-4 0.5-4 1.5-4 2.5-4 3-4 3.5-4 3.5-4 3-4 1.5-4 1-4 0-4 0-4-0.5-4 0-4 0-4-0.5-4 0-4-0.5-4-0.5-4 0-4-0.5-4-0.5-4-0.5-4-0.5-4-0.5-4-1-4-1-4-1-4-0.5-4-1-4-1-4-1-4-0.5-4-1-4-1-4-0.5-4-1-4-1-4-1-4-1-4-1-4-1.5-4-1.5-4-2-4-2-4-3-4-3.5-4-4.5-4-6-4-7.5-4-8-4-10-4-10.5-4-11.5-4-12-4-13-4-13.5-4-13.5-4-14-4-13.5-4-13.5-4-13.5-4-13-4-12.5-4-12-4-12-4-12-4-13-4-12.5-4-13-4-13-4-13-4-13-4-12-4-12.5-4-11.5-4-10.5-4-10.5-4-9.5-4-8.5-4-8.5-4-7.5-4-4.5-4-3-4-2-4-1.5-4-1-4-1-4-1-4-1-4-1-4-0.5-4-1-4-0.5-4-0.5-4-0.5-4-1-4-0.5-4-1-4-1.5-4-1.5ZM121 894l4 0.5 4 1 4 0.5 4 0.5 4 0 4 0.5 4 0 4 0 4 0 4-0.5 4-0.5 4-1 4-0.5 4-1 4-1.5 4-1.5 4-2 4-2.5 4-2.5 4-2.5 4-2 4-2 4-2 4-2 4-1.5 4-1.5 4-1 4-1 4-0.5 4-1 4-0.5 4-0.5 4-0.5 4-0.5 4-0.5 4 0 4-0.5 4 0 4-0.5 4 0 4 0 4-0.5 4 0 4-0.5 4-0.5 4-2 4-3 4-4 4-3.5 4-3.5 4-2.5 4-2.5 4-2 4-2 4-2 4-1 4-1.5 4-0.5 4-1 4-0.5 4-0.5 4-0.5 4-0.5 4-0.5 4-0.5 4 0 4-0.5 4 0 4-0.5 4 0 4-0.5 4 0 4 0 4-0.5 4 0 4 0 4 0 4-0.5 4 0 4-0.5 4-0.5 4-0.5 4-2 4-3 4-4 4-5 4-6 4-6.5 4-8.5 4-11 4-13 4-13 4-13 4-13.5 4-13 4-11.5 4-9.5 4-7.5 4-7 4-7 4-5.5 4-4.5 4-2.5 4-1 4 0 4 0 4 0 4 0 4 0 4 0 4 0 4 0.5 4 0 4 0 4 0 4 0 4 0 4 0 4 0 4 0.5 4 0 4 0 4 0 4-0.5 4-0.5 4-2 4-3 4-4.5 4-5 4-5.5 4-4.5 4-3.5 4-2 4-1 4-0.5 4-0.5 4 0 4-0.5 4-0.5 4 0 4 0 4 0 4 0 4 0.5 4 0.5 4 1 4 1 4 1 4 1 4 1 4 0.5 4 1 4 0 4 0.5 4-0.5 4-0.5 4-1 4-1.5 4-1.5 4-1.5 4-1.5 4-2 4-2 4-2 4-1.5 4-2 4-1.5 4-1.5 4-1 4-1.5 4-1.5 4-2 4-2 4-2 4-2.5 4-3.5 4-4 4-5 4-5.5 4-5.5 4-6 4-5.5 4-5.5 4-5.5 4-6 4-5.5 4-6 4-6 4-5.5 4-4.5 4-4.5 4-4 4-3 4-2.5 4-1.5 4-0.5 4 0 4-0.5 4 0 4 0 4 1 4 2 4 3 4 4 4 3.5 4 2.5 4 1.5 4 0 4-1.5 4-1.5 4-2.5 4-2.5 4-2.5 4-2.5 4-2.5 4-3 4-3 2-1 0 6.5-2 1.5-4 3-4 2.5-4 3-4 2.5-4 2.5-4 2.5-4 2-4 2-4 1-4 0-4-1-4-3-4-3.5-4-3.5-4-3-4-2.5-4-0.5-4 0-4 0-4 0-4 0.5-4 0.5-4 1-4 2.5-4 3.5-4 3.5-4 4.5-4 5-4 5.5-4 5.5-4 6-4 6-4 5.5-4 5.5-4 5.5-4 6-4 5.5-4 6-4 5.5-4 4.5-4 4.5-4 3.5-4 2.5-4 2-4 2-4 1.5-4 1.5-4 1.5-4 1.5-4 1.5-4 1.5-4 1.5-4 2-4 2-4 2-4 1.5-4 2-4 1.5-4 1.5-4 1-4 1-4 1-4 0-4 0-4-0.5-4-0.5-4-1-4-0.5-4-1-4-1-4-1-4-1-4-0.5-4-0.5-4 0-4 0-4 0-4 0-4 0.5-4 0-4 0.5-4 0.5-4 0.5-4 1-4 1.5-4 3.5-4 5-4 5.5-4 5-4 4-4 3-4 2-4 1-4 0-4 0-4 0-4 0-4 0-4 0-4 0-4 0-4 0-4-0.5-4 0-4 0-4 0-4 0-4 0-4 0-4 0-4-0.5-4 0-4 0.5-4 1-4 2.5-4 4.5-4 5.5-4 6.5-4 7.5-4 8.5-4 11-4 13-4 13.5-4 13-4 13-4 13-4 11.5-4 9.5-4 7.5-4 6.5-4 5.5-4 5.5-4 4-4 3-4 1.5-4 1-4 0.5-4 0-4 0.5-4 0-4 0.5-4 0-4 0-4 0-4 0.5-4 0-4 0-4 0.5-4 0-4 0.5-4 0-4 0.5-4 0.5-4 0.5-4 0.5-4 0.5-4 0.5-4 0.5-4 0.5-4 1-4 1-4 1.5-4 2-4 1.5-4 2.5-4 2-4 3-4 3-4 4-4 3.5-4 3.5-4 1.5-4 1-4 0.5-4 0-4 0-4 0.5-4 0-4 0-4 0.5-4 0-4 0.5-4 0.5-4 0-4 0.5-4 1-4 0.5-4 0.5-4 1-4 1-4 1-4 1.5-4 1.5-4 2-4 2-4 2-4 2-4 2.5-4 2.5-4 2.5-4 2-4 1.5-4 1-4 1-4 1-4 1-4 0.5-4 0-4 0-4 0-4 0-4 0-4-0.5-4-0.5-4-0.5-4-0.5-4-0.5ZM1025 497l4 0.5 4 1 4 1 4 1.5 4 1 4 1 4 1 4 1 4 1 4 1 4 0.5 4 1 4 0.5 4 1 4 1 4 0.5 4 1 4 1 4 0.5 4 1 4 1.5 4 1 4 1 4 1 4 1 4 1 4 0 4 0 4-1 4-2 4-2.5 4-3 4-3 4-3 4-3 4-3.5 4-3 0 6.5-4 3.5-4 3.5-4 3-4 3-4 3-4 2.5-4 3-4 2-4 1-4 0-4-0.5-4-0.5-4-1-4-1-4-1.5-4-1-4-1-4-1-4-1-4-1-4-0.5-4-1-4-0.5-4-1-4-1-4-0.5-4-1-4-1-4-0.5-4-1-4-1-4-1-4-1.5-4-1-4-1-4-1-4-1ZM1217 497l4 2.5 4 2.5 4 3 4 2.5 4 2.5 4 2 4 2.5 4 2 4 2.5 4 2 4 1.5 4 1.5 4 0.5 4 0.5 4 0 4 0 4 0 4 0 4 0 4 0 4 0 4 0 4 0 4 0.5 4 0.5 4 0.5 4 0.5 4 1 4 0.5 4 1 4 1.5 4 1.5 4 1.5 4 1.5 4 1.5 4 1.5 4 1 4 0.5 4 1 4 0.5 4 0.5 4 0.5 4 1 4 0.5 4 1 4 1 4 1 4 1 4 1 4 1.5 4 2 4 3 4 4.5 4 7 4 8 4 8.5 4 9 4 9.5 4 10.5 4 11 4 12 4 12 4 12.5 4 12.5 4 13 4 13 4 13 4 13 4 12.5 4 12.5 4 11.5 4 12 4 12.5 4 13 4 13.5 4 14 4 13.5 4 14 4 13.5 4 13.5 4 12.5 4 12 4 11.5 4 10.5 4 9 4 8 4 6 4 4.5 4 3.5 4 3 4 2 4 2 4 1.5 4 1.5 4 1 4 1 4 1 4 1 4 1 4 0.5 4 1 4 1 4 0.5 4 1 4 1 4 1 4 0.5 4 1 4 1 0 7-4-1-4-1-4-1-4-1-4-1-4-0.5-4-1-4-0.5-4-1-4-1-4-0.5-4-1-4-1-4-1-4-1.5-4-1-4-2-4-1.5-4-2.5-4-2.5-4-3.5-4-4.5-4-6.5-4-7-4-8.5-4-9.5-4-10.5-4-11.5-4-12.5-4-12.5-4-13.5-4-13.5-4-14-4-14-4-13.5-4-13.5-4-12.5-4-12.5-4-12-4-12-4-12.5-4-12.5-4-13-4-13-4-13-4-13-4-12.5-4-12.5-4-12-4-11.5-4-11-4-10-4-9.5-4-9-4-8.5-4-7-4-5-4-3-4-1.5-4-1.5-4-1.5-4-1-4-1-4-1-4-0.5-4-1-4-0.5-4-0.5-4-1-4-0.5-4-0.5-4-1-4-1-4-1-4-1.5-4-1.5-4-1.5-4-1.5-4-1.5-4-1-4-1-4-0.5-4-1-4-0.5-4-0.5-4 0-4-0.5-4 0-4 0-4 0-4 0-4 0-4 0-4 0-4 0-4 0-4-1-4-1-4-1.5-4-2-4-2.5-4-2.5-4-2-4-2.5-4-2-4-3-4-2.5-4-2.5-4-2.5ZM1729 981.5l4-3.5 4-3.5 4-3 4-2.5 4-1.5 4-0.5 4 0 4 0.5 4 0.5 4 1 4 1 4 1.5 4 2 4 2 4 2.5 4 3 0 7-4-3-4-2.5-4-2.5-4-1.5-4-1.5-4-1.5-4-0.5-4-0.5-4-0.5-4 0-4 0.5-4 1.5-4 2.5-4 3-4 3.5-4 3.5ZM121 933l4 0.5 4 0.5 4 0.5 4 0.5 4 0.5 4 0 4 0 4 0 4 0 4 0 4-0.5 4-1 4-1 4-1 4-1 4-1.5 4-2 4-2.5 4-2.5 4-2.5 4-2 4-2 4-2 4-2 4-1.5 4-1.5 4-1 4-1 4-1 4-0.5 4-0.5 4-1 4-0.5 4 0 4-0.5 4-0.5 4 0 4-0.5 4 0 4 0 4-0.5 4 0 4 0 4-0.5 4-1 4-1.5 4-3.5 4-3.5 4-4 4-3 4-3 4-2 4-2.5 4-1.5 4-2 4-1.5 4-1 4-1 4-0.5 4-0.5 4-0.5 4-0.5 4-0.5 4-0.5 4-0.5 4-0.5 4 0 4-0.5 4 0 4-0.5 4 0 4 0 4-0.5 4 0 4 0 4 0 4-0.5 4 0 4-0.5 4 0 4-0.5 4-1 4-1.5 4-3 4-4 4-5.5 4-5.5 4-6.5 4-8.5 4-11.5 4-12.5 4-13 4-13 4-13.5 4-13 4-12 4-9 4-8 4-7 4-6.5 4-5.5 4-4.5 4-2.5 4-1 4-0.5 4 0 4 0.5 4 0 4 0 4 0 4 0 4 0 4 0 4 0 4 0.5 4 0 4 0 4 0 4 0 4 0 4 0 4 0 4 0 4 0 4-1 4-2 4-3 4-4 4-5 4-5.5 4-5 4-3.5 4-1.5 4-1 4-0.5 4-0.5 4-0.5 4 0 4-0.5 4 0 4 0 4 0 4 0 4 0.5 4 0.5 4 1 4 1 4 1 4 1 4 0.5 4 1 4 0.5 4 0.5 4 0 4 0 4-1 4-1 4-1 4-1.5 4-1.5 4-2 4-1.5 4-2 4-2 4-2 4-1.5 4-1.5 4-1.5 4-1.5 4-1.5 4-1.5 4-1.5 4-2 4-2 4-2.5 4-3.5 4-4.5 4-4.5 4-5.5 4-6 4-5.5 4-6 4-5.5 4-5.5 4-5.5 4-6 4-6 4-5.5 4-5.5 4-5 4-4.5 4-3.5 4-3.5 4-2.5 4-1 4-0.5 4-0.5 4 0 4 0 4 0 4 0.5 4 2.5 4 3 4 3.5 4 3.5 4 3 4 1 4 0 4-1 4-2 4-2 4-2.5 4-2.5 4-2.5 4-3 4-2.5 4-3 4-2.5 4-2 4-0.5 4 0 4 0.5 4 0.5 4 1 4 0.5 4 1 4 1 4 1 4 1 4 1 4 1.5 4 1 4 1 4 1 4 0.5 4 1 4 1 4 0.5 4 1 4 1 4 0.5 4 1 4 0.5 4 1 4 1 4 1 4 1 4 1 4 1.5 4 1 4 1 4 0.5 4 0.5 4 0 4-1 4-2 4-3 4-2.5 4-3 4-3 4-3 4-3.5 4-3.5 4-3 4-2.5 4-1.5 4 0 4 0 4 0.5 4 1 4 1 4 1 4 1.5 4 2 4 2.5 4 2.5 4 2.5 4 3 4 2 4 2.5 4 2 4 2.5 4 2.5 4 2 4 1.5 4 1 4 1 4 0 4 0 4 0 4 0 4 0 4 0 4 0 4 0 4 0 4 0.5 4 0 4 0.5 4 0.5 4 1 4 0.5 4 1 4 1 4 1.5 4 1.5 4 1.5 4 1.5 4 1.5 4 1 4 1 4 1 4 0.5 4 0.5 4 1 4 0.5 4 0.5 4 1 4 0.5 4 1 4 1 4 1 4 1.5 4 1.5 4 1.5 4 3 4 5 4 7 4 8 4 8.5 4 9 4 9.5 4 10.5 4 11 4 11.5 4 12 4 12.5 4 13 4 13 4 13 4 13 4 12.5 4 13 4 12 4 12 4 12 4 12.5 4 13 4 13.5 4 13.5 4 14 4 14 4 13.5 4 13 4 13 4 12 4 11 4 10.5 4 9.5 3 6 0 7-3-5.5-4-8.5-4-9.5-4-11-4-11.5-4-12-4-13-4-13.5-4-13.5-4-13.5-4-14-4-13.5-4-13.5-4-13-4-12.5-4-11.5-4-12-4-12.5-4-12.5-4-13-4-13-4-13-4-13-4-12.5-4-12.5-4-12-4-11.5-4-11-4-10.5-4-9-4-9-4-8.5-4-7-4-5-4-3-4-2-4-1.5-4-1-4-1-4-1-4-1-4-1-4-0.5-4-0.5-4-1-4-0.5-4-0.5-4-1-4-0.5-4-1-4-1.5-4-1-4-1.5-4-2-4-1.5-4-1-4-1.5-4-0.5-4-1-4-0.5-4-0.5-4-0.5-4-0.5-4 0-4 0-4 0-4 0-4 0-4 0-4 0-4 0-4 0-4-0.5-4-0.5-4-1-4-2-4-2-4-2-4-2.5-4-2.5-4-2-4-2.5-4-2.5-4-3-4-2.5-4-2.5-4-2-4-1-4-1.5-4-0.5-4-1-4-0.5-4-0.5-4 0.5-4 1.5-4 2.5-4 3-4 3.5-4 3-4 3.5-4 2.5-4 3-4 3-4 2.5-4 2-4 1-4 0.5-4-0.5-4-1-4-1-4-1-4-1-4-1-4-1-4-1-4-1-4-1-4-1-4-0.5-4-1-4-0.5-4-1-4-1-4-0.5-4-1-4-1-4-1-4-1-4-1-4-1-4-1-4-1.5-4-0.5-4-1-4-1-4-1-4-0.5-4-1-4-0.5-4 0-4 1-4 1.5-4 2.5-4 3-4 3-4 2.5-4 2.5-4 2.5-4 2.5-4 2.5-4 1.5-4 1.5-4 0-4-1.5-4-2.5-4-3.5-4-3.5-4-3.5-4-2-4-1-4 0-4 0-4 0.5-4 0-4 0.5-4 1.5-4 2.5-4 3-4 4-4 4.5-4 5-4 5.5-4 5.5-4 6-4 6-4 5.5-4 5.5-4 5.5-4 5.5-4 6-4 5.5-4 5.5-4 5-4 4-4 3.5-4 2.5-4 2.5-4 1.5-4 2-4 1.5-4 1.5-4 1.5-4 1.5-4 1.5-4 1.5-4 2-4 1.5-4 2-4 2-4 1.5-4 2-4 1-4 1.5-4 1-4 0.5-4 0.5-4 0-4-0.5-4-0.5-4-1-4-1-4-1-4-1-4-1-4-0.5-4-1-4-0.5-4 0-4 0-4 0-4 0.5-4 0-4 0.5-4 0.5-4 0-4 1-4 0.5-4 2-4 3.5-4 5-4 5-4 5.5-4 4-4 3-4 2-4 1-4 0-4 0-4 0-4 0-4 0-4 0-4-0.5-4 0-4 0-4 0-4 0-4 0-4 0-4-0.5-4 0-4 0-4 0-4 0-4 0-4 0-4 1-4 3-4 4-4 6-4 6.5-4 7-4 9-4 11-4 13-4 13.5-4 13-4 13-4 13-4 11.5-4 9.5-4 7-4 6.5-4 6-4 5-4 4.5-4 3-4 1.5-4 1-4 0-4 0.5-4 0-4 0.5-4 0-4 0-4 0.5-4 0-4 0-4 0-4 0.5-4 0-4 0.5-4 0-4 0.5-4 0.5-4 0-4 0.5-4 0.5-4 0.5-4 0.5-4 0.5-4 1-4 1-4 1-4 1.5-4 1.5-4 2-4 2-4 2.5-4 2.5-4 3.5-4 4-4 3.5-4 3-4 2-4 0.5-4 0.5-4 0.5-4 0-4 0-4 0.5-4 0-4 0-4 0.5-4 0-4 0.5-4 0.5-4 0.5-4 0.5-4 0.5-4 1-4 0.5-4 1-4 1-4 1.5-4 2-4 1.5-4 2-4 2-4 2.5-4 2.5-4 2.5-4 2.5-4 1.5-4 1.5-4 1.5-4 1-4 1-4 0.5-4 0.5-4 0.5-4 0-4 0-4 0-4-0.5-4 0-4-0.5-4-0.5-4-0.5-4-0.5ZM121 972l4 0.5 4 0.5 4 0.5 4 0.5 4 0 4 0.5 4 0 4 0 4 0 4-0.5 4-0.5 4-0.5 4-1 4-1 4-1.5 4-1.5 4-1.5 4-2.5 4-2.5 4-2.5 4-2.5 4-2 4-2 4-1.5 4-2 4-1.5 4-1 4-1 4-0.5 4-1 4-0.5 4-0.5 4-0.5 4-0.5 4-0.5 4 0 4-0.5 4 0 4 0 4-0.5 4 0 4 0 4-0.5 4-0.5 4-0.5 4-2 4-3 4-3.5 4-4 4-3.5 4-2.5 4-2.5 4-2 4-2 4-1.5 4-1.5 4-1 4-1 4-1 4-0.5 4-0.5 4-0.5 4-0.5 4-0.5 4 0 4-0.5 4-0.5 4 0 4-0.5 4 0 4-0.5 4 0 4 0 4 0 4-0.5 4 0 4 0 4-0.5 4 0 4-0.5 4 0 4-1 4-1.5 4-3 4-4.5 4-5 4-6 4-6.5 4-8.5 4-11 4-13 4-13 4-13 4-13 4-13.5 4-11.5 4-9.5 4-7.5 4-7 4-6.5 4-6 4-4 4-3 4-1 4 0 4 0 4 0 4 0 4 0 4 0 4 0.5 4 0 4 0 4 0 4 0 4 0 4 0 4 0.5 4 0 4 0 4 0 4 0 4 0 4 0 4-1 4-2 4-3 4-4 4-5.5 4-5 4-5 4-3.5 4-2 4-0.5 4-1 4 0 4-0.5 4-0.5 4 0 4-0.5 4 0 4 0 4 0 4 0.5 4 1 4 0.5 4 1 4 1 4 1 4 1 4 1 4 0.5 4 0.5 4 0 4-0.5 4-0.5 4-1 4-1.5 4-1 4-2 4-1.5 4-2 4-2 4-1.5 4-2 4-1.5 4-1.5 4-1.5 4-1.5 4-1.5 4-1.5 4-2 4-1.5 4-2.5 4-2.5 4-3.5 4-4 4-5 4-5.5 4-5.5 4-6 4-5.5 4-5.5 4-5.5 4-5.5 4-6 4-6 4-5.5 4-5.5 4-5 4-4.5 4-4 4-3 4-2.5 4-1.5 4-0.5 4 0 4-0.5 4 0 4 0 4 1 4 2 4 3.5 4 3.5 4 3.5 4 2.5 4 1.5 4 0 4-1.5 4-1.5 4-2.5 4-2.5 4-2.5 4-2.5 4-2.5 4-3 4-3 4-2.5 4-1.5 4-1 4 0 4 0.5 4 1 4 0.5 4 1 4 1 4 1 4 0.5 4 1.5 4 1 4 1 4 1 4 1 4 1 4 1 4 1 4 0.5 4 1 4 1 4 0.5 4 1 4 0.5 4 1 4 1 4 1 4 1 4 1 4 1 4 1 4 1 4 1 4 1 4 0.5 4-0.5 4-1 4-2 4-2.5 4-3 4-3 4-2.5 4-3.5 4-3 4-3.5 4-3 4-2.5 4-1.5 4-0.5 4 0.5 4 0.5 4 1 4 0.5 4 1.5 4 1 4 2 4 2.5 4 2.5 4 3 4 2.5 4 2.5 4 2 4 2.5 4 2.5 4 2 4 2 4 2 4 1 4 0.5 4 0.5 4 0 4 0 4 0 4 0 4 0 4 0 4 0 4 0 4 0 4 0.5 4 0.5 4 0.5 4 0.5 4 1 4 0.5 4 1.5 4 1 4 1.5 4 2 4 1.5 4 1 4 1.5 4 1 4 0.5 4 1 4 0.5 4 0.5 4 1 4 0.5 4 0.5 4 1 4 1 4 1 4 1 4 1 4 1.5 4 2 4 3 4 5 4 6.5 4 8 4 8.5 4 9 4 10 4 10 4 11 4 12 4 12 4 12.5 4 12.5 4 13 4 13 4 13 4 13 4 12.5 4 12.5 4 12 4 12 4 12.5 4 13 4 13.5 4 13.5 4 14 4 13.5 4 13.5 4 13.5 4 12.5 3 9.5 0 9.5-3-8.5-4-12.5-4-12.5-4-13.5-4-13.5-4-14-4-13.5-4-14-4-13-4-13-4-12.5-4-12-4-12-4-12.5-4-12.5-4-13-4-13-4-13-4-12.5-4-13-4-12.5-4-12-4-11.5-4-11-4-10-4-9.5-4-8.5-4-8.5-4-7.5-4-5-4-2.5-4-2-4-1.5-4-1.5-4-1-4-1-4-0.5-4-1-4-1-4-0.5-4-0.5-4-0.5-4-1-4-0.5-4-1-4-1-4-1-4-1.5-4-1.5-4-1.5-4-1.5-4-1.5-4-1-4-1-4-0.5-4-0.5-4-1-4 0-4-0.5-4 0-4 0-4 0-4 0-4 0-4 0-4 0-4 0-4 0-4-0.5-4-0.5-4-1.5-4-1.5-4-2-4-2.5-4-2-4-2.5-4-2-4-2.5-4-2.5-4-3-4-2.5-4-2.5-4-2-4-1.5-4-1-4-1-4-0.5-4-1-4 0-4 0.5-4 1-4 2.5-4 3-4 3.5-4 3.5-4 3-4 3-4 3-4 3-4 2.5-4 2-4 1-4 0-4-0.5-4-0.5-4-1-4-1-4-1-4-1.5-4-1-4-1-4-1-4-0.5-4-1-4-1-4-0.5-4-1-4-0.5-4-1-4-1-4-0.5-4-1-4-1-4-1-4-1-4-1.5-4-1-4-1-4-1-4-1-4-0.5-4-1-4-1-4-0.5-4-0.5-4 0-4 1-4 1.5-4 2.5-4 3-4 3-4 2.5-4 2.5-4 2.5-4 2.5-4 2-4 2-4 1-4 0.5-4-1.5-4-3-4-3.5-4-3.5-4-3-4-2-4-1-4 0-4 0-4 0-4 0.5-4 0.5-4 1-4 2.5-4 3.5-4 4-4 4-4 5-4 5.5-4 6-4 5.5-4 6-4 5.5-4 5.5-4 5.5-4 6-4 6-4 5.5-4 5.5-4 5-4 4-4 3.5-4 2.5-4 2-4 2-4 1.5-4 1.5-4 1.5-4 1.5-4 1.5-4 1.5-4 2-4 1.5-4 2-4 2-4 1.5-4 2-4 1.5-4 1.5-4 1.5-4 0.5-4 1-4 0-4 0-4 0-4-1-4-0.5-4-1-4-1-4-1-4-1-4-1-4-0.5-4-0.5-4 0-4 0-4 0-4 0-4 0.5-4 0-4 0.5-4 0.5-4 0.5-4 1-4 1.5-4 3.5-4 5-4 5.5-4 5-4 4-4 3-4 2-4 1-4 0.5-4 0-4-0.5-4 0-4 0-4 0-4 0-4 0-4 0-4 0-4-0.5-4 0-4 0-4 0-4 0-4 0-4 0-4 0-4 0-4 0-4 1-4 2.5-4 4.5-4 5.5-4 6.5-4 7.5-4 8.5-4 11-4 13-4 13.5-4 13-4 13-4 13-4 12-4 9-4 7.5-4 6.5-4 6-4 5-4 4-4 3-4 2-4 0.5-4 0.5-4 0.5-4 0-4 0-4 0.5-4 0-4 0-4 0.5-4 0-4 0-4 0-4 0.5-4 0-4 0.5-4 0.5-4 0-4 0.5-4 0.5-4 0.5-4 0.5-4 0.5-4 0.5-4 1-4 0.5-4 1-4 1.5-4 2-4 2-4 2-4 2-4 3-4 3-4 4-4 4-4 3-4 1.5-4 1-4 0.5-4 0-4 0.5-4 0-4 0-4 0-4 0.5-4 0-4 0.5-4 0.5-4 0.5-4 0.5-4 0.5-4 0.5-4 0.5-4 1-4 1-4 1-4 1.5-4 1.5-4 2-4 2-4 2-4 2-4 2.5-4 2.5-4 2.5-4 2-4 1.5-4 1-4 1-4 1-4 1-4 0.5-4 0-4 0.5-4-0.5-4 0-4 0-4-0.5-4 0-4-0.5-4-1-4-0.5ZM251 981.5l4-0.5 4-0.5 4 0 4-0.5 4 0 4-0.5 4 0 4 0 4-0.5 4 0 4-0.5 4-0.5 4-1 4-2.5 4-3.5 4-4 4-3.5 4-3 4-2.5 4-2 4-2 4-2 4-1.5 4-1.5 4-1 4-0.5 4-1 4-0.5 4-0.5 4-0.5 4-0.5 4 0 4-0.5 4-0.5 4 0 4-0.5 4 0 4-0.5 4 0 4 0 4-0.5 4 0 4 0 4 0 4-0.5 4 0 4-0.5 4 0 4-0.5 4-1.5 4-2.5 4-3.5 4-4.5 4-5.5 4-6.5 4-7 4-10 4-12 4-13 4-13 4-13 4-13.5 4-13 4-10 4-8.5 4-7.5 4-6.5 4-6.5 4-5 4-3.5 4-1.5 4-0.5 4 0 4 0 4 0 4 0 4 0 4 0 4 0 4 0 4 0.5 4 0 4 0 4 0 4 0 4 0 4 0 4 0 4 0 4 0.5 4-0.5 4 0 4-1.5 4-2.5 4-3.5 4-5 4-5 4-5.5 4-4.5 4-2.5 4-1 4-0.5 4-0.5 4-0.5 4-0.5 4 0 4-0.5 4 0 4 0 4 0 4 0 4 1 4 0.5 4 1 4 1 4 1 4 1 4 1 4 0.5 4 0.5 4 0 4 0 4-0.5 4-0.5 4-1.5 4-1 4-1.5 4-2 4-1.5 4-2 4-2 4-2 4-1.5 4-1.5 4-1.5 4-1.5 4-1.5 4-1.5 4-1.5 4-2 4-2 4-2 4-3 4-4 4-4.5 4-5 4-6 4-5.5 4-6 4-5.5 4-5.5 4-5.5 4-6 4-5.5 4-6 4-5.5 4-5.5 4-4.5 4-4 4-3.5 4-3 4-2 4-1 4 0 4-0.5 4 0 4 0 4 0.5 4 1 4 3 4 3.5 4 3.5 4 3 4 2.5 4 0.5 4-1 4-1.5 4-2 4-2.5 4-2.5 4-2 4-3 4-2.5 4-3 4-3 4-2 4-1 4-0.5 4 0 4 0.5 4 1 4 1 4 0.5 4 1 4 1 4 1 4 1 4 1.5 4 1 4 1 4 1 4 1 4 1 4 0.5 4 1 4 0.5 4 1 4 1 4 0.5 4 1 4 1 4 0.5 4 1 4 1 4 1 4 1.5 4 1 4 1 4 1 4 0.5 4 0 4-0.5 4-1.5 4-2.5 4-2.5 4-3 4-3 4-3 4-3 4-3.5 4-3.5 4-2.5 4-2 4-1 4 0 4 0.5 4 0.5 4 1 4 1 4 1 4 2 4 2 4 2.5 4 3 4 2.5 4 2.5 4 2.5 4 2 4 2.5 4 2.5 4 2 4 2 4 1.5 4 1 4 0 4 0.5 4 0 4 0 4 0 4 0 4 0 4 0 4 0 4 0 4 0 4 0.5 4 0.5 4 0.5 4 1 4 0.5 4 1 4 1.5 4 1 4 2 4 1.5 4 1.5 4 1 4 1 4 1 4 1 4 0.5 4 0.5 4 0.5 4 1 4 0.5 4 1 4 1 4 0.5 4 1 4 1.5 4 1 4 2 4 2 4 4 4 6 4 7.5 4 8 4 9 4 9 4 10 4 11 4 11.5 4 11.5 4 12.5 4 12.5 4 13 4 13 4 13 4 13 4 12.5 4 12.5 4 12 4 12 4 12.5 4 12.5 4 13.5 4 13.5 4 13.5 4 14 4 13.5 0 11.5-4-13.5-4-13.5-4-14-4-13.5-4-14-4-13-4-12.5-4-12-4-12-4-12-4-13-4-12.5-4-13-4-13-4-13-4-13-4-12.5-4-12-4-12-4-11-4-10.5-4-10-4-9-4-8.5-4-8.5-4-6-4-3.5-4-2.5-4-1.5-4-1.5-4-1-4-1-4-1-4-1-4-0.5-4-1-4-0.5-4-0.5-4-0.5-4-1-4-0.5-4-1-4-1-4-1.5-4-1.5-4-1.5-4-1.5-4-1.5-4-1-4-1-4-1-4-0.5-4-0.5-4-0.5-4-0.5-4-0.5-4 0-4 0-4 0-4 0-4 0-4 0-4 0-4 0-4 0-4-0.5-4-1-4-1.5-4-2-4-2-4-2-4-2.5-4-2.5-4-2-4-2.5-4-3-4-2.5-4-2.5-4-2.5-4-1.5-4-1-4-1-4-1-4-0.5-4-0.5-4 0-4 0.5-4 2-4 3-4 3-4 3.5-4 3.5-4 3-4 2.5-4 3-4 3-4 2.5-4 1.5-4 0.5-4-0.5-4-0.5-4-0.5-4-1-4-1.5-4-1-4-1-4-1-4-1-4-1-4-1-4-0.5-4-1-4-0.5-4-1-4-1-4-0.5-4-1-4-1-4-0.5-4-1-4-1-4-1.5-4-1-4-1-4-1-4-1-4-1-4-1-4-0.5-4-1-4-0.5-4 0-4 0-4 1.5-4 2-4 2.5-4 3-4 3-4 2.5-4 2.5-4 2.5-4 2.5-4 2-4 1.5-4 0.5-4-0.5-4-2-4-3-4-4-4-3.5-4-2.5-4-1.5-4-0.5-4 0-4 0.5-4 0-4 0.5-4 0.5-4 2-4 3-4 3.5-4 4-4 5-4 5-4 5.5-4 6-4 6-4 5.5-4 5.5-4 5.5-4 6-4 5.5-4 6-4 5.5-4 5.5-4 4.5-4 3.5-4 3-4 2.5-4 2-4 1.5-4 2-4 1.5-4 1-4 1.5-4 1.5-4 2-4 1.5-4 2-4 1.5-4 2-4 2-4 1.5-4 1.5-4 1.5-4 1-4 1-4 0.5-4 0-4 0-4-0.5-4-1-4-1-4-1-4-1-4-1-4-0.5-4-1-4-0.5-4-0.5-4 0-4 0-4 0.5-4 0-4 0.5-4 0-4 0.5-4 0.5-4 0.5-4 1.5-4 2.5-4 4.5-4 5-4 5.5-4 4.5-4 3.5-4 2.5-4 1.5-4 0.5-4 0-4 0-4 0-4 0-4 0-4 0-4 0-4-0.5-4 0-4 0-4 0-4 0-4 0-4 0-4-0.5-4 0-4 0-4 0-4 0-4 0.5-4 2-4 3.5-4 5-4 6-4 7-4 8-4 9.5-4 12.5-4 13-4 13.5-4 13-4 13-4 12.5-4 10.5-4 8-4 7-4 6-4 5.5-4 5-4 3.5-4 2.5-4 1-4 0.5-4 0.5-4 0-4 0.5-4 0-4 0-4 0.5-4 0-4 0-4 0.5-4 0-4 0-4 0.5-4 0-4 0.5-4 0-4 0.5-4 0.5-4 0.5-4 0.5-4 0.5-4 0.5-4 0.5-4 1-4 1-4 1-4 2-4 1.5-4 2-4 2.5-4 2.5-4 3-4 3.5-4 4-4 3.5-4 2.5-4 1-4 0.5-4 0.5-4 0-4 0-4 0.5-4 0-4 0-4 0.5-4 0-4 0.5-4 0.5-4 0.5ZM400 981.5l4 0 4-0.5 4 0 4 0 4 0 4-0.5 4 0 4 0 4-0.5 4 0 4-0.5 4-0.5 4-1.5 4-3 4-3.5 4-5 4-6 4-6 4-8 4-10.5 4-12.5 4-13 4-13 4-13 4-13.5 4-12.5 4-9.5 4-8 4-7.5 4-6.5 4-6 4-4.5 4-3 4-1.5 4-0.5 4 0 4 0 4 0 4 0.5 4 0 4 0 4 0 4 0 4 0 4 0 4 0 4 0.5 4 0 4 0 4 0 4 0 4 0 4 0 4 0 4-0.5 4-2 4-2.5 4-4 4-5 4-5.5 4-5 4-4 4-2 4-1 4-0.5 4-0.5 4-0.5 4 0 4-0.5 4 0 4-0.5 4 0 4 0.5 4 0 4 1 4 0.5 4 1 4 1 4 1 4 1 4 1 4 0.5 4 0.5 4 0 4 0 4-1 4-0.5 4-1.5 4-1 4-2 4-1.5 4-2 4-1.5 4-2 4-2 4-1.5 4-2 4-1 4-1.5 4-1.5 4-1.5 4-1.5 4-2 4-2 4-2.5 4-3 4-4 4-5 4-5.5 4-5.5 4-6 4-5.5 4-5.5 4-5.5 4-5.5 4-6 4-6 4-5.5 4-5.5 4-5.5 4-4.5 4-4 4-3 4-3 4-1.5 4-0.5 4-0.5 4 0 4-0.5 4 0 4 1 4 1.5 4 3 4 3.5 4 3.5 4 3 4 2 4 0 4-1 4-1.5 4-2 4-2.5 4-2.5 4-2.5 4-2.5 4-3 4-3 4-2.5 4-2 4-1 4 0 4 0 4 0.5 4 1 4 1 4 0.5 4 1 4 1 4 1 4 1 4 1.5 4 1 4 1 4 1 4 1 4 1 4 0.5 4 1 4 0.5 4 1 4 1 4 0.5 4 1 4 1 4 0.5 4 1 4 1 4 1.5 4 1 4 1 4 1 4 1 4 0.5 4 0 4-1 4-1.5 4-2.5 4-3 4-3 4-3 4-3 4-3 4-3.5 4-3.5 4-2.5 4-1.5 4-0.5 4 0 4 0.5 4 0.5 4 1 4 1 4 1.5 4 1.5 4 2.5 4 2.5 4 3 4 2.5 4 2.5 4 2 4 2.5 4 2.5 4 2 4 2 4 2 4 1.5 4 0.5 4 0.5 4 0 4 0 4 0 4 0 4 0 4 0 4 0 4 0 4 0 4 0.5 4 0.5 4 0.5 4 0.5 4 1 4 0.5 4 1 4 1.5 4 1.5 4 1.5 4 1.5 4 1.5 4 1 4 1.5 4 0.5 4 1 4 0.5 4 0.5 4 0.5 4 1 4 0.5 4 1 4 1 4 0.5 4 1 4 1.5 4 1.5 4 1.5 4 2.5 4 4.5 4 6.5 4 7.5 4 8.5 4 9 4 9.5 4 10 4 11 4 11.5 4 12 4 12.5 4 12.5 4 13 4 13 4 13 4 13 4 12.5 4 12.5 4 12 4 12 4 12 4 13 4 13.5 4 13.5 0 12-4-14-4-13.5-4-13.5-4-12.5-4-12.5-4-12-4-12-4-12.5-4-12.5-4-13-4-13-4-13-4-13-4-12.5-4-12.5-4-11.5-4-11.5-4-11-4-10-4-9-4-9-4-8-4-6.5-4-4.5-4-2.5-4-2-4-1.5-4-1-4-1-4-1-4-1-4-0.5-4-1-4-0.5-4-0.5-4-0.5-4-1-4-0.5-4-1-4-1-4-1-4-1.5-4-1.5-4-2-4-1.5-4-1-4-1-4-1-4-0.5-4-1-4-0.5-4 0-4-0.5-4 0-4 0-4 0-4 0-4 0-4 0-4 0-4 0-4 0-4-0.5-4-1-4-1-4-2-4-2-4-2.5-4-2-4-2.5-4-2-4-2.5-4-3-4-2.5-4-2.5-4-2.5-4-2-4-1-4-1-4-1-4-0.5-4-1-4 0-4 0.5-4 2-4 2.5-4 3-4 3.5-4 3.5-4 3-4 2.5-4 3-4 3-4 2.5-4 2-4 0.5-4 0-4-0.5-4-0.5-4-1-4-1-4-1.5-4-1-4-1-4-1-4-1-4-1-4-0.5-4-1-4-0.5-4-1-4-1-4-0.5-4-1-4-1-4-0.5-4-1-4-1-4-1.5-4-1-4-1-4-1-4-1-4-1-4-1-4-0.5-4-1-4-0.5-4-0.5-4 0-4 1-4 2-4 3-4 2.5-4 3-4 2.5-4 2.5-4 2.5-4 2.5-4 2.5-4 1.5-4 1-4-0.5-4-1.5-4-3-4-3.5-4-3.5-4-3-4-2-4-0.5-4 0-4 0-4 0.5-4 0-4 0.5-4 2-4 2.5-4 3.5-4 4-4 4.5-4 5-4 5.5-4 6-4 6-4 5.5-4 5.5-4 5.5-4 5.5-4 6-4 6-4 5.5-4 5.5-4 4.5-4 4-4 3-4 2.5-4 2-4 2-4 1.5-4 1.5-4 1.5-4 1.5-4 1.5-4 1.5-4 2-4 1.5-4 2-4 2-4 1.5-4 2-4 1.5-4 1.5-4 1-4 1-4 0.5-4 0.5-4-0.5-4-0.5-4-0.5-4-1-4-0.5-4-1-4-1-4-1-4-1-4-0.5-4-0.5-4 0-4 0-4 0-4 0.5-4 0-4 0.5-4 0.5-4 0.5-4 0.5-4 1-4 2-4 4-4 5-4 5.5-4 5-4 3.5-4 3-4 1.5-4 1-4 0-4 0-4 0-4 0-4-0.5-4 0-4 0-4 0-4 0-4 0-4 0-4-0.5-4 0-4 0-4 0-4 0-4 0-4 0-4 0-4 0-4 1.5-4 3-4 5-4 6-4 6.5-4 7.5-4 9-4 12-4 13-4 13.5-4 13-4 13-4 13-4 11-4 8.5-4 7-4 6.5-4 5.5-4 5-4 4-4 2.5-4 1.5-4 1-4 0-4 0.5-4 0-4 0.5-4 0-4 0-4 0.5-4 0-4 0-4 0-4 0.5ZM478 980l4-11.5 4-13.5 4-13 4-13 4-13 4-13 4-11.5 4-8.5 4-7.5 4-7 4-6.5 4-5 4-4 4-2.5 4-0.5 4 0 4 0 4 0 4 0 4 0 4 0 4 0 4 0.5 4 0 4 0 4 0 4 0 4 0 4 0 4 0 4 0.5 4 0 4 0 4 0 4-0.5 4-1 4-2.5 4-3 4-4.5 4-5 4-5.5 4-5 4-3 4-1.5 4-0.5 4-0.5 4-0.5 4-0.5 4 0 4-0.5 4 0 4 0 4 0 4 0 4 0.5 4 1 4 1 4 1 4 1 4 1 4 0.5 4 1 4 0.5 4 0.5 4-0.5 4 0 4-1 4-1 4-1 4-1.5 4-2 4-1.5 4-2 4-2 4-1.5 4-2 4-1.5 4-1.5 4-1.5 4-1.5 4-1.5 4-1.5 4-2 4-2 4-2 4-3 4-3.5 4-4 4-5.5 4-5.5 4-5.5 4-6 4-5.5 4-5.5 4-5.5 4-6 4-5.5 4-6 4-5.5 4-5.5 4-5 4-4 4-4 4-3 4-2 4-1 4-0.5 4-0.5 4 0 4 0 4 0 4 1.5 4 2 4 3.5 4 3.5 4 3.5 4 2.5 4 1 4-0.5 4-1.5 4-2 4-2 4-2.5 4-2.5 4-2.5 4-3 4-3 4-2.5 4-2.5 4-1.5 4-0.5 4 0 4 0.5 4 1 4 0.5 4 1 4 1 4 1 4 1 4 1 4 1 4 1.5 4 1 4 1 4 1 4 0.5 4 1 4 1 4 0.5 4 1 4 0.5 4 1 4 1 4 0.5 4 1 4 1 4 1 4 1 4 1 4 1.5 4 1 4 1 4 0.5 4 0 4 0 4-1.5 4-2 4-3 4-3 4-2.5 4-3 4-3 4-3.5 4-3.5 4-3 4-2 4-1 4-0.5 4 0.5 4 0.5 4 1 4 1 4 1 4 1.5 4 2 4 2.5 4 3 4 2.5 4 2.5 4 2.5 4 2 4 2.5 4 2.5 4 2 4 2 4 1.5 4 1 4 0.5 4 0.5 4 0 4 0 4 0 4 0 4 0 4 0 4 0 4 0 4 0 4 0.5 4 0.5 4 0.5 4 0.5 4 1 4 1 4 1 4 1.5 4 1.5 4 1.5 4 1.5 4 1.5 4 1 4 1 4 1 4 0.5 4 0.5 4 0.5 4 1 4 0.5 4 1 4 0.5 4 1 4 1 4 1 4 1.5 4 1.5 4 2 4 3.5 4 5.5 4 7 4 8 4 9 4 9 4 9.5 4 11 4 11 4 12 4 12 4 12.5 4 13 4 13 4 13 4 13 4 12.5 4 12.5 4 12.5 4 11.5 4 12.5 2 6 0 11-2-6.5-4-12.5-4-12-4-12-4-12-4-13-4-12.5-4-13-4-13-4-13-4-13-4-12.5-4-12-4-11.5-4-11-4-10.5-4-9.5-4-9-4-8.5-4-8-4-5.5-4-3-4-2-4-2-4-1-4-1-4-1-4-1-4-1-4-0.5-4-1-4-0.5-4-0.5-4-0.5-4-1-4-0.5-4-1-4-1.5-4-1-4-1.5-4-1.5-4-2-4-1-4-1.5-4-0.5-4-1-4-0.5-4-0.5-4-0.5-4-0.5-4 0-4-0.5-4 0-4 0-4 0-4 0-4 0-4 0-4 0-4 0-4-0.5-4-1-4-1.5-4-2-4-2.5-4-2-4-2.5-4-2.5-4-2-4-2.5-4-3-4-2.5-4-2.5-4-2-4-1.5-4-1.5-4-1-4-0.5-4-0.5-4-0.5-4 0-4 1-4 2.5-4 3-4 3-4 3.5-4 3-4 3-4 3-4 3-4 3-4 2-4 1-4 0.5-4-0.5-4-0.5-4-1-4-1-4-1-4-1-4-1.5-4-1-4-0.5-4-1-4-1-4-0.5-4-1-4-1-4-0.5-4-1-4-0.5-4-1-4-1-4-1-4-1-4-1-4-1-4-1-4-1.5-4-1-4-0.5-4-1-4-1-4-1-4-0.5-4-0.5-4 0-4 0.5-4 1.5-4 2-4 3-4 3-4 3-4 2.5-4 2-4 2.5-4 2.5-4 2-4 1.5-4 0.5-4-1-4-2.5-4-3.5-4-3.5-4-3.5-4-2.5-4-1-4 0-4 0-4 0-4 0-4 0.5-4 1-4 2.5-4 3-4 3.5-4 4.5-4 4.5-4 5.5-4 6-4 5.5-4 6-4 5.5-4 5.5-4 5.5-4 6-4 5.5-4 6-4 5.5-4 5-4 4.5-4 3.5-4 3-4 2-4 2-4 1.5-4 2-4 1-4 1.5-4 1.5-4 1.5-4 2-4 1.5-4 2-4 2-4 1.5-4 2-4 1.5-4 1.5-4 1.5-4 1-4 0.5-4 0.5-4 0-4 0-4-1-4-0.5-4-1-4-1-4-1-4-1-4-1-4-0.5-4-0.5-4 0-4-0.5-4 0.5-4 0-4 0-4 0.5-4 0.5-4 0.5-4 0.5-4 0.5-4 1.5-4 3-4 4.5-4 5.5-4 5.5-4 4-4 3.5-4 2-4 1.5-4 0-4 0-4 0-4 0-4 0-4 0-4 0-4 0-4 0-4-0.5-4 0-4 0-4 0-4 0-4 0-4 0-4 0-4-0.5-4 0-4 0.5-4 0.5-4 2-4 4-4 5.5-4 6.5-4 7-4 8-4 10.5-4 12.5-4 13.5-4 13.5-4 12.5-4 13.5-4 12-4 10ZM491 978l4-13.5 4-13 4-13 4-10.5 4-8 4-7.5 4-7 4-6 4-5 4-3.5 4-2 4 0 4-0.5 4 0.5 4 0 4 0 4 0 4 0 4 0 4 0 4 0 4 0 4 0.5 4 0 4 0 4 0 4 0 4 0 4 0 4 0 4 0 4-0.5 4-1.5 4-2.5 4-3.5 4-4.5 4-5.5 4-5 4-4.5 4-2.5 4-1 4-1 4-0.5 4 0 4-0.5 4-0.5 4 0 4 0 4-0.5 4 0.5 4 0 4 0.5 4 1 4 1 4 1 4 1 4 1 4 0.5 4 1 4 0.5 4 0 4 0 4-0.5 4-1 4-1 4-1.5 4-1.5 4-1.5 4-2 4-1.5 4-2 4-2 4-1.5 4-2 4-1.5 4-1 4-1.5 4-1.5 4-1.5 4-2 4-2 4-2.5 4-3 4-3.5 4-4.5 4-5.5 4-5.5 4-5.5 4-6 4-5.5 4-5.5 4-5.5 4-6 4-6 4-5.5 4-6 4-5 4-4.5 4-4.5 4-3.5 4-3 4-1.5 4-1 4-0.5 4 0 4 0 4 0 4 0 4 1.5 4 3 4 3.5 4 3.5 4 3 4 2 4 1 4-1 4-1.5 4-2 4-2.5 4-2.5 4-2.5 4-2.5 4-2.5 4-3 4-3 4-2 4-1.5 4 0 4 0 4 0.5 4 1 4 0.5 4 1 4 1 4 1 4 1 4 1 4 1 4 1.5 4 1 4 1 4 1 4 0.5 4 1 4 1 4 0.5 4 1 4 0.5 4 1 4 1 4 0.5 4 1 4 1 4 1 4 1 4 1.5 4 1 4 1 4 0.5 4 1 4 0 4-0.5 4-1.5 4-2.5 4-2.5 4-3 4-3 4-3 4-3.5 4-3 4-3.5 4-3 4-1.5 4-1 4 0 4 0.5 4 0.5 4 1 4 1 4 1 4 2 4 2 4 2.5 4 3 4 2.5 4 2.5 4 2.5 4 2 4 2.5 4 2 4 2.5 4 1.5 4 1.5 4 1 4 0.5 4 0 4 0 4 0 4 0 4 0 4 0 4 0 4 0 4 0.5 4 0 4 0.5 4 0.5 4 0.5 4 0.5 4 1 4 1 4 1 4 1.5 4 1.5 4 1.5 4 1.5 4 1.5 4 1 4 1 4 1 4 0.5 4 0.5 4 0.5 4 1 4 0.5 4 1 4 0.5 4 1 4 1 4 1 4 1.5 4 1.5 4 2.5 4 4 4 6 4 7 4 8.5 4 9 4 9 4 10 4 11 4 11 4 12 4 12.5 4 12.5 4 13 4 13 4 13 4 13 4 12.5 4 12.5 1 3 0 10.5-1-3-4-12.5-4-12.5-4-12.5-4-13-4-13-4-13-4-13-4-12.5-4-12-4-12-4-11-4-11-4-9.5-4-9-4-9-4-8-4-6-4-3.5-4-2.5-4-1.5-4-1.5-4-1-4-1-4-1-4-1-4-0.5-4-1-4-0.5-4-0.5-4-1-4-0.5-4-0.5-4-1-4-1-4-1.5-4-1.5-4-1.5-4-1.5-4-1.5-4-1.5-4-0.5-4-1-4-0.5-4-1-4-0.5-4 0-4-0.5-4 0-4 0-4 0-4 0-4 0-4 0-4 0-4 0-4 0-4-0.5-4-1-4-1.5-4-2-4-2-4-2.5-4-2-4-2.5-4-2-4-2.5-4-3-4-2.5-4-2.5-4-2.5-4-1.5-4-1.5-4-1-4-0.5-4-1-4 0-4 0-4 0.5-4 2-4 3-4 3-4 3.5-4 3.5-4 2.5-4 3-4 3-4 3-4 2.5-4 1.5-4 0.5-4-0.5-4-0.5-4-1-4-1-4-1-4-1-4-1-4-1.5-4-0.5-4-1-4-1-4-0.5-4-1-4-1-4-0.5-4-1-4-0.5-4-1-4-1-4-1-4-1-4-1-4-1-4-1-4-1-4-1-4-1-4-1-4-1-4-1-4-0.5-4-0.5-4-0.5-4 0.5-4 1-4 2.5-4 2.5-4 3-4 3-4 2.5-4 2.5-4 2.5-4 2.5-4 2-4 1.5-4 0.5-4-0.5-4-2-4-3.5-4-3.5-4-3.5-4-2.5-4-1.5-4-0.5-4 0-4 0.5-4 0-4 0.5-4 0.5-4 2-4 3-4 3.5-4 4-4 5-4 5-4 5.5-4 6-4 6-4 5.5-4 5.5-4 5.5-4 6-4 5.5-4 6-4 5.5-4 5-4 4.5-4 4-4 3-4 2.5-4 2-4 1.5-4 1.5-4 1.5-4 1.5-4 1.5-4 1.5-4 1.5-4 2-4 2-4 1.5-4 2-4 2-4 1.5-4 1.5-4 1.5-4 1-4 1-4 0.5-4 0-4-0.5-4-0.5-4-0.5-4-1-4-1-4-1-4-1-4-1-4-0.5-4-0.5-4-0.5-4 0-4 0-4 0-4 0.5-4 0-4 0.5-4 0.5-4 0.5-4 0.5-4 1.5-4 2.5-4 4-4 5.5-4 5.5-4 4.5-4 3.5-4 2.5-4 1.5-4 0.5-4 0-4 0-4 0-4 0-4 0-4-0.5-4 0-4 0-4 0-4 0-4 0-4 0-4 0-4-0.5-4 0-4 0-4 0-4 0-4 0-4 0.5-4 2-4 3.5-4 5-4 6-4 7-4 7.5-4 10-4 12-4 13.5-4 13.5-4 13ZM503 977.5l4-10.5 4-8.5 4-7 4-7 4-6 4-5 4-3.5 4-2 4-0.5 4 0 4 0 4 0 4 0 4 0 4 0.5 4 0 4 0 4 0 4 0 4 0 4 0 4 0 4 0.5 4 0 4 0 4 0 4 0 4 0 4-0.5 4-1.5 4-2.5 4-3.5 4-4.5 4-5.5 4-5.5 4-4 4-2.5 4-1.5 4-0.5 4-0.5 4-0.5 4-0.5 4 0 4-0.5 4 0 4 0 4 0 4 0.5 4 0.5 4 0.5 4 1 4 1 4 1 4 1 4 1 4 0.5 4 0.5 4 0.5 4 0 4-0.5 4-1 4-1 4-1.5 4-1.5 4-1.5 4-2 4-2 4-1.5 4-2 4-2 4-1.5 4-1.5 4-1.5 4-1.5 4-1.5 4-1.5 4-1.5 4-2 4-2.5 4-3 4-4 4-4.5 4-5 4-5.5 4-6 4-5.5 4-6 4-5.5 4-5.5 4-5.5 4-6 4-6 4-5.5 4-5 4-5 4-4 4-3.5 4-3 4-2 4-0.5 4-0.5 4 0 4-0.5 4 0 4 0.5 4 1.5 4 2.5 4 3.5 4 3.5 4 3.5 4 2 4 0.5 4-0.5 4-1.5 4-2 4-2.5 4-2.5 4-2.5 4-2.5 4-3 4-3 4-2.5 4-2.5 4-1 4-0.5 4 0.5 4 0.5 4 0.5 4 1 4 1 4 1 4 1 4 1 4 1 4 1 4 1 4 1 4 1 4 1 4 1 4 1 4 0.5 4 1 4 0.5 4 1 4 1 4 0.5 4 1 4 1 4 0.5 4 1.5 4 1 4 1 4 1 4 1 4 1 4 0.5 4 0.5 4-0.5 4-1.5 4-2.5 4-3 4-3 4-3 4-2.5 4-3.5 4-3.5 4-3 4-3 4-2 4-0.5 4 0 4 0 4 1 4 0.5 4 1 4 1.5 4 1.5 4 2.5 4 2.5 4 2.5 4 3 4 2.5 4 2 4 2.5 4 2 4 2.5 4 2 4 2 4 1.5 4 1 4 0.5 4 0 4 0 4 0 4 0 4 0 4 0 4 0 4 0 4 0 4 0.5 4 0 4 0.5 4 1 4 0.5 4 1 4 0.5 4 1.5 4 1.5 4 1.5 4 1.5 4 1.5 4 1.5 4 1 4 1 4 0.5 4 0.5 4 1 4 0.5 4 0.5 4 1 4 0.5 4 1 4 1 4 1 4 1 4 1.5 4 1.5 4 2.5 4 3.5 4 6 4 7.5 4 8.5 4 8.5 4 9.5 4 10 4 10.5 4 11.5 4 12 4 12 4 13 4 12.5 4 13 4 13 0 11-4-13-4-13-4-13-4-12.5-4-12.5-4-12.5-4-11.5-4-11.5-4-10.5-4-10-4-9-4-8.5-4-8-4-6-4-4-4-2-4-2-4-1-4-1.5-4-1-4-0.5-4-1-4-1-4-0.5-4-1-4-0.5-4-0.5-4-0.5-4-1-4-1-4-1-4-1-4-1.5-4-1.5-4-2-4-1-4-1.5-4-1-4-0.5-4-1-4-0.5-4-0.5-4-0.5-4 0-4 0-4 0-4 0-4 0-4 0-4 0-4 0-4 0-4-0.5-4 0-4-1-4-1.5-4-2-4-2-4-2.5-4-2.5-4-2-4-2.5-4-2.5-4-2.5-4-3-4-2.5-4-2-4-2-4-1-4-1-4-1-4-0.5-4-0.5-4 0-4 1-4 2-4 2.5-4 3.5-4 3.5-4 3-4 3-4 3-4 3-4 2.5-4 2.5-4 1.5-4 0.5-4 0-4-0.5-4-1-4-1-4-1-4-1.5-4-1-4-1-4-1-4-0.5-4-1-4-1-4-0.5-4-1-4-1-4-0.5-4-1-4-0.5-4-1-4-1-4-1-4-1-4-1-4-1.5-4-1-4-1-4-1-4-1-4-0.5-4-1-4-1-4-0.5-4 0-4 0.5-4 1-4 2-4 3-4 3-4 2.5-4 3-4 2-4 2.5-4 2.5-4 2-4 1.5-4 1-4-0.5-4-2.5-4-3-4-3.5-4-3.5-4-3-4-1-4-0.5-4 0-4 0-4 0.5-4 0-4 1-4 2-4 3-4 3.5-4 4-4 4.5-4 5.5-4 5.5-4 6-4 5.5-4 6-4 5.5-4 5.5-4 5.5-4 6-4 5.5-4 6-4 5-4 4.5-4 4-4 3-4 2-4 2-4 2-4 1.5-4 1.5-4 1.5-4 1.5-4 1.5-4 1.5-4 1.5-4 2-4 2-4 2-4 1.5-4 2-4 1.5-4 1-4 1.5-4 0.5-4 0.5-4 0-4 0-4-0.5-4-0.5-4-1-4-1-4-1-4-1-4-1-4-0.5-4-1-4 0-4 0-4 0-4 0-4 0.5-4 0-4 0.5-4 0.5-4 0.5-4 0.5-4 1-4 2.5-4 4.5-4 5.5-4 5-4 5-4 3.5-4 2.5-4 1.5-4 0-4 0.5-4-0.5-4 0-4 0-4 0-4 0-4 0-4 0-4 0-4 0-4-0.5-4 0-4 0-4 0-4 0-4 0-4 0-4 0-4 0-4 0.5-4 1.5-4 3.5-4 5-4 6.5-4 6.5-4 8-4 10-4 12ZM521 980l4-5.5 4-4.5 4-2.5 4-1 4 0 4 0 4 0 4 0 4 0 4 0 4 0 4 0 4 0 4 0.5 4 0 4 0 4 0 4 0 4 0 4 0 4 0 4 0.5 4 0 4-0.5 4-1 4-2 4-3 4-4 4-5 4-5.5 4-5 4-3.5 4-1.5 4-1 4-0.5 4-0.5 4-0.5 4 0 4-0.5 4 0 4 0 4 0 4 0 4 0.5 4 0.5 4 1 4 1 4 1 4 1 4 1 4 0.5 4 1 4 0 4 0 4 0 4-1 4-0.5 4-1.5 4-1.5 4-1.5 4-2 4-1.5 4-2 4-2 4-1.5 4-2 4-1.5 4-1.5 4-1.5 4-1.5 4-1.5 4-1.5 4-2 4-2 4-2.5 4-3.5 4-4 4-5 4-5.5 4-5.5 4-6 4-6 4-5.5 4-5.5 4-5.5 4-6 4-5.5 4-6 4-5.5 4-5 4-4 4-4 4-3.5 4-2.5 4-1 4-0.5 4-0.5 4 0 4 0 4 0 4 1 4 2 4 3 4 3.5 4 3.5 4 3 4 1.5 4-0.5 4-1 4-2 4-2 4-2.5 4-2.5 4-2.5 4-2.5 4-3 4-3 4-2.5 4-1.5 4-1 4 0 4 0.5 4 0.5 4 1 4 1 4 0.5 4 1 4 1 4 1 4 1 4 1.5 4 1 4 1 4 1 4 1 4 0.5 4 1 4 1 4 0.5 4 1 4 0.5 4 1 4 1 4 0.5 4 1 4 1 4 1 4 1.5 4 1 4 1 4 1 4 0.5 4 0.5 4 0 4-1 4-2 4-2.5 4-3 4-3 4-3 4-3 4-3.5 4-3.5 4-3 4-2.5 4-1 4-0.5 4 0 4 1 4 0.5 4 1 4 1 4 1.5 4 2 4 2.5 4 2.5 4 3 4 2.5 4 2.5 4 2 4 2.5 4 2 4 2.5 4 2 4 1.5 4 1.5 4 0.5 4 0.5 4 0 4 0 4 0 4 0 4 0 4 0 4 0 4 0 4 0 4 0.5 4 0 4 1 4 0.5 4 0.5 4 1 4 1 4 1.5 4 1.5 4 1.5 4 1.5 4 1.5 4 1 4 1 4 1 4 0.5 4 1 4 0.5 4 0.5 4 0.5 4 1 4 1 4 0.5 4 1 4 1 4 1.5 4 1.5 4 2 4 2.5 4 5 4 7 4 8 4 8.5 4 9 4 9.5 4 10.5 4 11 4 11.5 4 12.5 4 12.5 2 6 0 11-2-6.5-4-12.5-4-12.5-4-12-4-11.5-4-11-4-10-4-9.5-4-9-4-8.5-4-7-4-5-4-3-4-2-4-1.5-4-1-4-1-4-1-4-1-4-0.5-4-1-4-0.5-4-1-4-0.5-4-0.5-4-0.5-4-1-4-1-4-1-4-1.5-4-1.5-4-1.5-4-1.5-4-1.5-4-1-4-1-4-1-4-0.5-4-0.5-4-0.5-4 0-4-0.5-4 0-4 0-4 0-4 0-4 0-4 0-4 0-4 0-4 0-4-1-4-1-4-2-4-2-4-2-4-2.5-4-2-4-2.5-4-2.5-4-2.5-4-2.5-4-3-4-2.5-4-1.5-4-1.5-4-1-4-1-4-1-4-0.5-4 0-4 0-4 1.5-4 2.5-4 3-4 3.5-4 3.5-4 3-4 2.5-4 3-4 3-4 3-4 2-4 1-4 0-4-0.5-4-0.5-4-1-4-1-4-1.5-4-1-4-1-4-1-4-1-4-1-4-0.5-4-1-4-1-4-0.5-4-1-4-0.5-4-1-4-1-4-0.5-4-1-4-1-4-1.5-4-1-4-1-4-1-4-1-4-1-4-1-4-1-4-0.5-4-0.5-4-0.5-4 0-4 0.5-4 2-4 2.5-4 2.5-4 3-4 3-4 2.5-4 2-4 2.5-4 2.5-4 2-4 1-4 0-4-1.5-4-2.5-4-3.5-4-3.5-4-3.5-4-2-4-0.5-4-0.5-4 0.5-4 0-4 0-4 0.5-4 1.5-4 2.5-4 3.5-4 3.5-4 4.5-4 5-4 5.5-4 5.5-4 6-4 6-4 5.5-4 5.5-4 5.5-4 6-4 5.5-4 6-4 5-4 5-4 4.5-4 3-4 3-4 2-4 2-4 1.5-4 1.5-4 1.5-4 1.5-4 1.5-4 1.5-4 1.5-4 2-4 2-4 1.5-4 2-4 2-4 1.5-4 1.5-4 1-4 1-4 0.5-4 0.5-4 0-4-0.5-4-0.5-4-1-4-1-4-1-4-1-4-0.5-4-1-4-0.5-4-0.5-4-0.5-4 0-4 0.5-4 0-4 0-4 0.5-4 0.5-4 0.5-4 0.5-4 0.5-4 2-4 3.5-4 5-4 5.5-4 5-4 4-4 3-4 2-4 1-4 0-4 0-4 0-4 0-4 0-4 0-4 0-4-0.5-4 0-4 0-4 0-4 0-4 0-4 0-4 0-4-0.5-4 0-4 0-4 0-4 0.5-4 1-4 2.5-4 4.5-4 5.5ZM644 981.5l4-4 4-2 4-1 4-0.5 4-0.5 4-0.5 4 0 4-0.5 4 0 4-0.5 4 0 4 0.5 4 0 4 1 4 0.5 4 1 4 1 4 1 4 1 4 1 4 0.5 4 0.5 4 0 4 0 4-1 4-0.5 4-1.5 4-1 4-2 4-1.5 4-2 4-1.5 4-2 4-2 4-1.5 4-2 4-1 4-1.5 4-1.5 4-1.5 4-1.5 4-2 4-2 4-2.5 4-3 4-4 4-5 4-5.5 4-5.5 4-6 4-5.5 4-5.5 4-5.5 4-5.5 4-6 4-6 4-5.5 4-5.5 4-5.5 4-4.5 4-4 4-3 4-3 4-1.5 4-0.5 4-0.5 4 0 4-0.5 4 0 4 1 4 1.5 4 3 4 3.5 4 3.5 4 3 4 2 4 0 4-1 4-1.5 4-2 4-2.5 4-2.5 4-2.5 4-2.5 4-3 4-3 4-2.5 4-2 4-1 4 0 4 0 4 0.5 4 1 4 1 4 0.5 4 1 4 1 4 1 4 1 4 1.5 4 1 4 1 4 1 4 1 4 1 4 0.5 4 1 4 0.5 4 1 4 1 4 0.5 4 1 4 1 4 0.5 4 1 4 1 4 1.5 4 1 4 1 4 1 4 1 4 0.5 4 0 4-1 4-1.5 4-2.5 4-3 4-3 4-3 4-3 4-3 4-3.5 4-3.5 4-2.5 4-1.5 4-0.5 4 0 4 0.5 4 0.5 4 1 4 1 4 1.5 4 1.5 4 2.5 4 2.5 4 3 4 2.5 4 2.5 4 2 4 2.5 4 2.5 4 2 4 2 4 2 4 1.5 4 0.5 4 0.5 4 0 4 0 4 0 4 0 4 0 4 0 4 0 4 0 4 0 4 0.5 4 0.5 4 0.5 4 0.5 4 1 4 0.5 4 1 4 1.5 4 1.5 4 1.5 4 1.5 4 1.5 4 1 4 1.5 4 0.5 4 1 4 0.5 4 0.5 4 0.5 4 1 4 0.5 4 1 4 1 4 0.5 4 1 4 1.5 4 1.5 4 1.5 4 2.5 4 4.5 4 6.5 4 7.5 4 8.5 4 9 4 9.5 4 10 4 11 3 8.5 0 10-3-8.5-4-11.5-4-11-4-10-4-9-4-9-4-8-4-6.5-4-4.5-4-2.5-4-2-4-1.5-4-1-4-1-4-1-4-1-4-0.5-4-1-4-0.5-4-0.5-4-0.5-4-1-4-0.5-4-1-4-1-4-1-4-1.5-4-1.5-4-2-4-1.5-4-1-4-1-4-1-4-0.5-4-1-4-0.5-4 0-4-0.5-4 0-4 0-4 0-4 0-4 0-4 0-4 0-4 0-4 0-4-0.5-4-1-4-1-4-2-4-2-4-2.5-4-2-4-2.5-4-2-4-2.5-4-3-4-2.5-4-2.5-4-2.5-4-2-4-1-4-1-4-1-4-0.5-4-1-4 0-4 0.5-4 2-4 2.5-4 3-4 3.5-4 3.5-4 3-4 2.5-4 3-4 3-4 2.5-4 2-4 0.5-4 0-4-0.5-4-0.5-4-1-4-1-4-1.5-4-1-4-1-4-1-4-1-4-1-4-0.5-4-1-4-0.5-4-1-4-1-4-0.5-4-1-4-1-4-0.5-4-1-4-1-4-1.5-4-1-4-1-4-1-4-1-4-1-4-1-4-0.5-4-1-4-0.5-4-0.5-4 0-4 1-4 2-4 3-4 2.5-4 3-4 2.5-4 2.5-4 2.5-4 2.5-4 2.5-4 1.5-4 1-4-0.5-4-1.5-4-3-4-3.5-4-3.5-4-3-4-2-4-0.5-4 0-4 0-4 0.5-4 0-4 0.5-4 2-4 2.5-4 3.5-4 4-4 4.5-4 5-4 5.5-4 6-4 6-4 5.5-4 5.5-4 5.5-4 5.5-4 6-4 6-4 5.5-4 5.5-4 4.5-4 4-4 3-4 2.5-4 2-4 2-4 1.5-4 1.5-4 1.5-4 1.5-4 1.5-4 1.5-4 2-4 1.5-4 2-4 2-4 1.5-4 2-4 1.5-4 1.5-4 1-4 1-4 0.5-4 0.5-4-0.5-4-0.5-4-0.5-4-1-4-0.5-4-1-4-1-4-1-4-1-4-0.5-4-0.5-4 0-4 0-4 0-4 0.5-4 0-4 0.5-4 0.5-4 0.5-4 0.5-4 1-4 2-4 4ZM827 980.5l4-4.5 4-5 4-5.5 4-6 4-6 4-5.5 4-5.5 4-5.5 4-5.5 4-6 4-6 4-5.5 4-5.5 4-4.5 4-4 4-3.5 4-3 4-2 4-1 4 0 4-0.5 4 0 4 0 4 0.5 4 1.5 4 2.5 4 3.5 4 3.5 4 3.5 4 2 4 0.5 4-0.5 4-1.5 4-2.5 4-2.5 4-2 4-2.5 4-2.5 4-3 4-3 4-2.5 4-2.5 4-1 4-0.5 4 0.5 4 0.5 4 0.5 4 1 4 1 4 0.5 4 1 4 1 4 1.5 4 1 4 1 4 1 4 1 4 1 4 1 4 0.5 4 1 4 1 4 0.5 4 1 4 0.5 4 1 4 1 4 0.5 4 1 4 1 4 1.5 4 1 4 1 4 1 4 1 4 0.5 4 0 4-0.5 4-1.5 4-2 4-3 4-3 4-3 4-3 4-3 4-3.5 4-3.5 4-2.5 4-2 4-1 4 0 4 0.5 4 1 4 0.5 4 1 4 1.5 4 1.5 4 2 4 3 4 2.5 4 2.5 4 2.5 4 2.5 4 2 4 2.5 4 2.5 4 2 4 2 4 1.5 4 1 4 0.5 4 0 4 0 4 0 4 0 4 0 4 0 4 0 4 0 4 0 4 0 4 0.5 4 0.5 4 0.5 4 1 4 0.5 4 1 4 1.5 4 1.5 4 1.5 4 1.5 4 1.5 4 1 4 1.5 4 0.5 4 1 4 0.5 4 0.5 4 1 4 0.5 4 0.5 4 1 4 1 4 1 4 1 4 1 4 1 4 2 4 2 4 4 4 6 4 7.5 4 8.5 4 8.5 2 4.5 0 8.5-2-5-4-9-4-8.5-4-8-4-6-4-4-4-2.5-4-1.5-4-1.5-4-1-4-1-4-1-4-0.5-4-1-4-0.5-4-1-4-0.5-4-0.5-4-0.5-4-1-4-1-4-1-4-1.5-4-1.5-4-1.5-4-1.5-4-1.5-4-1-4-1-4-1-4-0.5-4-0.5-4-0.5-4-0.5-4 0-4-0.5-4 0-4 0-4 0-4 0-4 0-4 0-4 0-4 0-4-0.5-4-1-4-1.5-4-1.5-4-2.5-4-2-4-2.5-4-2-4-2.5-4-2.5-4-2.5-4-3-4-2.5-4-2-4-2-4-1-4-1-4-1-4-0.5-4-0.5-4 0-4 1-4 1.5-4 3-4 3.5-4 3-4 3.5-4 3-4 3-4 3-4 2.5-4 2.5-4 1.5-4 0.5-4 0-4-1-4-0.5-4-1-4-1-4-1.5-4-1-4-1-4-1-4-1-4-0.5-4-1-4-1-4-0.5-4-1-4-0.5-4-1-4-1-4-0.5-4-1-4-1-4-1-4-1.5-4-1-4-1-4-1-4-1-4-1-4-1-4-0.5-4-1-4-0.5-4 0-4 0-4 1.5-4 2-4 3-4 3-4 2.5-4 2.5-4 2.5-4 2.5-4 2.5-4 2-4 1.5-4 1-4-1-4-2-4-3-4-3.5-4-3.5-4-3-4-1.5-4 0-4 0-4 0-4 0-4 0.5-4 1-4 1.5-4 3-4 3.5-4 4.5-4 4.5-4 5-4 6-4 5.5-4 6-4 6-4 5.5-4 5.5-4 5.5-4 6-4 5.5-4 5.5-4 5.5-4 4.5ZM855 981.5l4-5.5 4-6 4-6 4-5.5 4-6 4-5 4-4.5 4-4.5 4-3.5 4-3 4-1.5 4-1 4-0.5 4 0 4 0 4 0 4 0 4 1.5 4 3 4 3.5 4 3.5 4 3 4 2 4 1 4-1 4-1.5 4-2 4-2.5 4-2.5 4-2.5 4-2.5 4-2.5 4-3 4-3 4-2 4-1.5 4 0 4 0 4 0.5 4 1 4 0.5 4 1 4 1 4 1 4 1 4 1 4 1 4 1.5 4 1 4 1 4 1 4 0.5 4 1 4 1 4 0.5 4 1 4 0.5 4 1 4 1 4 0.5 4 1 4 1 4 1 4 1 4 1.5 4 1 4 1 4 0.5 4 1 4 0 4-0.5 4-1.5 4-2.5 4-2.5 4-3 4-3 4-3 4-3.5 4-3 4-3.5 4-3 4-1.5 4-1 4 0 4 0.5 4 0.5 4 1 4 1 4 1 4 2 4 2 4 2.5 4 3 4 2.5 4 2.5 4 2.5 4 2 4 2.5 4 2 4 2.5 4 1.5 4 1.5 4 1 4 0.5 4 0 4 0 4 0 4 0 4 0 4 0 4 0 4 0 4 0.5 4 0 4 0.5 4 0.5 4 0.5 4 0.5 4 1 4 1 4 1 4 1.5 4 1.5 4 1.5 4 1.5 4 1.5 4 1 4 1 4 1 4 0.5 4 0.5 4 0.5 4 1 4 0.5 4 1 4 0.5 4 1 4 1 4 1 4 1.5 4 1.5 4 2.5 1 0.5 0 7-1-0.5-4-2.5-4-1.5-4-1.5-4-1-4-1-4-1-4-1-4-0.5-4-1-4-0.5-4-0.5-4-1-4-0.5-4-0.5-4-1-4-1-4-1.5-4-1.5-4-1.5-4-1.5-4-1.5-4-1.5-4-0.5-4-1-4-0.5-4-1-4-0.5-4 0-4-0.5-4 0-4 0-4 0-4 0-4 0-4 0-4 0-4 0-4 0-4-0.5-4-1-4-1.5-4-2-4-2-4-2.5-4-2-4-2.5-4-2-4-2.5-4-3-4-2.5-4-2.5-4-2.5-4-1.5-4-1.5-4-1-4-0.5-4-1-4 0-4 0-4 0.5-4 2-4 3-4 3-4 3.5-4 3.5-4 2.5-4 3-4 3-4 3-4 2.5-4 1.5-4 0.5-4-0.5-4-0.5-4-1-4-1-4-1-4-1-4-1-4-1.5-4-0.5-4-1-4-1-4-0.5-4-1-4-1-4-0.5-4-1-4-0.5-4-1-4-1-4-1-4-1-4-1-4-1-4-1-4-1-4-1-4-1-4-1-4-1-4-1-4-0.5-4-0.5-4-0.5-4 0.5-4 1-4 2.5-4 2.5-4 3-4 3-4 2.5-4 2.5-4 2.5-4 2.5-4 2-4 1.5-4 0.5-4-0.5-4-2-4-3.5-4-3.5-4-3.5-4-2.5-4-1.5-4-0.5-4 0-4 0.5-4 0-4 0.5-4 0.5-4 2-4 3-4 3.5-4 4-4 5-4 5-4 5.5-4 6-4 6-4 5.5-4 5.5ZM883 981.5l4-4 4-3.5 4-3 4-2 4-0.5 4-0.5 4 0 4-0.5 4 0 4 0.5 4 1.5 4 2.5 4 3.5 4 3.5 2 2 0 6.5-2-1.5-4-3.5-4-3.5-4-3-4-1-4-0.5-4 0-4 0-4 0.5-4 0-4 1-4 2-4 3-4 3.5-4 4ZM962 981.5l4-2.5 4-2.5 4-2.5 4-2.5 4-2.5 4-3 4-3 4-2.5 4-1.5 4-0.5 4 0.5 4 0.5 4 0.5 4 1 4 0.5 4 1 4 1 4 1 4 1 4 1 4 1.5 4 1 4 1 4 1 4 1 4 0.5 4 1 4 0.5 4 1 4 1 4 0.5 4 1 4 0.5 4 1 4 1 4 1 2 0.5 0 7-2-0.5-4-1-4-1-4-1-4-1-4-0.5-4-1-4-0.5-4-1-4-1-4-0.5-4-1-4-1-4-0.5-4-1-4-1.5-4-1-4-1-4-1-4-1-4-1-4-1-4-1-4-0.5-4-1-4-0.5-4 0-4 0.5-4 1.5-4 2.5-4 2.5-4 3-4 3-4 2.5-4 2.5-4 2-4 2.5ZM1149 981.5l4-3 4-3 4-2.5 4-3.5 4-3 4-3.5 4-3 4-2.5 4-1.5 4-0.5 4 0.5 4 0.5 4 1 4 0.5 4 1.5 4 1 4 2 4 2.5 4 2.5 4 3 4 2.5 4 2.5 4 2 4 2.5 2 1 0 7-2-1-4-2.5-4-2-4-2.5-4-2.5-4-3-4-2.5-4-2.5-4-2-4-1.5-4-1-4-1-4-0.5-4-1-4 0-4 0.5-4 1-4 2.5-4 3-4 3.5-4 3.5-4 3-4 3-4 3-4 3Z" fill="#000" fill-opacity="0.7" filter="url(#bl2b)"/></g>
<rect x="1636" y="78" width="1.6" height="137" fill="#1010ff" fill-opacity="0.65"/>
<rect x="1666.5" y="80" width="1.6" height="510" fill="#1010ff" fill-opacity="0.55"/>
<rect x="803" y="94" width="1.6" height="130" fill="#1010ff" fill-opacity="0.5"/>
<rect x="882" y="79" width="1.6" height="63" fill="#1010ff" fill-opacity="0.55"/>
<rect x="938" y="90" width="1.6" height="35" fill="#1010ff" fill-opacity="0.55"/>
<rect x="302" y="90" width="1.6" height="330" fill="#1010ff" fill-opacity="0.4"/>
<rect x="610" y="280" width="1.6" height="300" fill="#1010ff" fill-opacity="0.4"/>
<rect x="126.4" y="450.5" width="8.5" height="11" fill="url(#gbl)" fill-opacity="1"/><rect x="138.0" y="450.5" width="5.8" height="11" fill="url(#gbl)" fill-opacity="1"/><rect x="312.3" y="450.5" width="9.7" height="11" fill="url(#gbl)" fill-opacity="1"/><rect x="323.3" y="450.5" width="6.8" height="11" fill="url(#gbl)" fill-opacity="1"/><rect x="331.0" y="450.5" width="4.9" height="11" fill="url(#gbl)" fill-opacity="1"/><rect x="370.8" y="450.5" width="9.6" height="11" fill="url(#gbl)" fill-opacity="1"/><rect x="382.0" y="450.5" width="11.0" height="11" fill="url(#gbl)" fill-opacity="1"/><rect x="394.0" y="450.5" width="7.2" height="11" fill="url(#gbl)" fill-opacity="1"/><rect x="420.1" y="450.5" width="7.8" height="11" fill="url(#gbl)" fill-opacity="1"/><rect x="428.8" y="450.5" width="6.2" height="11" fill="url(#gbl)" fill-opacity="1"/><rect x="435.5" y="450.5" width="5.0" height="11" fill="url(#gbl)" fill-opacity="1"/><rect x="442.4" y="450.5" width="6.8" height="11" fill="url(#gbl)" fill-opacity="1"/><rect x="479.2" y="450.5" width="1.9" height="11" fill="url(#gbl)" fill-opacity="1"/><rect x="482.1" y="450.5" width="2.9" height="11" fill="url(#gbl)" fill-opacity="1"/><rect x="491.2" y="450.5" width="8.3" height="11" fill="url(#gbl)" fill-opacity="1"/><rect x="531.0" y="450.5" width="2.0" height="11" fill="url(#gbl)" fill-opacity="1"/><rect x="542.2" y="450.5" width="7.2" height="11" fill="url(#gbl)" fill-opacity="1"/><rect x="550.0" y="450.5" width="8.5" height="11" fill="url(#gbl)" fill-opacity="1"/><rect x="560.0" y="450.5" width="7.4" height="11" fill="url(#gbl)" fill-opacity="1"/><rect x="577.0" y="450.5" width="13.6" height="11" fill="url(#gbl)" fill-opacity="1"/><rect x="591.4" y="450.5" width="8.9" height="11" fill="url(#gbl)" fill-opacity="1"/><rect x="601.0" y="450.5" width="6.5" height="11" fill="url(#gbl)" fill-opacity="1"/><rect x="608.0" y="450.5" width="6.2" height="11" fill="url(#gbl)" fill-opacity="1"/><rect x="649.0" y="450.5" width="4.3" height="11" fill="url(#gbl)" fill-opacity="1"/><rect x="654.0" y="450.5" width="5.1" height="11" fill="url(#gbl)" fill-opacity="1"/><rect x="659.7" y="450.5" width="4.5" height="11" fill="url(#gbl)" fill-opacity="1"/><rect x="730.4" y="450.5" width="11.6" height="11" fill="url(#gbl)" fill-opacity="1"/><rect x="743.0" y="450.5" width="11.0" height="11" fill="url(#gbl)" fill-opacity="1"/><rect x="878.5" y="450.5" width="8.7" height="11" fill="url(#gbl)" fill-opacity="1"/><rect x="887.7" y="450.5" width="10.1" height="11" fill="url(#gbl)" fill-opacity="1"/><rect x="951.2" y="450.5" width="6.6" height="11" fill="url(#gbl)" fill-opacity="1"/><rect x="959.0" y="450.5" width="4.3" height="11" fill="url(#gbl)" fill-opacity="1"/><rect x="1237.2" y="450.5" width="7.8" height="11" fill="url(#gbl)" fill-opacity="1"/><rect x="1246.3" y="450.5" width="7.0" height="11" fill="url(#gbl)" fill-opacity="1"/><rect x="1310.0" y="450.5" width="7.1" height="11" fill="url(#gbl)" fill-opacity="1"/><rect x="1319.0" y="450.5" width="6.8" height="11" fill="url(#gbl)" fill-opacity="1"/><rect x="1335.9" y="450.5" width="3.9" height="11" fill="url(#gbl)" fill-opacity="1"/><rect x="1342.3" y="450.5" width="4.8" height="11" fill="url(#gbl)" fill-opacity="1"/><rect x="1490.8" y="450.5" width="7.0" height="11" fill="url(#gbl)" fill-opacity="1"/><rect x="1499.1" y="450.5" width="3.9" height="11" fill="url(#gbl)" fill-opacity="1"/><rect x="1513.0" y="450.5" width="11.3" height="11" fill="url(#gbl)" fill-opacity="1"/><rect x="1525.6" y="450.5" width="9.4" height="11" fill="url(#gbl)" fill-opacity="1"/><rect x="1536.9" y="450.5" width="6.1" height="11" fill="url(#gbl)" fill-opacity="1"/><rect x="1640.9" y="450.5" width="7.3" height="11" fill="url(#gbl)" fill-opacity="1"/><rect x="1649.9" y="450.5" width="6.2" height="11" fill="url(#gbl)" fill-opacity="1"/><rect x="1657.9" y="450.5" width="5.5" height="11" fill="url(#gbl)" fill-opacity="1"/><rect x="1663.6" y="450.5" width="4.6" height="11" fill="url(#gbl)" fill-opacity="1"/><rect x="1668.9" y="450.5" width="4.2" height="11" fill="url(#gbl)" fill-opacity="1"/><rect x="1673.8" y="450.5" width="5.1" height="11" fill="url(#gbl)" fill-opacity="1"/><rect x="1679.9" y="450.5" width="4.1" height="11" fill="url(#gbl)" fill-opacity="1"/><rect x="1698.0" y="450.5" width="7.0" height="11" fill="url(#gbl)" fill-opacity="1"/><rect x="1705.8" y="450.5" width="5.0" height="11" fill="url(#gbl)" fill-opacity="1"/><rect x="1776.0" y="450.5" width="14.0" height="11" fill="url(#gbl)" fill-opacity="1"/>
<rect x="126.4" y="473.5" width="8.5" height="16.5" fill="url(#g113)"/><rect x="138.0" y="473.5" width="5.8" height="16.5" fill="url(#g113)"/><rect x="312.3" y="473.5" width="9.7" height="16.5" fill="url(#g113)"/><rect x="323.3" y="473.5" width="6.8" height="16.5" fill="url(#g113)"/><rect x="331.0" y="473.5" width="4.9" height="16.5" fill="url(#g113)"/><rect x="370.8" y="473.5" width="9.6" height="16.5" fill="url(#g113)"/><rect x="382.0" y="473.5" width="11.0" height="16.5" fill="url(#g113)"/><rect x="394.0" y="473.5" width="7.2" height="16.5" fill="url(#g113)"/><rect x="420.1" y="473.5" width="7.8" height="16.5" fill="url(#g113)"/><rect x="428.8" y="473.5" width="6.2" height="16.5" fill="url(#g113)"/><rect x="435.5" y="473.5" width="5.0" height="16.5" fill="url(#g113)"/><rect x="442.4" y="473.5" width="6.8" height="16.5" fill="url(#g113)"/><rect x="479.2" y="473.5" width="1.9" height="16.5" fill="url(#g113)"/><rect x="482.1" y="473.5" width="2.9" height="16.5" fill="url(#g113)"/><rect x="491.2" y="473.5" width="8.3" height="16.5" fill="url(#g139)"/><rect x="531.0" y="473.5" width="2.0" height="16.5" fill="url(#g113)"/><rect x="542.2" y="473.5" width="7.2" height="16.5" fill="url(#g113)"/><rect x="550.0" y="473.5" width="8.5" height="16.5" fill="url(#g113)"/><rect x="560.0" y="473.5" width="7.4" height="16.5" fill="url(#g113)"/><rect x="577.0" y="473.5" width="13.6" height="16.5" fill="url(#g113)"/><rect x="591.4" y="473.5" width="8.9" height="16.5" fill="url(#g113)"/><rect x="601.0" y="473.5" width="6.5" height="16.5" fill="url(#g113)"/><rect x="608.0" y="473.5" width="6.2" height="16.5" fill="url(#g113)"/><rect x="649.0" y="473.5" width="4.3" height="16.5" fill="url(#g113)"/><rect x="654.0" y="473.5" width="5.1" height="16.5" fill="url(#g113)"/><rect x="659.7" y="473.5" width="4.5" height="16.5" fill="url(#g113)"/><rect x="730.4" y="473.5" width="11.6" height="16.5" fill="url(#g113)"/><rect x="743.0" y="473.5" width="11.0" height="16.5" fill="url(#g113)"/><rect x="878.5" y="473.5" width="8.7" height="16.5" fill="url(#g113)"/><rect x="887.7" y="473.5" width="10.1" height="16.5" fill="url(#g113)"/><rect x="951.2" y="473.5" width="6.6" height="16.5" fill="url(#g113)"/><rect x="959.0" y="473.5" width="4.3" height="16.5" fill="url(#g113)"/><rect x="1237.2" y="473.5" width="7.8" height="16.5" fill="url(#g113)"/><rect x="1246.3" y="473.5" width="7.0" height="16.5" fill="url(#g113)"/><rect x="1310.0" y="473.5" width="7.1" height="16.5" fill="url(#g113)"/><rect x="1319.0" y="473.5" width="6.8" height="16.5" fill="url(#g113)"/><rect x="1335.9" y="473.5" width="3.9" height="16.5" fill="url(#g113)"/><rect x="1342.3" y="473.5" width="4.8" height="16.5" fill="url(#g113)"/><rect x="1490.8" y="473.5" width="7.0" height="16.5" fill="url(#g113)"/><rect x="1499.1" y="473.5" width="3.9" height="16.5" fill="url(#g113)"/><rect x="1513.0" y="473.5" width="11.3" height="16.5" fill="url(#g113)"/><rect x="1525.6" y="473.5" width="9.4" height="16.5" fill="url(#g113)"/><rect x="1536.9" y="473.5" width="6.1" height="16.5" fill="url(#g113)"/><rect x="1640.9" y="473.5" width="7.3" height="16.5" fill="url(#g113)"/><rect x="1649.9" y="473.5" width="6.2" height="16.5" fill="url(#g113)"/><rect x="1657.9" y="473.5" width="5.5" height="16.5" fill="url(#g113)"/><rect x="1663.6" y="473.5" width="4.6" height="16.5" fill="url(#g113)"/><rect x="1668.9" y="473.5" width="4.2" height="16.5" fill="url(#g113)"/><rect x="1673.8" y="473.5" width="5.1" height="16.5" fill="url(#g113)"/><rect x="1679.9" y="473.5" width="4.1" height="16.5" fill="url(#g113)"/><rect x="1698.0" y="473.5" width="7.0" height="16.5" fill="url(#g113)"/><rect x="1705.8" y="473.5" width="5.0" height="16.5" fill="url(#g113)"/><rect x="1776.0" y="473.5" width="14.0" height="16.5" fill="url(#g113)"/>
<rect x="126.4" y="951.5" width="8.5" height="11" fill="url(#g47)"/><rect x="138.0" y="951.5" width="5.8" height="11" fill="url(#g47)"/><rect x="312.3" y="951.5" width="9.7" height="11" fill="url(#g47)"/><rect x="323.3" y="951.5" width="6.8" height="11" fill="url(#g47)"/><rect x="331.0" y="951.5" width="4.9" height="11" fill="url(#g47)"/><rect x="370.8" y="951.5" width="9.6" height="11" fill="url(#g47)"/><rect x="382.0" y="951.5" width="11.0" height="11" fill="url(#g47)"/><rect x="394.0" y="951.5" width="7.2" height="11" fill="url(#g47)"/><rect x="420.1" y="951.5" width="7.8" height="11" fill="url(#g47)"/><rect x="428.8" y="951.5" width="6.2" height="11" fill="url(#g47)"/><rect x="435.5" y="951.5" width="5.0" height="11" fill="url(#g47)"/><rect x="442.4" y="951.5" width="6.8" height="11" fill="url(#g47)"/><rect x="479.2" y="951.5" width="1.9" height="11" fill="url(#g47)"/><rect x="482.1" y="951.5" width="2.9" height="11" fill="url(#g47)"/><rect x="491.2" y="951.5" width="8.3" height="11" fill="url(#g47)"/><rect x="531.0" y="951.5" width="2.0" height="11" fill="url(#g47)"/><rect x="542.2" y="951.5" width="7.2" height="11" fill="url(#g47)"/><rect x="550.0" y="951.5" width="8.5" height="11" fill="url(#g47)"/><rect x="560.0" y="951.5" width="7.4" height="11" fill="url(#g47)"/><rect x="577.0" y="951.5" width="13.6" height="11" fill="url(#g47)"/><rect x="591.4" y="951.5" width="8.9" height="11" fill="url(#g47)"/><rect x="601.0" y="951.5" width="6.5" height="11" fill="url(#g47)"/><rect x="608.0" y="951.5" width="6.2" height="11" fill="url(#g47)"/><rect x="649.0" y="951.5" width="4.3" height="11" fill="url(#g47)"/><rect x="654.0" y="951.5" width="5.1" height="11" fill="url(#g47)"/><rect x="659.7" y="951.5" width="4.5" height="11" fill="url(#g47)"/><rect x="730.4" y="951.5" width="11.6" height="11" fill="url(#g47)"/><rect x="743.0" y="951.5" width="11.0" height="11" fill="url(#g47)"/><rect x="878.5" y="951.5" width="8.7" height="11" fill="url(#g47)"/><rect x="887.7" y="951.5" width="10.1" height="11" fill="url(#g47)"/><rect x="951.2" y="951.5" width="6.6" height="11" fill="url(#g47)"/><rect x="959.0" y="951.5" width="4.3" height="11" fill="url(#g47)"/><rect x="1237.2" y="951.5" width="7.8" height="11" fill="url(#g47)"/><rect x="1246.3" y="951.5" width="7.0" height="11" fill="url(#g47)"/><rect x="1310.0" y="951.5" width="7.1" height="11" fill="url(#g47)"/><rect x="1319.0" y="951.5" width="6.8" height="11" fill="url(#g47)"/><rect x="1335.9" y="951.5" width="3.9" height="11" fill="url(#g47)"/><rect x="1342.3" y="951.5" width="4.8" height="11" fill="url(#g47)"/><rect x="1490.8" y="951.5" width="7.0" height="11" fill="url(#g47)"/><rect x="1499.1" y="951.5" width="3.9" height="11" fill="url(#g47)"/><rect x="1513.0" y="951.5" width="11.3" height="11" fill="url(#g47)"/><rect x="1525.6" y="951.5" width="9.4" height="11" fill="url(#g47)"/><rect x="1536.9" y="951.5" width="6.1" height="11" fill="url(#g47)"/><rect x="1640.9" y="951.5" width="7.3" height="11" fill="url(#g47)"/><rect x="1649.9" y="951.5" width="6.2" height="11" fill="url(#g47)"/><rect x="1657.9" y="951.5" width="5.5" height="11" fill="url(#g47)"/><rect x="1663.6" y="951.5" width="4.6" height="11" fill="url(#g47)"/><rect x="1668.9" y="951.5" width="4.2" height="11" fill="url(#g47)"/><rect x="1673.8" y="951.5" width="5.1" height="11" fill="url(#g47)"/><rect x="1679.9" y="951.5" width="4.1" height="11" fill="url(#g47)"/><rect x="1698.0" y="951.5" width="7.0" height="11" fill="url(#g47)"/><rect x="1705.8" y="951.5" width="5.0" height="11" fill="url(#g47)"/><rect x="1776.0" y="951.5" width="14.0" height="11" fill="url(#g47)"/>
<rect x="936.5" y="474" width="4.5" height="15" fill="url(#gsp2)"/>
<rect x="470" y="453" width="6.5" height="17" fill="url(#g139)"/>
<rect x="229.4" y="472" width="5.8" height="7" fill="url(#gbl)"/>
<rect x="1612" y="399" width="9" height="10" fill="url(#gbl)" fill-opacity="0.6"/>
<rect x="531" y="497.5" width="9.7" height="11" fill="url(#gpk)"/>
<rect x="555.2" y="497.5" width="7.1" height="11" fill="url(#gpk)"/>
<rect x="623" y="497.5" width="12.0" height="11" fill="url(#gpk)"/>
<rect x="732" y="497.5" width="17.8" height="11" fill="url(#gpk)"/>
<rect x="1101.7" y="500" width="4.8" height="8" fill="url(#gsp2)" fill-opacity="0.8"/>
<rect x="1168" y="500" width="5.3" height="8" fill="url(#gsp2)" fill-opacity="0.8"/>
<rect x="1187.4" y="500" width="5.9" height="8" fill="url(#gsp2)" fill-opacity="0.8"/>
<rect x="128.8" y="288.5" width="8.4" height="21" fill="url(#g139)"/>
<rect x="128.8" y="263" width="8.4" height="9" fill="url(#gbl)" fill-opacity="0.7"/>
<rect x="240.4" y="288.5" width="8.4" height="21" fill="url(#g139)"/>
<rect x="240.4" y="263" width="8.4" height="9" fill="url(#gbl)" fill-opacity="0.7"/>
<rect x="352.0" y="288.5" width="8.4" height="21" fill="url(#g139)"/>
<rect x="352.0" y="263" width="8.4" height="9" fill="url(#gbl)" fill-opacity="0.7"/>
<rect x="463.6" y="288.5" width="8.4" height="21" fill="url(#g139)"/>
<rect x="463.6" y="263" width="8.4" height="9" fill="url(#gbl)" fill-opacity="0.7"/>
<rect x="575.2" y="288.5" width="8.4" height="21" fill="url(#g139)"/>
<rect x="575.2" y="263" width="8.4" height="9" fill="url(#gbl)" fill-opacity="0.7"/>
<rect x="686.8" y="288.5" width="8.4" height="21" fill="url(#g139)"/>
<rect x="686.8" y="263" width="8.4" height="9" fill="url(#gbl)" fill-opacity="0.7"/>
<rect x="798.4" y="288.5" width="8.4" height="21" fill="url(#g139)"/>
<rect x="798.4" y="263" width="8.4" height="9" fill="url(#gbl)" fill-opacity="0.7"/>
<rect x="910.0" y="288.5" width="8.4" height="21" fill="url(#g139)"/>
<rect x="910.0" y="263" width="8.4" height="9" fill="url(#gbl)" fill-opacity="0.7"/>
<rect x="1021.6" y="288.5" width="8.4" height="21" fill="url(#g139)"/>
<rect x="1021.6" y="263" width="8.4" height="9" fill="url(#gbl)" fill-opacity="0.7"/>
<rect x="1133.2" y="288.5" width="8.4" height="21" fill="url(#g139)"/>
<rect x="1133.2" y="263" width="8.4" height="9" fill="url(#gbl)" fill-opacity="0.7"/>
<rect x="1244.8" y="288.5" width="8.4" height="21" fill="url(#g139)"/>
<rect x="1244.8" y="263" width="8.4" height="9" fill="url(#gbl)" fill-opacity="0.7"/>
<rect x="1356.4" y="288.5" width="8.4" height="21" fill="url(#g139)"/>
<rect x="1356.4" y="263" width="8.4" height="9" fill="url(#gbl)" fill-opacity="0.7"/>
<rect x="1468.0" y="288.5" width="8.4" height="21" fill="url(#g139)"/>
<rect x="1468.0" y="263" width="8.4" height="9" fill="url(#gbl)" fill-opacity="0.7"/>
<rect x="1579.6" y="288.5" width="8.4" height="21" fill="url(#g139)"/>
<rect x="1579.6" y="263" width="8.4" height="9" fill="url(#gbl)" fill-opacity="0.7"/>
<rect x="1691.2" y="288.5" width="8.4" height="21" fill="url(#g139)"/>
<rect x="1691.2" y="263" width="8.4" height="9" fill="url(#gbl)" fill-opacity="0.7"/>
<rect x="344.9" y="342.5" width="12.8" height="11" fill="url(#gpk)"/>
<rect x="641.6" y="342.5" width="12.1" height="11" fill="url(#gpk)"/>
<rect x="965" y="342.5" width="9.0" height="11" fill="url(#gpk)"/>
<rect x="504.6" y="343" width="6.0" height="10" fill="url(#gsp2)"/>
<rect x="824.6" y="343" width="2.4" height="10" fill="url(#gsp2)"/>
<rect x="917" y="343" width="2.5" height="10" fill="url(#gsp2)"/>
<rect x="939" y="343" width="3.0" height="10" fill="url(#gsp2)"/>
<rect x="184" y="411" width="2" height="10" fill="url(#gsp)"/>
<rect x="263" y="411" width="2" height="10" fill="url(#gsp2)"/>
<rect x="387" y="411" width="2" height="10" fill="url(#gsp)"/>
<rect x="542" y="411" width="6" height="10" fill="url(#gsp2)"/>
<rect x="559.5" y="411" width="7" height="10" fill="url(#gsp2)"/>
<rect x="593" y="411" width="2" height="10" fill="url(#gsp)"/>
<rect x="649.6" y="411" width="5" height="10" fill="url(#gsp2)"/>
<rect x="659.3" y="411" width="5" height="10" fill="url(#gsp2)"/>
<rect x="682" y="411" width="2" height="10" fill="url(#gsp)"/>
<rect x="713" y="411" width="2" height="10" fill="url(#gsp)"/>
<rect x="805" y="411" width="2" height="10" fill="url(#gsp2)"/>
<rect x="938" y="411" width="2" height="10" fill="url(#gsp)"/>
<rect x="1019" y="411" width="2" height="10" fill="url(#gsp)"/>
<rect x="378" y="345" width="1.5" height="10" fill="url(#gsp)"/>
<rect x="836" y="345" width="1.5" height="10" fill="url(#gsp)"/>
<rect x="1127" y="345" width="2" height="10" fill="url(#gsp)"/>
<rect x="1388" y="411" width="1.5" height="10" fill="url(#gsp)"/>
<rect x="1613.5" y="411" width="1.5" height="10" fill="url(#gsp)"/>
<rect x="1639" y="411" width="1.5" height="10" fill="url(#gsp)"/>
<rect x="1436" y="345" width="3" height="10" fill="url(#gsp2)"/>
<rect x="1747" y="345" width="3" height="10" fill="url(#gsp2)"/>
<rect x="121.5" y="214" width="1.7" height="16" fill="url(#gtl)" fill-opacity="0.66"/><rect x="128.0" y="214" width="1.7" height="16" fill="url(#gtl)" fill-opacity="0.61"/><rect x="133.0" y="214" width="1.7" height="16" fill="url(#gtl)" fill-opacity="0.83"/><rect x="140.4" y="214" width="1.7" height="16" fill="url(#gtl)" fill-opacity="0.98"/><rect x="146.2" y="214" width="1.7" height="16" fill="url(#gtl)" fill-opacity="0.91"/><rect x="151.4" y="214" width="1.7" height="16" fill="url(#gtl)" fill-opacity="0.76"/><rect x="158.0" y="214" width="1.7" height="16" fill="url(#gtl)" fill-opacity="0.73"/><rect x="162.9" y="214" width="1.7" height="16" fill="url(#gtl)" fill-opacity="0.79"/><rect x="167.2" y="214" width="1.7" height="16" fill="url(#gtl)" fill-opacity="0.81"/><rect x="176.7" y="214" width="1.7" height="16" fill="url(#gtl)" fill-opacity="0.87"/><rect x="180.0" y="214" width="1.7" height="16" fill="url(#gtl)" fill-opacity="0.69"/><rect x="183.9" y="214" width="1.7" height="16" fill="url(#gtl)" fill-opacity="0.96"/><rect x="187.8" y="214" width="1.7" height="16" fill="url(#gtl)" fill-opacity="0.71"/><rect x="192.7" y="214" width="1.7" height="16" fill="url(#gtl)" fill-opacity="0.78"/><rect x="199.4" y="214" width="1.7" height="16" fill="url(#gtl)" fill-opacity="0.87"/><rect x="202.8" y="214" width="1.7" height="16" fill="url(#gtl)" fill-opacity="0.78"/><rect x="209.1" y="214" width="1.7" height="16" fill="url(#gtl)" fill-opacity="0.70"/><rect x="214.5" y="214" width="1.7" height="16" fill="url(#gtl)" fill-opacity="0.71"/><rect x="220.5" y="214" width="1.7" height="16" fill="url(#gtl)" fill-opacity="0.72"/><rect x="236.0" y="214" width="1.7" height="16" fill="url(#gtl)" fill-opacity="0.61"/><rect x="245.1" y="214" width="1.7" height="16" fill="url(#gtl)" fill-opacity="0.71"/><rect x="249.6" y="214" width="1.7" height="16" fill="url(#gtl)" fill-opacity="0.96"/><rect x="253.0" y="214" width="1.7" height="16" fill="url(#gtl)" fill-opacity="0.96"/><rect x="257.0" y="214" width="1.7" height="16" fill="url(#gtl)" fill-opacity="0.77"/><rect x="264.0" y="214" width="1.7" height="16" fill="url(#gtl)" fill-opacity="0.94"/><rect x="268.8" y="214" width="1.7" height="16" fill="url(#gtl)" fill-opacity="0.77"/><rect x="273.4" y="214" width="1.7" height="16" fill="url(#gtl)" fill-opacity="0.80"/><rect x="284.4" y="214" width="1.7" height="16" fill="url(#gtl)" fill-opacity="0.79"/><rect x="287.7" y="214" width="1.7" height="16" fill="url(#gtl)" fill-opacity="0.72"/><rect x="303.5" y="214" width="1.7" height="16" fill="url(#gtl)" fill-opacity="0.69"/><rect x="307.3" y="214" width="1.7" height="16" fill="url(#gtl)" fill-opacity="0.85"/><rect x="313.2" y="214" width="1.7" height="16" fill="url(#gtl)" fill-opacity="0.78"/><rect x="315.9" y="214" width="1.7" height="16" fill="url(#gtl)" fill-opacity="0.65"/><rect x="321.6" y="214" width="1.7" height="16" fill="url(#gtl)" fill-opacity="0.63"/><rect x="330.6" y="214" width="1.7" height="16" fill="url(#gtl)" fill-opacity="0.77"/><rect x="335.6" y="214" width="1.7" height="16" fill="url(#gtl)" fill-opacity="0.74"/><rect x="341.8" y="214" width="1.7" height="16" fill="url(#gtl)" fill-opacity="0.76"/><rect x="346.6" y="214" width="1.7" height="16" fill="url(#gtl)" fill-opacity="0.75"/><rect x="353.6" y="214" width="1.7" height="16" fill="url(#gtl)" fill-opacity="0.60"/><rect x="360.5" y="214" width="1.7" height="16" fill="url(#gtl)" fill-opacity="0.64"/><rect x="365.2" y="214" width="1.7" height="16" fill="url(#gtl)" fill-opacity="0.64"/><rect x="368.1" y="214" width="1.7" height="16" fill="url(#gtl)" fill-opacity="0.76"/><rect x="374.5" y="214" width="1.7" height="16" fill="url(#gtl)" fill-opacity="0.73"/><rect x="391.5" y="214" width="1.7" height="16" fill="url(#gtl)" fill-opacity="0.79"/><rect x="393.1" y="214" width="1.7" height="16" fill="url(#gtl)" fill-opacity="0.90"/><rect x="406.1" y="214" width="1.7" height="16" fill="url(#gtl)" fill-opacity="0.65"/><rect x="411.2" y="214" width="1.7" height="16" fill="url(#gtl)" fill-opacity="0.98"/><rect x="415.7" y="214" width="1.7" height="16" fill="url(#gtl)" fill-opacity="0.61"/><rect x="422.8" y="214" width="1.7" height="16" fill="url(#gtl)" fill-opacity="0.78"/><rect x="433.2" y="214" width="1.7" height="16" fill="url(#gtl)" fill-opacity="0.88"/><rect x="436.7" y="214" width="1.7" height="16" fill="url(#gtl)" fill-opacity="0.96"/><rect x="440.7" y="214" width="1.7" height="16" fill="url(#gtl)" fill-opacity="1.00"/><rect x="448.2" y="214" width="1.7" height="16" fill="url(#gtl)" fill-opacity="0.77"/><rect x="451.8" y="214" width="1.7" height="16" fill="url(#gtl)" fill-opacity="0.86"/><rect x="454.7" y="214" width="1.7" height="16" fill="url(#gtl)" fill-opacity="0.97"/><rect x="462.3" y="214" width="1.7" height="16" fill="url(#gtl)" fill-opacity="0.93"/><rect x="472.7" y="214" width="1.7" height="16" fill="url(#gtl)" fill-opacity="0.78"/><rect x="477.9" y="214" width="1.7" height="16" fill="url(#gtl)" fill-opacity="0.80"/><rect x="482.9" y="214" width="1.7" height="16" fill="url(#gtl)" fill-opacity="0.91"/><rect x="493.7" y="214" width="1.7" height="16" fill="url(#gtl)" fill-opacity="0.74"/><rect x="497.3" y="214" width="1.7" height="16" fill="url(#gtl)" fill-opacity="0.78"/><rect x="507.8" y="214" width="1.7" height="16" fill="url(#gtl)" fill-opacity="0.91"/><rect x="516.1" y="214" width="1.7" height="16" fill="url(#gtl)" fill-opacity="0.94"/><rect x="519.7" y="214" width="1.7" height="16" fill="url(#gtl)" fill-opacity="0.67"/><rect x="524.3" y="214" width="1.7" height="16" fill="url(#gtl)" fill-opacity="0.68"/><rect x="534.3" y="214" width="1.7" height="16" fill="url(#gtl)" fill-opacity="0.98"/><rect x="542.0" y="214" width="1.7" height="16" fill="url(#gtl)" fill-opacity="0.74"/><rect x="552.3" y="214" width="1.7" height="16" fill="url(#gtl)" fill-opacity="0.91"/><rect x="555.1" y="214" width="1.7" height="16" fill="url(#gtl)" fill-opacity="0.66"/><rect x="560.2" y="214" width="1.7" height="16" fill="url(#gtl)" fill-opacity="0.66"/><rect x="569.1" y="214" width="1.7" height="16" fill="url(#gtl)" fill-opacity="0.73"/><rect x="585.0" y="214" width="1.7" height="16" fill="url(#gtl)" fill-opacity="0.61"/><rect x="591.7" y="214" width="1.7" height="16" fill="url(#gtl)" fill-opacity="0.69"/><rect x="594.2" y="214" width="1.7" height="16" fill="url(#gtl)" fill-opacity="0.95"/><rect x="602.1" y="214" width="1.7" height="16" fill="url(#gtl)" fill-opacity="1.00"/><rect x="605.8" y="214" width="1.7" height="16" fill="url(#gtl)" fill-opacity="0.75"/><rect x="612.5" y="214" width="1.7" height="16" fill="url(#gtl)" fill-opacity="0.95"/><rect x="621.5" y="214" width="1.7" height="16" fill="url(#gtl)" fill-opacity="0.67"/><rect x="631.5" y="214" width="1.7" height="16" fill="url(#gtl)" fill-opacity="0.73"/><rect x="640.9" y="214" width="1.7" height="16" fill="url(#gtl)" fill-opacity="0.80"/><rect x="651.8" y="214" width="1.7" height="16" fill="url(#gtl)" fill-opacity="0.63"/><rect x="655.1" y="214" width="1.7" height="16" fill="url(#gtl)" fill-opacity="0.73"/><rect x="666.6" y="214" width="1.7" height="16" fill="url(#gtl)" fill-opacity="0.66"/><rect x="671.3" y="214" width="1.7" height="16" fill="url(#gtl)" fill-opacity="0.61"/><rect x="675.4" y="214" width="1.7" height="16" fill="url(#gtl)" fill-opacity="0.61"/><rect x="695.9" y="214" width="1.7" height="16" fill="url(#gtl)" fill-opacity="0.77"/><rect x="700.3" y="214" width="1.7" height="16" fill="url(#gtl)" fill-opacity="0.99"/><rect x="706.0" y="214" width="1.7" height="16" fill="url(#gtl)" fill-opacity="0.99"/><rect x="710.0" y="214" width="1.7" height="16" fill="url(#gtl)" fill-opacity="0.75"/><rect x="726.5" y="214" width="1.7" height="16" fill="url(#gtl)" fill-opacity="0.95"/><rect x="732.7" y="214" width="1.7" height="16" fill="url(#gtl)" fill-opacity="0.98"/><rect x="738.0" y="214" width="1.7" height="16" fill="url(#gtl)" fill-opacity="0.90"/><rect x="739.7" y="214" width="1.7" height="16" fill="url(#gtl)" fill-opacity="0.91"/><rect x="745.3" y="214" width="1.7" height="16" fill="url(#gtl)" fill-opacity="0.90"/><rect x="754.5" y="214" width="1.7" height="16" fill="url(#gtl)" fill-opacity="0.90"/><rect x="758.1" y="214" width="1.7" height="16" fill="url(#gtl)" fill-opacity="0.73"/><rect x="763.2" y="214" width="1.7" height="16" fill="url(#gtl)" fill-opacity="0.86"/><rect x="772.3" y="214" width="1.7" height="16" fill="url(#gtl)" fill-opacity="0.75"/><rect x="777.0" y="214" width="1.7" height="16" fill="url(#gtl)" fill-opacity="0.75"/><rect x="779.0" y="214" width="1.7" height="16" fill="url(#gtl)" fill-opacity="0.62"/><rect x="786.1" y="214" width="1.7" height="16" fill="url(#gtl)" fill-opacity="0.80"/><rect x="795.3" y="214" width="1.7" height="16" fill="url(#gtl)" fill-opacity="0.92"/><rect x="800.6" y="214" width="1.7" height="16" fill="url(#gtl)" fill-opacity="0.95"/><rect x="808.5" y="214" width="1.7" height="16" fill="url(#gtl)" fill-opacity="0.88"/><rect x="814.9" y="214" width="1.7" height="16" fill="url(#gtl)" fill-opacity="0.75"/><rect x="817.5" y="214" width="1.7" height="16" fill="url(#gtl)" fill-opacity="0.98"/><rect x="822.7" y="214" width="1.7" height="16" fill="url(#gtl)" fill-opacity="0.96"/><rect x="824.3" y="214" width="1.7" height="16" fill="url(#gtl)" fill-opacity="0.91"/><rect x="836.7" y="214" width="1.7" height="16" fill="url(#gtl)" fill-opacity="0.69"/><rect x="841.9" y="214" width="1.7" height="16" fill="url(#gtl)" fill-opacity="0.95"/><rect x="847.8" y="214" width="1.7" height="16" fill="url(#gtl)" fill-opacity="0.83"/><rect x="854.6" y="214" width="1.7" height="16" fill="url(#gtl)" fill-opacity="0.62"/><rect x="859.1" y="214" width="1.7" height="16" fill="url(#gtl)" fill-opacity="0.97"/><rect x="867.9" y="214" width="1.7" height="16" fill="url(#gtl)" fill-opacity="0.73"/><rect x="889.4" y="214" width="1.7" height="16" fill="url(#gtl)" fill-opacity="0.69"/><rect x="896.2" y="214" width="1.7" height="16" fill="url(#gtl)" fill-opacity="0.62"/><rect x="900.3" y="214" width="1.7" height="16" fill="url(#gtl)" fill-opacity="0.80"/><rect x="905.3" y="214" width="1.7" height="16" fill="url(#gtl)" fill-opacity="0.92"/><rect x="909.4" y="214" width="1.7" height="16" fill="url(#gtl)" fill-opacity="0.62"/><rect x="916.6" y="214" width="1.7" height="16" fill="url(#gtl)" fill-opacity="0.75"/><rect x="920.0" y="214" width="1.7" height="16" fill="url(#gtl)" fill-opacity="0.61"/><rect x="927.2" y="214" width="1.7" height="16" fill="url(#gtl)" fill-opacity="0.78"/><rect x="938.5" y="214" width="1.7" height="16" fill="url(#gtl)" fill-opacity="0.76"/><rect x="949.2" y="214" width="1.7" height="16" fill="url(#gtl)" fill-opacity="0.63"/><rect x="960.4" y="214" width="1.7" height="16" fill="url(#gtl)" fill-opacity="0.72"/><rect x="962.8" y="214" width="1.7" height="16" fill="url(#gtl)" fill-opacity="0.90"/><rect x="969.5" y="214" width="1.7" height="16" fill="url(#gtl)" fill-opacity="0.63"/><rect x="975.1" y="214" width="1.7" height="16" fill="url(#gtl)" fill-opacity="0.70"/><rect x="978.1" y="214" width="1.7" height="16" fill="url(#gtl)" fill-opacity="0.97"/><rect x="984.2" y="214" width="1.7" height="16" fill="url(#gtl)" fill-opacity="0.86"/><rect x="987.5" y="214" width="1.7" height="16" fill="url(#gtl)" fill-opacity="0.93"/><rect x="992.7" y="214" width="1.7" height="16" fill="url(#gtl)" fill-opacity="0.95"/><rect x="1012.7" y="214" width="1.7" height="16" fill="url(#gtl)" fill-opacity="0.66"/><rect x="1018.4" y="214" width="1.7" height="16" fill="url(#gtl)" fill-opacity="0.67"/><rect x="1021.9" y="214" width="1.7" height="16" fill="url(#gtl)" fill-opacity="0.80"/><rect x="1024.5" y="214" width="1.7" height="16" fill="url(#gtl)" fill-opacity="0.75"/><rect x="1029.2" y="214" width="1.7" height="16" fill="url(#gtl)" fill-opacity="0.86"/><rect x="1036.9" y="214" width="1.7" height="16" fill="url(#gtl)" fill-opacity="0.87"/><rect x="1046.9" y="214" width="1.7" height="16" fill="url(#gtl)" fill-opacity="0.62"/><rect x="1068.3" y="214" width="1.7" height="16" fill="url(#gtl)" fill-opacity="0.60"/><rect x="1071.5" y="214" width="1.7" height="16" fill="url(#gtl)" fill-opacity="0.90"/><rect x="1076.4" y="214" width="1.7" height="16" fill="url(#gtl)" fill-opacity="0.76"/><rect x="1083.0" y="214" width="1.7" height="16" fill="url(#gtl)" fill-opacity="0.70"/><rect x="1086.4" y="214" width="1.7" height="16" fill="url(#gtl)" fill-opacity="0.68"/><rect x="1091.2" y="214" width="1.7" height="16" fill="url(#gtl)" fill-opacity="0.92"/><rect x="1100.5" y="214" width="1.7" height="16" fill="url(#gtl)" fill-opacity="0.62"/><rect x="1104.6" y="214" width="1.7" height="16" fill="url(#gtl)" fill-opacity="0.97"/><rect x="1114.1" y="214" width="1.7" height="16" fill="url(#gtl)" fill-opacity="0.72"/><rect x="1125.0" y="214" width="1.7" height="16" fill="url(#gtl)" fill-opacity="0.64"/><rect x="1130.2" y="214" width="1.7" height="16" fill="url(#gtl)" fill-opacity="0.70"/><rect x="1136.4" y="214" width="1.7" height="16" fill="url(#gtl)" fill-opacity="0.78"/><rect x="1139.9" y="214" width="1.7" height="16" fill="url(#gtl)" fill-opacity="0.71"/><rect x="1147.0" y="214" width="1.7" height="16" fill="url(#gtl)" fill-opacity="0.65"/><rect x="1153.1" y="214" width="1.7" height="16" fill="url(#gtl)" fill-opacity="0.83"/><rect x="1157.4" y="214" width="1.7" height="16" fill="url(#gtl)" fill-opacity="0.81"/><rect x="1162.9" y="214" width="1.7" height="16" fill="url(#gtl)" fill-opacity="0.80"/><rect x="1175.1" y="214" width="1.7" height="16" fill="url(#gtl)" fill-opacity="0.83"/><rect x="1185.0" y="214" width="1.7" height="16" fill="url(#gtl)" fill-opacity="0.90"/><rect x="1190.4" y="214" width="1.7" height="16" fill="url(#gtl)" fill-opacity="0.65"/><rect x="1195.4" y="214" width="1.7" height="16" fill="url(#gtl)" fill-opacity="0.95"/><rect x="1212.2" y="214" width="1.7" height="16" fill="url(#gtl)" fill-opacity="0.99"/><rect x="1215.2" y="214" width="1.7" height="16" fill="url(#gtl)" fill-opacity="0.81"/><rect x="1220.0" y="214" width="1.7" height="16" fill="url(#gtl)" fill-opacity="0.86"/><rect x="1225.2" y="214" width="1.7" height="16" fill="url(#gtl)" fill-opacity="0.60"/><rect x="1233.4" y="214" width="1.7" height="16" fill="url(#gtl)" fill-opacity="0.93"/><rect x="1239.2" y="214" width="1.7" height="16" fill="url(#gtl)" fill-opacity="0.87"/><rect x="1246.5" y="214" width="1.7" height="16" fill="url(#gtl)" fill-opacity="0.95"/><rect x="1260.5" y="214" width="1.7" height="16" fill="url(#gtl)" fill-opacity="0.92"/><rect x="1272.8" y="214" width="1.7" height="16" fill="url(#gtl)" fill-opacity="0.79"/><rect x="1285.8" y="214" width="1.7" height="16" fill="url(#gtl)" fill-opacity="0.93"/><rect x="1297.1" y="214" width="1.7" height="16" fill="url(#gtl)" fill-opacity="0.91"/><rect x="1301.7" y="214" width="1.7" height="16" fill="url(#gtl)" fill-opacity="0.75"/><rect x="1308.4" y="214" width="1.7" height="16" fill="url(#gtl)" fill-opacity="0.61"/><rect x="1316.0" y="214" width="1.7" height="16" fill="url(#gtl)" fill-opacity="0.80"/><rect x="1320.2" y="214" width="1.7" height="16" fill="url(#gtl)" fill-opacity="0.70"/><rect x="1323.3" y="214" width="1.7" height="16" fill="url(#gtl)" fill-opacity="0.94"/><rect x="1328.5" y="214" width="1.7" height="16" fill="url(#gtl)" fill-opacity="0.98"/><rect x="1331.9" y="214" width="1.7" height="16" fill="url(#gtl)" fill-opacity="0.98"/><rect x="1341.7" y="214" width="1.7" height="16" fill="url(#gtl)" fill-opacity="0.90"/><rect x="1353.3" y="214" width="1.7" height="16" fill="url(#gtl)" fill-opacity="0.93"/><rect x="1358.0" y="214" width="1.7" height="16" fill="url(#gtl)" fill-opacity="0.72"/><rect x="1360.6" y="214" width="1.7" height="16" fill="url(#gtl)" fill-opacity="0.94"/><rect x="1366.9" y="214" width="1.7" height="16" fill="url(#gtl)" fill-opacity="0.81"/><rect x="1374.4" y="214" width="1.7" height="16" fill="url(#gtl)" fill-opacity="0.88"/><rect x="1382.6" y="214" width="1.7" height="16" fill="url(#gtl)" fill-opacity="0.86"/><rect x="1392.8" y="214" width="1.7" height="16" fill="url(#gtl)" fill-opacity="0.93"/><rect x="1406.0" y="214" width="1.7" height="16" fill="url(#gtl)" fill-opacity="0.78"/><rect x="1408.9" y="214" width="1.7" height="16" fill="url(#gtl)" fill-opacity="0.70"/><rect x="1419.2" y="214" width="1.7" height="16" fill="url(#gtl)" fill-opacity="0.85"/><rect x="1427.4" y="214" width="1.7" height="16" fill="url(#gtl)" fill-opacity="0.76"/><rect x="1435.8" y="214" width="1.7" height="16" fill="url(#gtl)" fill-opacity="0.67"/><rect x="1439.7" y="214" width="1.7" height="16" fill="url(#gtl)" fill-opacity="0.99"/><rect x="1456.9" y="214" width="1.7" height="16" fill="url(#gtl)" fill-opacity="0.97"/><rect x="1460.7" y="214" width="1.7" height="16" fill="url(#gtl)" fill-opacity="0.74"/><rect x="1471.4" y="214" width="1.7" height="16" fill="url(#gtl)" fill-opacity="0.68"/><rect x="1474.8" y="214" width="1.7" height="16" fill="url(#gtl)" fill-opacity="0.79"/><rect x="1481.8" y="214" width="1.7" height="16" fill="url(#gtl)" fill-opacity="0.90"/><rect x="1485.8" y="214" width="1.7" height="16" fill="url(#gtl)" fill-opacity="0.63"/><rect x="1492.1" y="214" width="1.7" height="16" fill="url(#gtl)" fill-opacity="0.81"/><rect x="1510.5" y="214" width="1.7" height="16" fill="url(#gtl)" fill-opacity="0.67"/><rect x="1514.5" y="214" width="1.7" height="16" fill="url(#gtl)" fill-opacity="0.77"/><rect x="1518.0" y="214" width="1.7" height="16" fill="url(#gtl)" fill-opacity="0.94"/><rect x="1525.3" y="214" width="1.7" height="16" fill="url(#gtl)" fill-opacity="0.94"/><rect x="1531.2" y="214" width="1.7" height="16" fill="url(#gtl)" fill-opacity="0.62"/><rect x="1535.8" y="214" width="1.7" height="16" fill="url(#gtl)" fill-opacity="0.65"/><rect x="1539.1" y="214" width="1.7" height="16" fill="url(#gtl)" fill-opacity="0.77"/><rect x="1555.3" y="214" width="1.7" height="16" fill="url(#gtl)" fill-opacity="0.88"/><rect x="1563.3" y="214" width="1.7" height="16" fill="url(#gtl)" fill-opacity="0.65"/><rect x="1568.7" y="214" width="1.7" height="16" fill="url(#gtl)" fill-opacity="0.64"/><rect x="1572.6" y="214" width="1.7" height="16" fill="url(#gtl)" fill-opacity="0.96"/><rect x="1575.9" y="214" width="1.7" height="16" fill="url(#gtl)" fill-opacity="0.67"/><rect x="1582.5" y="214" width="1.7" height="16" fill="url(#gtl)" fill-opacity="0.75"/><rect x="1589.1" y="214" width="1.7" height="16" fill="url(#gtl)" fill-opacity="0.90"/><rect x="1603.1" y="214" width="1.7" height="16" fill="url(#gtl)" fill-opacity="0.93"/><rect x="1607.8" y="214" width="1.7" height="16" fill="url(#gtl)" fill-opacity="0.67"/><rect x="1612.1" y="214" width="1.7" height="16" fill="url(#gtl)" fill-opacity="0.75"/><rect x="1618.1" y="214" width="1.7" height="16" fill="url(#gtl)" fill-opacity="0.85"/><rect x="1627.5" y="214" width="1.7" height="16" fill="url(#gtl)" fill-opacity="0.97"/><rect x="1631.1" y="214" width="1.7" height="16" fill="url(#gtl)" fill-opacity="0.94"/><rect x="1635.6" y="214" width="1.7" height="16" fill="url(#gtl)" fill-opacity="0.79"/><rect x="1643.2" y="214" width="1.7" height="16" fill="url(#gtl)" fill-opacity="0.98"/><rect x="1658.9" y="214" width="1.7" height="16" fill="url(#gtl)" fill-opacity="0.72"/><rect x="1664.2" y="214" width="1.7" height="16" fill="url(#gtl)" fill-opacity="0.66"/><rect x="1665.8" y="214" width="1.7" height="16" fill="url(#gtl)" fill-opacity="0.69"/><rect x="1678.6" y="214" width="1.7" height="16" fill="url(#gtl)" fill-opacity="0.70"/><rect x="1683.2" y="214" width="1.7" height="16" fill="url(#gtl)" fill-opacity="0.68"/><rect x="1688.4" y="214" width="1.7" height="16" fill="url(#gtl)" fill-opacity="0.75"/><rect x="1694.5" y="214" width="1.7" height="16" fill="url(#gtl)" fill-opacity="0.96"/><rect x="1697.3" y="214" width="1.7" height="16" fill="url(#gtl)" fill-opacity="0.96"/><rect x="1705.0" y="214" width="1.7" height="16" fill="url(#gtl)" fill-opacity="0.76"/><rect x="1710.7" y="214" width="1.7" height="16" fill="url(#gtl)" fill-opacity="0.98"/><rect x="1717.4" y="214" width="1.7" height="16" fill="url(#gtl)" fill-opacity="0.69"/><rect x="1726.0" y="214" width="1.7" height="16" fill="url(#gtl)" fill-opacity="0.64"/><rect x="1735.2" y="214" width="1.7" height="16" fill="url(#gtl)" fill-opacity="0.77"/><rect x="1745.8" y="214" width="1.7" height="16" fill="url(#gtl)" fill-opacity="0.89"/><rect x="1749.6" y="214" width="1.7" height="16" fill="url(#gtl)" fill-opacity="0.94"/><rect x="1757.4" y="214" width="1.7" height="16" fill="url(#gtl)" fill-opacity="0.87"/><rect x="1758.7" y="214" width="1.7" height="16" fill="url(#gtl)" fill-opacity="0.61"/><rect x="1762.3" y="214" width="1.7" height="16" fill="url(#gtl)" fill-opacity="0.67"/><rect x="1772.5" y="214" width="1.7" height="16" fill="url(#gtl)" fill-opacity="0.64"/><rect x="1777.9" y="214" width="1.7" height="16" fill="url(#gtl)" fill-opacity="0.94"/><rect x="1783.7" y="214" width="1.7" height="16" fill="url(#gtl)" fill-opacity="0.98"/><rect x="1790.6" y="214" width="1.7" height="16" fill="url(#gtl)" fill-opacity="0.63"/>
<rect x="122.5" y="223.2" width="1.45" height="23" fill="url(#gsp)" fill-opacity="1.0"/><rect x="126.7" y="221.9" width="1.45" height="23" fill="url(#gsp)" fill-opacity="1.0"/><rect x="133.1" y="223.2" width="1.45" height="23" fill="url(#gsp)" fill-opacity="1.0"/><rect x="137.1" y="221.8" width="1.45" height="23" fill="url(#gsp)" fill-opacity="0.75"/><rect x="140.4" y="221.7" width="1.45" height="23" fill="url(#gsp2)" fill-opacity="0.9"/><rect x="146.8" y="222.5" width="1.45" height="23" fill="url(#gsp)" fill-opacity="1.0"/><rect x="152.8" y="222.4" width="1.45" height="23" fill="url(#gsp)" fill-opacity="0.75"/><rect x="158.2" y="222.7" width="1.45" height="23" fill="url(#gsp)" fill-opacity="0.75"/><rect x="162.6" y="222.3" width="1.45" height="23" fill="url(#gsp)" fill-opacity="1.0"/><rect x="166.2" y="221.6" width="1.45" height="23" fill="url(#gsp)" fill-opacity="0.75"/><rect x="170.9" y="222.3" width="1.45" height="23" fill="url(#gsp)" fill-opacity="0.75"/><rect x="175.2" y="222.3" width="1.45" height="23" fill="url(#gsp2)" fill-opacity="0.9"/><rect x="179.9" y="221.9" width="1.45" height="23" fill="url(#gsp)" fill-opacity="1.0"/><rect x="185.2" y="223.0" width="1.45" height="23" fill="url(#gsp)" fill-opacity="0.75"/><rect x="188.6" y="221.7" width="1.45" height="23" fill="url(#gsp2)" fill-opacity="0.9"/><rect x="193.4" y="222.4" width="1.45" height="23" fill="url(#gsp)" fill-opacity="0.75"/><rect x="199.3" y="222.5" width="1.45" height="23" fill="url(#gsp)" fill-opacity="0.75"/><rect x="203.3" y="221.7" width="1.45" height="23" fill="url(#gsp)" fill-opacity="0.75"/><rect x="207.8" y="221.9" width="1.45" height="23" fill="url(#gsp)" fill-opacity="1.0"/><rect x="213.9" y="221.9" width="1.45" height="23" fill="url(#gsp2)" fill-opacity="0.9"/><rect x="219.6" y="222.2" width="1.45" height="23" fill="url(#gsp)" fill-opacity="0.75"/><rect x="225.2" y="223.4" width="1.45" height="23" fill="url(#gsp)" fill-opacity="1.0"/><rect x="229.1" y="221.9" width="1.45" height="23" fill="url(#gsp2)" fill-opacity="0.9"/><rect x="232.3" y="222.7" width="1.45" height="23" fill="url(#gsp)" fill-opacity="1.0"/><rect x="235.9" y="223.2" width="1.45" height="23" fill="url(#gsp)" fill-opacity="1.0"/><rect x="240.5" y="222.7" width="1.45" height="23" fill="url(#gsp2)" fill-opacity="0.9"/><rect x="245.8" y="222.4" width="1.45" height="23" fill="url(#gsp)" fill-opacity="0.75"/><rect x="249.2" y="223.2" width="1.45" height="23" fill="url(#gsp)" fill-opacity="0.75"/><rect x="252.5" y="223.3" width="1.45" height="23" fill="url(#gsp)" fill-opacity="1.0"/><rect x="258.1" y="223.5" width="1.45" height="23" fill="url(#gsp)" fill-opacity="0.75"/><rect x="264.5" y="222.4" width="1.45" height="23" fill="url(#gsp)" fill-opacity="1.0"/><rect x="268.5" y="221.8" width="1.45" height="23" fill="url(#gsp)" fill-opacity="1.0"/><rect x="272.9" y="223.2" width="1.45" height="23" fill="url(#gsp)" fill-opacity="0.75"/><rect x="278.0" y="223.2" width="1.45" height="23" fill="url(#gsp2)" fill-opacity="0.9"/><rect x="283.8" y="222.6" width="1.45" height="23" fill="url(#gsp)" fill-opacity="1.0"/><rect x="288.2" y="222.4" width="1.45" height="23" fill="url(#gsp)" fill-opacity="1.0"/><rect x="294.5" y="222.3" width="1.45" height="23" fill="url(#gsp)" fill-opacity="1.0"/><rect x="298.2" y="223.0" width="1.45" height="23" fill="url(#gsp)" fill-opacity="0.75"/><rect x="304.4" y="222.3" width="1.45" height="23" fill="url(#gsp)" fill-opacity="1.0"/><rect x="307.9" y="222.0" width="1.45" height="23" fill="url(#gsp)" fill-opacity="1.0"/><rect x="313.0" y="222.3" width="1.45" height="23" fill="url(#gsp)" fill-opacity="1.0"/><rect x="317.2" y="221.8" width="1.45" height="23" fill="url(#gsp)" fill-opacity="1.0"/><rect x="322.1" y="221.9" width="1.45" height="23" fill="url(#gsp)" fill-opacity="0.75"/><rect x="327.5" y="223.0" width="1.45" height="23" fill="url(#gsp)" fill-opacity="1.0"/><rect x="330.9" y="221.5" width="1.45" height="23" fill="url(#gsp2)" fill-opacity="0.9"/><rect x="334.6" y="222.5" width="1.45" height="23" fill="url(#gsp)" fill-opacity="1.0"/><rect x="338.0" y="221.6" width="1.45" height="23" fill="url(#gsp)" fill-opacity="1.0"/><rect x="341.7" y="223.4" width="1.45" height="23" fill="url(#gsp)" fill-opacity="1.0"/><rect x="345.9" y="223.4" width="1.45" height="23" fill="url(#gsp)" fill-opacity="1.0"/><rect x="350.6" y="222.0" width="1.45" height="23" fill="url(#gsp2)" fill-opacity="0.9"/><rect x="354.2" y="222.0" width="1.45" height="23" fill="url(#gsp)" fill-opacity="0.75"/><rect x="359.3" y="222.6" width="1.45" height="23" fill="url(#gsp)" fill-opacity="0.75"/><rect x="364.2" y="222.5" width="1.45" height="23" fill="url(#gsp)" fill-opacity="0.75"/><rect x="367.7" y="223.0" width="1.45" height="23" fill="url(#gsp)" fill-opacity="1.0"/><rect x="371.8" y="222.0" width="1.45" height="23" fill="url(#gsp)" fill-opacity="0.75"/><rect x="375.6" y="221.8" width="1.45" height="23" fill="url(#gsp)" fill-opacity="1.0"/><rect x="380.1" y="223.0" width="1.45" height="23" fill="url(#gsp2)" fill-opacity="0.9"/><rect x="384.0" y="221.5" width="1.45" height="23" fill="url(#gsp)" fill-opacity="1.0"/><rect x="390.0" y="222.4" width="1.45" height="23" fill="url(#gsp)" fill-opacity="0.75"/><rect x="393.9" y="221.8" width="1.45" height="23" fill="url(#gsp)" fill-opacity="1.0"/><rect x="400.0" y="222.7" width="1.45" height="23" fill="url(#gsp2)" fill-opacity="0.9"/><rect x="405.0" y="221.9" width="1.45" height="23" fill="url(#gsp)" fill-opacity="1.0"/><rect x="411.1" y="221.6" width="1.45" height="23" fill="url(#gsp2)" fill-opacity="0.9"/><rect x="416.9" y="222.7" width="1.45" height="23" fill="url(#gsp)" fill-opacity="0.75"/><rect x="421.4" y="223.5" width="1.45" height="23" fill="url(#gsp)" fill-opacity="1.0"/><rect x="427.7" y="221.8" width="1.45" height="23" fill="url(#gsp)" fill-opacity="0.75"/><rect x="432.1" y="223.2" width="1.45" height="23" fill="url(#gsp)" fill-opacity="1.0"/><rect x="436.1" y="222.4" width="1.45" height="23" fill="url(#gsp2)" fill-opacity="0.9"/><rect x="442.1" y="222.0" width="1.45" height="23" fill="url(#gsp)" fill-opacity="1.0"/><rect x="447.4" y="222.5" width="1.45" height="23" fill="url(#gsp2)" fill-opacity="0.9"/><rect x="451.1" y="222.0" width="1.45" height="23" fill="url(#gsp)" fill-opacity="1.0"/><rect x="454.9" y="222.5" width="1.45" height="23" fill="url(#gsp)" fill-opacity="1.0"/><rect x="458.3" y="222.9" width="1.45" height="23" fill="url(#gsp)" fill-opacity="0.75"/><rect x="461.8" y="222.1" width="1.45" height="23" fill="url(#gsp)" fill-opacity="1.0"/><rect x="465.3" y="222.4" width="1.45" height="23" fill="url(#gsp2)" fill-opacity="0.9"/><rect x="471.4" y="223.1" width="1.45" height="23" fill="url(#gsp)" fill-opacity="1.0"/><rect x="477.7" y="222.2" width="1.45" height="23" fill="url(#gsp2)" fill-opacity="0.9"/><rect x="483.0" y="221.9" width="1.45" height="23" fill="url(#gsp)" fill-opacity="1.0"/><rect x="487.9" y="222.6" width="1.45" height="23" fill="url(#gsp)" fill-opacity="1.0"/><rect x="492.6" y="222.6" width="1.45" height="23" fill="url(#gsp2)" fill-opacity="0.9"/><rect x="496.4" y="222.4" width="1.45" height="23" fill="url(#gsp)" fill-opacity="1.0"/><rect x="501.9" y="221.9" width="1.45" height="23" fill="url(#gsp)" fill-opacity="1.0"/><rect x="507.7" y="222.4" width="1.45" height="23" fill="url(#gsp)" fill-opacity="0.75"/><rect x="513.2" y="223.3" width="1.45" height="23" fill="url(#gsp)" fill-opacity="0.75"/><rect x="516.5" y="222.0" width="1.45" height="23" fill="url(#gsp2)" fill-opacity="0.9"/><rect x="519.7" y="222.1" width="1.45" height="23" fill="url(#gsp2)" fill-opacity="0.9"/><rect x="525.1" y="223.2" width="1.45" height="23" fill="url(#gsp)" fill-opacity="1.0"/><rect x="529.8" y="222.0" width="1.45" height="23" fill="url(#gsp2)" fill-opacity="0.9"/><rect x="535.7" y="222.4" width="1.45" height="23" fill="url(#gsp2)" fill-opacity="0.9"/><rect x="541.5" y="221.8" width="1.45" height="23" fill="url(#gsp2)" fill-opacity="0.9"/><rect x="545.5" y="221.8" width="1.45" height="23" fill="url(#gsp)" fill-opacity="1.0"/><rect x="551.1" y="222.7" width="1.45" height="23" fill="url(#gsp)" fill-opacity="1.0"/><rect x="556.0" y="221.7" width="1.45" height="23" fill="url(#gsp)" fill-opacity="1.0"/><rect x="559.7" y="223.1" width="1.45" height="23" fill="url(#gsp)" fill-opacity="1.0"/><rect x="565.9" y="223.2" width="1.45" height="23" fill="url(#gsp)" fill-opacity="1.0"/><rect x="570.6" y="222.1" width="1.45" height="23" fill="url(#gsp)" fill-opacity="1.0"/><rect x="576.2" y="222.6" width="1.45" height="23" fill="url(#gsp)" fill-opacity="0.75"/><rect x="581.4" y="221.5" width="1.45" height="23" fill="url(#gsp2)" fill-opacity="0.9"/><rect x="585.1" y="222.2" width="1.45" height="23" fill="url(#gsp)" fill-opacity="1.0"/><rect x="590.8" y="221.6" width="1.45" height="23" fill="url(#gsp2)" fill-opacity="0.9"/><rect x="595.4" y="222.5" width="1.45" height="23" fill="url(#gsp2)" fill-opacity="0.9"/><rect x="600.6" y="221.8" width="1.45" height="23" fill="url(#gsp)" fill-opacity="1.0"/><rect x="606.1" y="223.2" width="1.45" height="23" fill="url(#gsp2)" fill-opacity="0.9"/><rect x="611.7" y="223.3" width="1.45" height="23" fill="url(#gsp)" fill-opacity="1.0"/><rect x="616.3" y="222.5" width="1.45" height="23" fill="url(#gsp2)" fill-opacity="0.9"/><rect x="620.5" y="221.7" width="1.45" height="23" fill="url(#gsp)" fill-opacity="1.0"/><rect x="625.5" y="222.7" width="1.45" height="23" fill="url(#gsp)" fill-opacity="0.75"/><rect x="630.3" y="222.4" width="1.45" height="23" fill="url(#gsp)" fill-opacity="0.75"/><rect x="635.9" y="221.5" width="1.45" height="23" fill="url(#gsp)" fill-opacity="0.75"/><rect x="641.2" y="221.8" width="1.45" height="23" fill="url(#gsp)" fill-opacity="1.0"/><rect x="646.6" y="222.7" width="1.45" height="23" fill="url(#gsp)" fill-opacity="0.75"/><rect x="651.0" y="222.9" width="1.45" height="23" fill="url(#gsp2)" fill-opacity="0.9"/><rect x="654.6" y="221.8" width="1.45" height="23" fill="url(#gsp)" fill-opacity="0.75"/><rect x="660.9" y="223.2" width="1.45" height="23" fill="url(#gsp)" fill-opacity="1.0"/><rect x="666.0" y="222.8" width="1.45" height="23" fill="url(#gsp)" fill-opacity="1.0"/><rect x="670.4" y="222.3" width="1.45" height="23" fill="url(#gsp)" fill-opacity="0.75"/><rect x="674.6" y="221.5" width="1.45" height="23" fill="url(#gsp)" fill-opacity="1.0"/><rect x="679.0" y="222.4" width="1.45" height="23" fill="url(#gsp)" fill-opacity="0.75"/><rect x="683.8" y="222.5" width="1.45" height="23" fill="url(#gsp)" fill-opacity="0.75"/><rect x="688.7" y="223.3" width="1.45" height="23" fill="url(#gsp2)" fill-opacity="0.9"/><rect x="694.6" y="223.0" width="1.45" height="23" fill="url(#gsp)" fill-opacity="0.75"/><rect x="700.8" y="223.0" width="1.45" height="23" fill="url(#gsp)" fill-opacity="0.75"/><rect x="706.7" y="222.8" width="1.45" height="23" fill="url(#gsp)" fill-opacity="1.0"/><rect x="710.9" y="222.1" width="1.45" height="23" fill="url(#gsp)" fill-opacity="0.75"/><rect x="715.1" y="221.9" width="1.45" height="23" fill="url(#gsp2)" fill-opacity="0.9"/><rect x="720.7" y="223.5" width="1.45" height="23" fill="url(#gsp2)" fill-opacity="0.9"/><rect x="725.5" y="223.5" width="1.45" height="23" fill="url(#gsp2)" fill-opacity="0.9"/><rect x="731.4" y="223.3" width="1.45" height="23" fill="url(#gsp)" fill-opacity="1.0"/><rect x="736.7" y="222.0" width="1.45" height="23" fill="url(#gsp2)" fill-opacity="0.9"/><rect x="740.5" y="222.2" width="1.45" height="23" fill="url(#gsp)" fill-opacity="1.0"/><rect x="744.9" y="221.9" width="1.45" height="23" fill="url(#gsp)" fill-opacity="1.0"/><rect x="749.4" y="223.1" width="1.45" height="23" fill="url(#gsp)" fill-opacity="1.0"/><rect x="754.5" y="222.3" width="1.45" height="23" fill="url(#gsp)" fill-opacity="0.75"/><rect x="759.6" y="222.6" width="1.45" height="23" fill="url(#gsp)" fill-opacity="1.0"/><rect x="763.2" y="222.5" width="1.45" height="23" fill="url(#gsp2)" fill-opacity="0.9"/><rect x="767.7" y="223.3" width="1.45" height="23" fill="url(#gsp)" fill-opacity="0.75"/><rect x="772.2" y="222.3" width="1.45" height="23" fill="url(#gsp)" fill-opacity="1.0"/><rect x="775.9" y="223.4" width="1.45" height="23" fill="url(#gsp2)" fill-opacity="0.9"/><rect x="779.5" y="222.3" width="1.45" height="23" fill="url(#gsp)" fill-opacity="1.0"/><rect x="785.6" y="223.2" width="1.45" height="23" fill="url(#gsp)" fill-opacity="0.75"/><rect x="791.0" y="221.7" width="1.45" height="23" fill="url(#gsp2)" fill-opacity="0.9"/><rect x="796.1" y="223.0" width="1.45" height="23" fill="url(#gsp)" fill-opacity="0.75"/><rect x="801.1" y="221.8" width="1.45" height="23" fill="url(#gsp2)" fill-opacity="0.9"/><rect x="804.3" y="222.6" width="1.45" height="23" fill="url(#gsp)" fill-opacity="1.0"/><rect x="807.7" y="223.0" width="1.45" height="23" fill="url(#gsp)" fill-opacity="1.0"/><rect x="814.0" y="223.3" width="1.45" height="23" fill="url(#gsp2)" fill-opacity="0.9"/><rect x="818.6" y="222.4" width="1.45" height="23" fill="url(#gsp2)" fill-opacity="0.9"/><rect x="822.1" y="222.3" width="1.45" height="23" fill="url(#gsp)" fill-opacity="1.0"/><rect x="825.3" y="222.1" width="1.45" height="23" fill="url(#gsp)" fill-opacity="1.0"/><rect x="831.0" y="223.5" width="1.45" height="23" fill="url(#gsp)" fill-opacity="1.0"/><rect x="836.8" y="222.6" width="1.45" height="23" fill="url(#gsp2)" fill-opacity="0.9"/><rect x="842.5" y="222.3" width="1.45" height="23" fill="url(#gsp2)" fill-opacity="0.9"/><rect x="847.0" y="223.4" width="1.45" height="23" fill="url(#gsp2)" fill-opacity="0.9"/><rect x="850.6" y="223.1" width="1.45" height="23" fill="url(#gsp2)" fill-opacity="0.9"/><rect x="855.0" y="222.0" width="1.45" height="23" fill="url(#gsp)" fill-opacity="0.75"/><rect x="858.6" y="223.4" width="1.45" height="23" fill="url(#gsp)" fill-opacity="1.0"/><rect x="863.7" y="223.4" width="1.45" height="23" fill="url(#gsp2)" fill-opacity="0.9"/><rect x="868.0" y="221.9" width="1.45" height="23" fill="url(#gsp)" fill-opacity="1.0"/><rect x="873.6" y="222.2" width="1.45" height="23" fill="url(#gsp)" fill-opacity="0.75"/><rect x="878.5" y="221.6" width="1.45" height="23" fill="url(#gsp)" fill-opacity="1.0"/><rect x="881.8" y="223.1" width="1.45" height="23" fill="url(#gsp)" fill-opacity="0.75"/><rect x="888.0" y="221.7" width="1.45" height="23" fill="url(#gsp2)" fill-opacity="0.9"/><rect x="892.0" y="223.4" width="1.45" height="23" fill="url(#gsp)" fill-opacity="0.75"/><rect x="897.6" y="222.8" width="1.45" height="23" fill="url(#gsp)" fill-opacity="1.0"/><rect x="901.0" y="223.1" width="1.45" height="23" fill="url(#gsp2)" fill-opacity="0.9"/><rect x="906.6" y="221.6" width="1.45" height="23" fill="url(#gsp2)" fill-opacity="0.9"/><rect x="909.9" y="222.9" width="1.45" height="23" fill="url(#gsp)" fill-opacity="1.0"/><rect x="915.6" y="221.7" width="1.45" height="23" fill="url(#gsp2)" fill-opacity="0.9"/><rect x="921.0" y="223.1" width="1.45" height="23" fill="url(#gsp2)" fill-opacity="0.9"/><rect x="926.7" y="223.4" width="1.45" height="23" fill="url(#gsp2)" fill-opacity="0.9"/><rect x="932.7" y="222.1" width="1.45" height="23" fill="url(#gsp2)" fill-opacity="0.9"/><rect x="937.7" y="222.8" width="1.45" height="23" fill="url(#gsp2)" fill-opacity="0.9"/><rect x="943.9" y="223.0" width="1.45" height="23" fill="url(#gsp)" fill-opacity="1.0"/><rect x="948.7" y="222.6" width="1.45" height="23" fill="url(#gsp2)" fill-opacity="0.9"/><rect x="954.3" y="221.7" width="1.45" height="23" fill="url(#gsp2)" fill-opacity="0.9"/><rect x="960.5" y="222.4" width="1.45" height="23" fill="url(#gsp2)" fill-opacity="0.9"/><rect x="964.2" y="223.0" width="1.45" height="23" fill="url(#gsp)" fill-opacity="1.0"/><rect x="969.5" y="222.9" width="1.45" height="23" fill="url(#gsp)" fill-opacity="1.0"/><rect x="974.5" y="222.9" width="1.45" height="23" fill="url(#gsp)" fill-opacity="0.75"/><rect x="977.7" y="221.6" width="1.45" height="23" fill="url(#gsp)" fill-opacity="0.75"/><rect x="984.0" y="223.5" width="1.45" height="23" fill="url(#gsp)" fill-opacity="0.75"/><rect x="988.9" y="221.7" width="1.45" height="23" fill="url(#gsp)" fill-opacity="1.0"/><rect x="994.2" y="222.9" width="1.45" height="23" fill="url(#gsp)" fill-opacity="1.0"/><rect x="997.9" y="222.9" width="1.45" height="23" fill="url(#gsp)" fill-opacity="1.0"/><rect x="1001.1" y="222.7" width="1.45" height="23" fill="url(#gsp)" fill-opacity="1.0"/><rect x="1007.2" y="222.8" width="1.45" height="23" fill="url(#gsp)" fill-opacity="0.75"/><rect x="1013.0" y="221.6" width="1.45" height="23" fill="url(#gsp)" fill-opacity="0.75"/><rect x="1016.9" y="222.3" width="1.45" height="23" fill="url(#gsp)" fill-opacity="1.0"/><rect x="1022.0" y="222.9" width="1.45" height="23" fill="url(#gsp2)" fill-opacity="0.9"/><rect x="1025.3" y="222.6" width="1.45" height="23" fill="url(#gsp)" fill-opacity="0.75"/><rect x="1030.1" y="221.8" width="1.45" height="23" fill="url(#gsp)" fill-opacity="0.75"/><rect x="1033.9" y="222.1" width="1.45" height="23" fill="url(#gsp2)" fill-opacity="0.9"/><rect x="1037.5" y="222.3" width="1.45" height="23" fill="url(#gsp2)" fill-opacity="0.9"/><rect x="1043.5" y="222.4" width="1.45" height="23" fill="url(#gsp)" fill-opacity="1.0"/><rect x="1048.3" y="222.9" width="1.45" height="23" fill="url(#gsp2)" fill-opacity="0.9"/><rect x="1054.3" y="221.7" width="1.45" height="23" fill="url(#gsp)" fill-opacity="1.0"/><rect x="1057.9" y="223.4" width="1.45" height="23" fill="url(#gsp)" fill-opacity="0.75"/><rect x="1061.5" y="223.0" width="1.45" height="23" fill="url(#gsp2)" fill-opacity="0.9"/><rect x="1067.5" y="221.8" width="1.45" height="23" fill="url(#gsp)" fill-opacity="0.75"/><rect x="1072.4" y="222.9" width="1.45" height="23" fill="url(#gsp2)" fill-opacity="0.9"/><rect x="1077.6" y="222.7" width="1.45" height="23" fill="url(#gsp)" fill-opacity="0.75"/><rect x="1083.7" y="222.3" width="1.45" height="23" fill="url(#gsp)" fill-opacity="1.0"/><rect x="1087.7" y="221.7" width="1.45" height="23" fill="url(#gsp)" fill-opacity="1.0"/><rect x="1092.5" y="223.5" width="1.45" height="23" fill="url(#gsp)" fill-opacity="0.75"/><rect x="1095.9" y="221.9" width="1.45" height="23" fill="url(#gsp)" fill-opacity="1.0"/><rect x="1099.6" y="223.2" width="1.45" height="23" fill="url(#gsp)" fill-opacity="1.0"/><rect x="1104.6" y="223.5" width="1.45" height="23" fill="url(#gsp)" fill-opacity="1.0"/><rect x="1109.7" y="223.3" width="1.45" height="23" fill="url(#gsp)" fill-opacity="1.0"/><rect x="1115.4" y="221.6" width="1.45" height="23" fill="url(#gsp)" fill-opacity="1.0"/><rect x="1121.5" y="222.1" width="1.45" height="23" fill="url(#gsp)" fill-opacity="0.75"/><rect x="1126.3" y="222.4" width="1.45" height="23" fill="url(#gsp)" fill-opacity="1.0"/><rect x="1130.9" y="222.3" width="1.45" height="23" fill="url(#gsp)" fill-opacity="0.75"/><rect x="1136.3" y="222.5" width="1.45" height="23" fill="url(#gsp2)" fill-opacity="0.9"/><rect x="1139.6" y="223.0" width="1.45" height="23" fill="url(#gsp)" fill-opacity="1.0"/><rect x="1145.9" y="222.6" width="1.45" height="23" fill="url(#gsp2)" fill-opacity="0.9"/><rect x="1151.8" y="222.5" width="1.45" height="23" fill="url(#gsp)" fill-opacity="1.0"/><rect x="1158.0" y="221.7" width="1.45" height="23" fill="url(#gsp)" fill-opacity="1.0"/><rect x="1164.1" y="222.4" width="1.45" height="23" fill="url(#gsp)" fill-opacity="1.0"/><rect x="1169.1" y="222.9" width="1.45" height="23" fill="url(#gsp)" fill-opacity="1.0"/><rect x="1175.2" y="223.3" width="1.45" height="23" fill="url(#gsp2)" fill-opacity="0.9"/><rect x="1180.2" y="223.1" width="1.45" height="23" fill="url(#gsp2)" fill-opacity="0.9"/><rect x="1186.5" y="222.2" width="1.45" height="23" fill="url(#gsp2)" fill-opacity="0.9"/><rect x="1191.0" y="222.1" width="1.45" height="23" fill="url(#gsp)" fill-opacity="0.75"/><rect x="1195.2" y="222.1" width="1.45" height="23" fill="url(#gsp)" fill-opacity="0.75"/><rect x="1199.8" y="222.1" width="1.45" height="23" fill="url(#gsp)" fill-opacity="0.75"/><rect x="1206.1" y="222.0" width="1.45" height="23" fill="url(#gsp)" fill-opacity="1.0"/><rect x="1211.2" y="222.9" width="1.45" height="23" fill="url(#gsp2)" fill-opacity="0.9"/><rect x="1215.1" y="222.9" width="1.45" height="23" fill="url(#gsp)" fill-opacity="1.0"/><rect x="1220.0" y="221.6" width="1.45" height="23" fill="url(#gsp2)" fill-opacity="0.9"/><rect x="1224.4" y="222.5" width="1.45" height="23" fill="url(#gsp)" fill-opacity="1.0"/><rect x="1227.8" y="222.9" width="1.45" height="23" fill="url(#gsp2)" fill-opacity="0.9"/><rect x="1232.6" y="223.4" width="1.45" height="23" fill="url(#gsp2)" fill-opacity="0.9"/><rect x="1238.9" y="222.0" width="1.45" height="23" fill="url(#gsp2)" fill-opacity="0.9"/><rect x="1245.3" y="222.0" width="1.45" height="23" fill="url(#gsp)" fill-opacity="1.0"/><rect x="1251.4" y="222.1" width="1.45" height="23" fill="url(#gsp)" fill-opacity="0.75"/><rect x="1257.5" y="222.0" width="1.45" height="23" fill="url(#gsp2)" fill-opacity="0.9"/><rect x="1261.9" y="223.3" width="1.45" height="23" fill="url(#gsp)" fill-opacity="1.0"/><rect x="1266.6" y="223.4" width="1.45" height="23" fill="url(#gsp)" fill-opacity="1.0"/><rect x="1272.7" y="223.4" width="1.45" height="23" fill="url(#gsp2)" fill-opacity="0.9"/><rect x="1278.7" y="223.0" width="1.45" height="23" fill="url(#gsp)" fill-opacity="1.0"/><rect x="1282.4" y="223.5" width="1.45" height="23" fill="url(#gsp)" fill-opacity="0.75"/><rect x="1286.9" y="222.9" width="1.45" height="23" fill="url(#gsp)" fill-opacity="0.75"/><rect x="1293.0" y="223.2" width="1.45" height="23" fill="url(#gsp)" fill-opacity="0.75"/><rect x="1297.5" y="222.9" width="1.45" height="23" fill="url(#gsp)" fill-opacity="1.0"/><rect x="1301.1" y="221.9" width="1.45" height="23" fill="url(#gsp2)" fill-opacity="0.9"/><rect x="1307.0" y="223.4" width="1.45" height="23" fill="url(#gsp)" fill-opacity="1.0"/><rect x="1310.4" y="223.3" width="1.45" height="23" fill="url(#gsp)" fill-opacity="1.0"/><rect x="1316.3" y="221.6" width="1.45" height="23" fill="url(#gsp)" fill-opacity="1.0"/><rect x="1319.8" y="222.2" width="1.45" height="23" fill="url(#gsp)" fill-opacity="1.0"/><rect x="1323.4" y="222.8" width="1.45" height="23" fill="url(#gsp)" fill-opacity="0.75"/><rect x="1328.6" y="221.6" width="1.45" height="23" fill="url(#gsp)" fill-opacity="1.0"/><rect x="1331.8" y="222.7" width="1.45" height="23" fill="url(#gsp2)" fill-opacity="0.9"/><rect x="1335.5" y="221.7" width="1.45" height="23" fill="url(#gsp)" fill-opacity="1.0"/><rect x="1341.0" y="222.8" width="1.45" height="23" fill="url(#gsp)" fill-opacity="1.0"/><rect x="1346.9" y="222.8" width="1.45" height="23" fill="url(#gsp)" fill-opacity="1.0"/><rect x="1352.8" y="221.6" width="1.45" height="23" fill="url(#gsp)" fill-opacity="1.0"/><rect x="1356.9" y="223.3" width="1.45" height="23" fill="url(#gsp)" fill-opacity="1.0"/><rect x="1361.9" y="223.1" width="1.45" height="23" fill="url(#gsp)" fill-opacity="0.75"/><rect x="1365.7" y="223.0" width="1.45" height="23" fill="url(#gsp)" fill-opacity="1.0"/><rect x="1370.0" y="221.6" width="1.45" height="23" fill="url(#gsp2)" fill-opacity="0.9"/><rect x="1374.8" y="222.7" width="1.45" height="23" fill="url(#gsp)" fill-opacity="1.0"/><rect x="1378.0" y="221.8" width="1.45" height="23" fill="url(#gsp)" fill-opacity="1.0"/><rect x="1383.6" y="222.8" width="1.45" height="23" fill="url(#gsp2)" fill-opacity="0.9"/><rect x="1387.1" y="223.4" width="1.45" height="23" fill="url(#gsp)" fill-opacity="0.75"/><rect x="1393.2" y="221.9" width="1.45" height="23" fill="url(#gsp)" fill-opacity="0.75"/><rect x="1397.4" y="221.5" width="1.45" height="23" fill="url(#gsp)" fill-opacity="0.75"/><rect x="1400.8" y="222.7" width="1.45" height="23" fill="url(#gsp)" fill-opacity="1.0"/><rect x="1405.6" y="222.2" width="1.45" height="23" fill="url(#gsp)" fill-opacity="1.0"/><rect x="1410.3" y="221.8" width="1.45" height="23" fill="url(#gsp)" fill-opacity="1.0"/><rect x="1413.8" y="221.9" width="1.45" height="23" fill="url(#gsp)" fill-opacity="1.0"/><rect x="1417.7" y="221.9" width="1.45" height="23" fill="url(#gsp)" fill-opacity="0.75"/><rect x="1421.2" y="223.0" width="1.45" height="23" fill="url(#gsp2)" fill-opacity="0.9"/><rect x="1426.4" y="222.5" width="1.45" height="23" fill="url(#gsp2)" fill-opacity="0.9"/><rect x="1429.7" y="222.8" width="1.45" height="23" fill="url(#gsp)" fill-opacity="1.0"/><rect x="1434.9" y="223.2" width="1.45" height="23" fill="url(#gsp2)" fill-opacity="0.9"/><rect x="1440.9" y="221.7" width="1.45" height="23" fill="url(#gsp)" fill-opacity="1.0"/><rect x="1447.2" y="222.8" width="1.45" height="23" fill="url(#gsp2)" fill-opacity="0.9"/><rect x="1450.5" y="223.3" width="1.45" height="23" fill="url(#gsp)" fill-opacity="1.0"/><rect x="1456.4" y="223.5" width="1.45" height="23" fill="url(#gsp)" fill-opacity="1.0"/><rect x="1462.1" y="223.4" width="1.45" height="23" fill="url(#gsp2)" fill-opacity="0.9"/><rect x="1466.0" y="223.4" width="1.45" height="23" fill="url(#gsp)" fill-opacity="1.0"/><rect x="1470.4" y="222.6" width="1.45" height="23" fill="url(#gsp)" fill-opacity="1.0"/><rect x="1474.5" y="222.5" width="1.45" height="23" fill="url(#gsp)" fill-opacity="0.75"/><rect x="1480.4" y="223.4" width="1.45" height="23" fill="url(#gsp)" fill-opacity="1.0"/><rect x="1486.7" y="222.6" width="1.45" height="23" fill="url(#gsp2)" fill-opacity="0.9"/><rect x="1490.1" y="221.6" width="1.45" height="23" fill="url(#gsp)" fill-opacity="0.75"/><rect x="1493.4" y="222.5" width="1.45" height="23" fill="url(#gsp2)" fill-opacity="0.9"/><rect x="1499.6" y="223.5" width="1.45" height="23" fill="url(#gsp)" fill-opacity="0.75"/><rect x="1504.4" y="222.6" width="1.45" height="23" fill="url(#gsp)" fill-opacity="0.75"/><rect x="1509.6" y="222.1" width="1.45" height="23" fill="url(#gsp2)" fill-opacity="0.9"/><rect x="1513.1" y="223.0" width="1.45" height="23" fill="url(#gsp)" fill-opacity="0.75"/><rect x="1518.5" y="222.5" width="1.45" height="23" fill="url(#gsp)" fill-opacity="1.0"/><rect x="1524.5" y="221.5" width="1.45" height="23" fill="url(#gsp)" fill-opacity="0.75"/><rect x="1529.8" y="222.2" width="1.45" height="23" fill="url(#gsp)" fill-opacity="1.0"/><rect x="1535.3" y="223.3" width="1.45" height="23" fill="url(#gsp)" fill-opacity="1.0"/><rect x="1538.8" y="221.8" width="1.45" height="23" fill="url(#gsp)" fill-opacity="1.0"/><rect x="1542.5" y="223.4" width="1.45" height="23" fill="url(#gsp2)" fill-opacity="0.9"/><rect x="1547.5" y="222.5" width="1.45" height="23" fill="url(#gsp2)" fill-opacity="0.9"/><rect x="1553.2" y="223.4" width="1.45" height="23" fill="url(#gsp)" fill-opacity="1.0"/><rect x="1556.6" y="223.0" width="1.45" height="23" fill="url(#gsp)" fill-opacity="1.0"/><rect x="1561.9" y="222.9" width="1.45" height="23" fill="url(#gsp2)" fill-opacity="0.9"/><rect x="1568.2" y="221.8" width="1.45" height="23" fill="url(#gsp2)" fill-opacity="0.9"/><rect x="1572.4" y="222.6" width="1.45" height="23" fill="url(#gsp)" fill-opacity="1.0"/><rect x="1577.3" y="223.1" width="1.45" height="23" fill="url(#gsp2)" fill-opacity="0.9"/><rect x="1582.8" y="221.7" width="1.45" height="23" fill="url(#gsp)" fill-opacity="0.75"/><rect x="1588.0" y="223.1" width="1.45" height="23" fill="url(#gsp)" fill-opacity="0.75"/><rect x="1592.7" y="221.5" width="1.45" height="23" fill="url(#gsp)" fill-opacity="0.75"/><rect x="1598.5" y="222.8" width="1.45" height="23" fill="url(#gsp)" fill-opacity="1.0"/><rect x="1601.7" y="222.9" width="1.45" height="23" fill="url(#gsp2)" fill-opacity="0.9"/><rect x="1606.4" y="222.7" width="1.45" height="23" fill="url(#gsp)" fill-opacity="1.0"/><rect x="1612.1" y="222.1" width="1.45" height="23" fill="url(#gsp)" fill-opacity="1.0"/><rect x="1616.8" y="221.8" width="1.45" height="23" fill="url(#gsp)" fill-opacity="0.75"/><rect x="1622.0" y="223.4" width="1.45" height="23" fill="url(#gsp)" fill-opacity="0.75"/><rect x="1628.0" y="222.4" width="1.45" height="23" fill="url(#gsp)" fill-opacity="0.75"/><rect x="1631.9" y="222.7" width="1.45" height="23" fill="url(#gsp)" fill-opacity="1.0"/><rect x="1635.9" y="221.5" width="1.45" height="23" fill="url(#gsp)" fill-opacity="0.75"/><rect x="1642.3" y="223.3" width="1.45" height="23" fill="url(#gsp)" fill-opacity="0.75"/><rect x="1646.6" y="221.5" width="1.45" height="23" fill="url(#gsp)" fill-opacity="1.0"/><rect x="1651.2" y="223.1" width="1.45" height="23" fill="url(#gsp2)" fill-opacity="0.9"/><rect x="1657.4" y="221.8" width="1.45" height="23" fill="url(#gsp)" fill-opacity="0.75"/><rect x="1663.6" y="221.7" width="1.45" height="23" fill="url(#gsp2)" fill-opacity="0.9"/><rect x="1666.9" y="222.2" width="1.45" height="23" fill="url(#gsp)" fill-opacity="1.0"/><rect x="1670.9" y="223.4" width="1.45" height="23" fill="url(#gsp)" fill-opacity="1.0"/><rect x="1677.2" y="223.4" width="1.45" height="23" fill="url(#gsp2)" fill-opacity="0.9"/><rect x="1683.4" y="222.6" width="1.45" height="23" fill="url(#gsp)" fill-opacity="1.0"/><rect x="1689.7" y="222.5" width="1.45" height="23" fill="url(#gsp)" fill-opacity="1.0"/><rect x="1694.8" y="222.1" width="1.45" height="23" fill="url(#gsp)" fill-opacity="0.75"/><rect x="1698.4" y="223.0" width="1.45" height="23" fill="url(#gsp)" fill-opacity="1.0"/><rect x="1704.3" y="222.4" width="1.45" height="23" fill="url(#gsp2)" fill-opacity="0.9"/><rect x="1710.5" y="222.1" width="1.45" height="23" fill="url(#gsp)" fill-opacity="1.0"/><rect x="1716.2" y="223.3" width="1.45" height="23" fill="url(#gsp)" fill-opacity="1.0"/><rect x="1722.5" y="221.9" width="1.45" height="23" fill="url(#gsp2)" fill-opacity="0.9"/><rect x="1726.3" y="221.9" width="1.45" height="23" fill="url(#gsp)" fill-opacity="1.0"/><rect x="1730.3" y="222.2" width="1.45" height="23" fill="url(#gsp)" fill-opacity="1.0"/><rect x="1735.3" y="221.7" width="1.45" height="23" fill="url(#gsp)" fill-opacity="1.0"/><rect x="1741.6" y="222.6" width="1.45" height="23" fill="url(#gsp2)" fill-opacity="0.9"/><rect x="1746.1" y="222.8" width="1.45" height="23" fill="url(#gsp)" fill-opacity="0.75"/><rect x="1749.9" y="223.0" width="1.45" height="23" fill="url(#gsp2)" fill-opacity="0.9"/><rect x="1756.2" y="221.5" width="1.45" height="23" fill="url(#gsp2)" fill-opacity="0.9"/><rect x="1759.9" y="221.7" width="1.45" height="23" fill="url(#gsp)" fill-opacity="1.0"/><rect x="1763.4" y="222.7" width="1.45" height="23" fill="url(#gsp)" fill-opacity="0.75"/><rect x="1768.6" y="222.2" width="1.45" height="23" fill="url(#gsp2)" fill-opacity="0.9"/><rect x="1774.0" y="222.7" width="1.45" height="23" fill="url(#gsp)" fill-opacity="1.0"/><rect x="1779.1" y="223.1" width="1.45" height="23" fill="url(#gsp)" fill-opacity="1.0"/><rect x="1783.5" y="222.1" width="1.45" height="23" fill="url(#gsp)" fill-opacity="1.0"/><rect x="1789.7" y="222.7" width="1.45" height="23" fill="url(#gsp)" fill-opacity="0.75"/>
<rect x="131.5" y="220" width="1.4" height="5.5" fill="url(#gdot)" fill-opacity="0.87"/><rect x="142.5" y="220" width="1.4" height="5.5" fill="url(#gdot)" fill-opacity="0.86"/><rect x="153.5" y="220" width="1.4" height="5.5" fill="url(#gdot)" fill-opacity="0.57"/><rect x="164.5" y="220" width="1.4" height="5.5" fill="url(#gdot)" fill-opacity="0.86"/><rect x="192.0" y="220" width="1.4" height="5.5" fill="url(#gdot)" fill-opacity="0.77"/><rect x="203.0" y="220" width="1.4" height="5.5" fill="url(#gdot)" fill-opacity="0.51"/><rect x="213.0" y="220" width="1.4" height="5.5" fill="url(#gdot)" fill-opacity="0.75"/><rect x="218.5" y="220" width="1.4" height="5.5" fill="url(#gdot)" fill-opacity="0.61"/><rect x="224.0" y="220" width="1.4" height="5.5" fill="url(#gdot)" fill-opacity="0.74"/><rect x="240.5" y="220" width="1.4" height="5.5" fill="url(#gdot)" fill-opacity="0.83"/><rect x="246.0" y="220" width="1.4" height="5.5" fill="url(#gdot)" fill-opacity="0.75"/><rect x="269.0" y="220" width="1.4" height="5.5" fill="url(#gdot)" fill-opacity="0.57"/><rect x="291.0" y="220" width="1.4" height="5.5" fill="url(#gdot)" fill-opacity="0.73"/><rect x="312.0" y="220" width="1.4" height="5.5" fill="url(#gdot)" fill-opacity="0.86"/><rect x="334.0" y="220" width="1.4" height="5.5" fill="url(#gdot)" fill-opacity="0.65"/><rect x="345.0" y="220" width="1.4" height="5.5" fill="url(#gdot)" fill-opacity="0.70"/><rect x="356.0" y="220" width="1.4" height="5.5" fill="url(#gdot)" fill-opacity="0.73"/><rect x="390.0" y="220" width="1.4" height="5.5" fill="url(#gdot)" fill-opacity="0.66"/><rect x="402.0" y="220" width="1.4" height="5.5" fill="url(#gdot)" fill-opacity="0.88"/><rect x="413.0" y="220" width="1.4" height="5.5" fill="url(#gdot)" fill-opacity="0.59"/><rect x="424.0" y="220" width="1.4" height="5.5" fill="url(#gdot)" fill-opacity="0.55"/><rect x="434.0" y="220" width="1.4" height="5.5" fill="url(#gdot)" fill-opacity="0.63"/><rect x="439.5" y="220" width="1.4" height="5.5" fill="url(#gdot)" fill-opacity="0.77"/><rect x="450.5" y="220" width="1.4" height="5.5" fill="url(#gdot)" fill-opacity="0.79"/><rect x="456.0" y="220" width="1.4" height="5.5" fill="url(#gdot)" fill-opacity="0.81"/><rect x="466.0" y="220" width="1.4" height="5.5" fill="url(#gdot)" fill-opacity="0.73"/><rect x="487.0" y="220" width="1.4" height="5.5" fill="url(#gdot)" fill-opacity="0.67"/><rect x="497.0" y="220" width="1.4" height="5.5" fill="url(#gdot)" fill-opacity="0.73"/><rect x="508.0" y="220" width="1.4" height="5.5" fill="url(#gdot)" fill-opacity="0.64"/><rect x="513.5" y="220" width="1.4" height="5.5" fill="url(#gdot)" fill-opacity="0.54"/><rect x="525.5" y="220" width="1.4" height="5.5" fill="url(#gdot)" fill-opacity="0.84"/><rect x="531.0" y="220" width="1.4" height="5.5" fill="url(#gdot)" fill-opacity="0.64"/><rect x="541.0" y="220" width="1.4" height="5.5" fill="url(#gdot)" fill-opacity="0.81"/><rect x="563.0" y="220" width="1.4" height="5.5" fill="url(#gdot)" fill-opacity="0.52"/><rect x="579.5" y="220" width="1.4" height="5.5" fill="url(#gdot)" fill-opacity="0.50"/><rect x="596.0" y="220" width="1.4" height="5.5" fill="url(#gdot)" fill-opacity="0.83"/><rect x="601.5" y="220" width="1.4" height="5.5" fill="url(#gdot)" fill-opacity="0.57"/><rect x="613.5" y="220" width="1.4" height="5.5" fill="url(#gdot)" fill-opacity="0.76"/><rect x="623.5" y="220" width="1.4" height="5.5" fill="url(#gdot)" fill-opacity="0.73"/><rect x="629.0" y="220" width="1.4" height="5.5" fill="url(#gdot)" fill-opacity="0.88"/><rect x="640.0" y="220" width="1.4" height="5.5" fill="url(#gdot)" fill-opacity="0.73"/><rect x="651.0" y="220" width="1.4" height="5.5" fill="url(#gdot)" fill-opacity="0.77"/><rect x="661.0" y="220" width="1.4" height="5.5" fill="url(#gdot)" fill-opacity="0.51"/><rect x="672.0" y="220" width="1.4" height="5.5" fill="url(#gdot)" fill-opacity="0.58"/><rect x="677.5" y="220" width="1.4" height="5.5" fill="url(#gdot)" fill-opacity="0.75"/><rect x="689.5" y="220" width="1.4" height="5.5" fill="url(#gdot)" fill-opacity="0.56"/><rect x="699.5" y="220" width="1.4" height="5.5" fill="url(#gdot)" fill-opacity="0.57"/><rect x="711.5" y="220" width="1.4" height="5.5" fill="url(#gdot)" fill-opacity="0.65"/><rect x="721.5" y="220" width="1.4" height="5.5" fill="url(#gdot)" fill-opacity="0.61"/><rect x="732.5" y="220" width="1.4" height="5.5" fill="url(#gdot)" fill-opacity="0.57"/><rect x="742.5" y="220" width="1.4" height="5.5" fill="url(#gdot)" fill-opacity="0.78"/><rect x="753.5" y="220" width="1.4" height="5.5" fill="url(#gdot)" fill-opacity="0.64"/><rect x="764.5" y="220" width="1.4" height="5.5" fill="url(#gdot)" fill-opacity="0.64"/><rect x="776.5" y="220" width="1.4" height="5.5" fill="url(#gdot)" fill-opacity="0.60"/><rect x="787.5" y="220" width="1.4" height="5.5" fill="url(#gdot)" fill-opacity="0.89"/><rect x="804.0" y="220" width="1.4" height="5.5" fill="url(#gdot)" fill-opacity="0.81"/><rect x="816.0" y="220" width="1.4" height="5.5" fill="url(#gdot)" fill-opacity="0.65"/><rect x="821.5" y="220" width="1.4" height="5.5" fill="url(#gdot)" fill-opacity="0.61"/><rect x="837.0" y="220" width="1.4" height="5.5" fill="url(#gdot)" fill-opacity="0.55"/><rect x="864.5" y="220" width="1.4" height="5.5" fill="url(#gdot)" fill-opacity="0.69"/><rect x="886.5" y="220" width="1.4" height="5.5" fill="url(#gdot)" fill-opacity="0.81"/><rect x="897.5" y="220" width="1.4" height="5.5" fill="url(#gdot)" fill-opacity="0.89"/><rect x="908.5" y="220" width="1.4" height="5.5" fill="url(#gdot)" fill-opacity="0.81"/><rect x="930.5" y="220" width="1.4" height="5.5" fill="url(#gdot)" fill-opacity="0.51"/><rect x="946.0" y="220" width="1.4" height="5.5" fill="url(#gdot)" fill-opacity="0.69"/><rect x="968.0" y="220" width="1.4" height="5.5" fill="url(#gdot)" fill-opacity="0.50"/><rect x="973.5" y="220" width="1.4" height="5.5" fill="url(#gdot)" fill-opacity="0.52"/><rect x="1007.5" y="220" width="1.4" height="5.5" fill="url(#gdot)" fill-opacity="0.77"/><rect x="1018.5" y="220" width="1.4" height="5.5" fill="url(#gdot)" fill-opacity="0.59"/><rect x="1030.5" y="220" width="1.4" height="5.5" fill="url(#gdot)" fill-opacity="0.78"/><rect x="1052.5" y="220" width="1.4" height="5.5" fill="url(#gdot)" fill-opacity="0.50"/><rect x="1080.0" y="220" width="1.4" height="5.5" fill="url(#gdot)" fill-opacity="0.65"/><rect x="1090.0" y="220" width="1.4" height="5.5" fill="url(#gdot)" fill-opacity="0.66"/><rect x="1100.0" y="220" width="1.4" height="5.5" fill="url(#gdot)" fill-opacity="0.60"/><rect x="1122.0" y="220" width="1.4" height="5.5" fill="url(#gdot)" fill-opacity="0.63"/><rect x="1133.0" y="220" width="1.4" height="5.5" fill="url(#gdot)" fill-opacity="0.53"/><rect x="1144.0" y="220" width="1.4" height="5.5" fill="url(#gdot)" fill-opacity="0.84"/><rect x="1156.0" y="220" width="1.4" height="5.5" fill="url(#gdot)" fill-opacity="0.76"/><rect x="1167.0" y="220" width="1.4" height="5.5" fill="url(#gdot)" fill-opacity="0.65"/><rect x="1178.0" y="220" width="1.4" height="5.5" fill="url(#gdot)" fill-opacity="0.64"/><rect x="1189.0" y="220" width="1.4" height="5.5" fill="url(#gdot)" fill-opacity="0.85"/><rect x="1220.0" y="220" width="1.4" height="5.5" fill="url(#gdot)" fill-opacity="0.55"/><rect x="1236.5" y="220" width="1.4" height="5.5" fill="url(#gdot)" fill-opacity="0.58"/><rect x="1248.5" y="220" width="1.4" height="5.5" fill="url(#gdot)" fill-opacity="0.79"/><rect x="1259.5" y="220" width="1.4" height="5.5" fill="url(#gdot)" fill-opacity="0.86"/><rect x="1269.5" y="220" width="1.4" height="5.5" fill="url(#gdot)" fill-opacity="0.60"/><rect x="1280.5" y="220" width="1.4" height="5.5" fill="url(#gdot)" fill-opacity="0.67"/><rect x="1291.5" y="220" width="1.4" height="5.5" fill="url(#gdot)" fill-opacity="0.51"/><rect x="1297.0" y="220" width="1.4" height="5.5" fill="url(#gdot)" fill-opacity="0.61"/><rect x="1307.0" y="220" width="1.4" height="5.5" fill="url(#gdot)" fill-opacity="0.87"/><rect x="1330.0" y="220" width="1.4" height="5.5" fill="url(#gdot)" fill-opacity="0.89"/><rect x="1342.0" y="220" width="1.4" height="5.5" fill="url(#gdot)" fill-opacity="0.89"/><rect x="1347.5" y="220" width="1.4" height="5.5" fill="url(#gdot)" fill-opacity="0.53"/><rect x="1353.0" y="220" width="1.4" height="5.5" fill="url(#gdot)" fill-opacity="0.76"/><rect x="1376.0" y="220" width="1.4" height="5.5" fill="url(#gdot)" fill-opacity="0.88"/><rect x="1387.0" y="220" width="1.4" height="5.5" fill="url(#gdot)" fill-opacity="0.76"/><rect x="1403.5" y="220" width="1.4" height="5.5" fill="url(#gdot)" fill-opacity="0.66"/><rect x="1409.0" y="220" width="1.4" height="5.5" fill="url(#gdot)" fill-opacity="0.51"/><rect x="1420.0" y="220" width="1.4" height="5.5" fill="url(#gdot)" fill-opacity="0.67"/><rect x="1431.0" y="220" width="1.4" height="5.5" fill="url(#gdot)" fill-opacity="0.50"/><rect x="1442.0" y="220" width="1.4" height="5.5" fill="url(#gdot)" fill-opacity="0.83"/><rect x="1452.0" y="220" width="1.4" height="5.5" fill="url(#gdot)" fill-opacity="0.75"/><rect x="1473.0" y="220" width="1.4" height="5.5" fill="url(#gdot)" fill-opacity="0.74"/><rect x="1478.5" y="220" width="1.4" height="5.5" fill="url(#gdot)" fill-opacity="0.76"/><rect x="1500.5" y="220" width="1.4" height="5.5" fill="url(#gdot)" fill-opacity="0.85"/><rect x="1512.5" y="220" width="1.4" height="5.5" fill="url(#gdot)" fill-opacity="0.77"/><rect x="1523.5" y="220" width="1.4" height="5.5" fill="url(#gdot)" fill-opacity="0.58"/><rect x="1529.0" y="220" width="1.4" height="5.5" fill="url(#gdot)" fill-opacity="0.77"/><rect x="1534.5" y="220" width="1.4" height="5.5" fill="url(#gdot)" fill-opacity="0.71"/><rect x="1550.0" y="220" width="1.4" height="5.5" fill="url(#gdot)" fill-opacity="0.57"/><rect x="1560.0" y="220" width="1.4" height="5.5" fill="url(#gdot)" fill-opacity="0.75"/><rect x="1571.0" y="220" width="1.4" height="5.5" fill="url(#gdot)" fill-opacity="0.69"/><rect x="1581.0" y="220" width="1.4" height="5.5" fill="url(#gdot)" fill-opacity="0.77"/><rect x="1591.0" y="220" width="1.4" height="5.5" fill="url(#gdot)" fill-opacity="0.72"/><rect x="1602.0" y="220" width="1.4" height="5.5" fill="url(#gdot)" fill-opacity="0.75"/><rect x="1635.0" y="220" width="1.4" height="5.5" fill="url(#gdot)" fill-opacity="0.59"/><rect x="1656.0" y="220" width="1.4" height="5.5" fill="url(#gdot)" fill-opacity="0.77"/><rect x="1667.0" y="220" width="1.4" height="5.5" fill="url(#gdot)" fill-opacity="0.62"/><rect x="1678.0" y="220" width="1.4" height="5.5" fill="url(#gdot)" fill-opacity="0.72"/><rect x="1683.5" y="220" width="1.4" height="5.5" fill="url(#gdot)" fill-opacity="0.78"/><rect x="1694.5" y="220" width="1.4" height="5.5" fill="url(#gdot)" fill-opacity="0.54"/><rect x="1700.0" y="220" width="1.4" height="5.5" fill="url(#gdot)" fill-opacity="0.72"/><rect x="1727.5" y="220" width="1.4" height="5.5" fill="url(#gdot)" fill-opacity="0.57"/><rect x="1738.5" y="220" width="1.4" height="5.5" fill="url(#gdot)" fill-opacity="0.67"/><rect x="1749.5" y="220" width="1.4" height="5.5" fill="url(#gdot)" fill-opacity="0.54"/><rect x="1761.5" y="220" width="1.4" height="5.5" fill="url(#gdot)" fill-opacity="0.69"/><rect x="1767.0" y="220" width="1.4" height="5.5" fill="url(#gdot)" fill-opacity="0.68"/><rect x="1772.5" y="220" width="1.4" height="5.5" fill="url(#gdot)" fill-opacity="0.85"/><rect x="1782.5" y="220" width="1.4" height="5.5" fill="url(#gdot)" fill-opacity="0.84"/>
<rect x="262.3" y="214" width="11.2" height="18" fill="url(#gs150)"/>
<rect x="372" y="214" width="11.0" height="13" fill="url(#gs150)"/>
<rect x="622" y="214" width="11.0" height="13" fill="url(#gs150)"/>
<rect x="776" y="214" width="11.0" height="13" fill="url(#gs150)"/>
<rect x="801" y="214" width="11.0" height="13" fill="url(#gs150)"/>
<rect x="262.3" y="188" width="11.2" height="10" fill="url(#gbl)" fill-opacity="0.7"/>
<rect x="372" y="188" width="11.0" height="10" fill="url(#gbl)" fill-opacity="0.7"/>
<rect x="622" y="188" width="11.0" height="10" fill="url(#gbl)" fill-opacity="0.7"/>
<rect x="776" y="188" width="11.0" height="10" fill="url(#gbl)" fill-opacity="0.7"/>
<rect x="801" y="188" width="11.0" height="10" fill="url(#gbl)" fill-opacity="0.7"/></g>
<rect x="121.0" y="51.0" width="1675.0" height="924.0" fill="none" stroke="#000" stroke-width="1.4"/>
<path d="M115.4 868.4H121.0 M115.4 725.8H121.0 M115.4 583.2H121.0 M115.4 440.7H121.0 M115.4 298.1H121.0 M115.4 155.5H121.0 M121.0 975.0V980.6 M232.7 975.0V980.6 M344.3 975.0V980.6 M456.0 975.0V980.6 M567.7 975.0V980.6 M679.3 975.0V980.6 M791.0 975.0V980.6 M902.7 975.0V980.6 M1014.3 975.0V980.6 M1126.0 975.0V980.6 M1237.7 975.0V980.6 M1349.3 975.0V980.6 M1461.0 975.0V980.6 M1572.7 975.0V980.6 M1684.3 975.0V980.6" stroke="#000" stroke-width="1.3" fill="none"/>
<text x="107.7" y="880.0" font-size="31" text-anchor="end" textLength="36.5" lengthAdjust="spacingAndGlyphs">60</text>
<text x="107.7" y="737.4" font-size="31" text-anchor="end" textLength="36.5" lengthAdjust="spacingAndGlyphs">80</text>
<text x="107.7" y="594.8" font-size="31" text-anchor="end" textLength="55" lengthAdjust="spacingAndGlyphs">100</text>
<text x="107.7" y="452.3" font-size="31" text-anchor="end" textLength="55" lengthAdjust="spacingAndGlyphs">120</text>
<text x="107.7" y="309.7" font-size="31" text-anchor="end" textLength="55" lengthAdjust="spacingAndGlyphs">140</text>
<text x="107.7" y="167.1" font-size="31" text-anchor="end" textLength="55" lengthAdjust="spacingAndGlyphs">160</text>
<text x="120.5" y="1009.8" font-size="31" text-anchor="middle" textLength="85" lengthAdjust="spacingAndGlyphs">08:00</text>
<text x="232.2" y="1009.8" font-size="31" text-anchor="middle" textLength="85" lengthAdjust="spacingAndGlyphs">08:01</text>
<text x="343.8" y="1009.8" font-size="31" text-anchor="middle" textLength="85" lengthAdjust="spacingAndGlyphs">08:02</text>
<text x="455.5" y="1009.8" font-size="31" text-anchor="middle" textLength="85" lengthAdjust="spacingAndGlyphs">08:03</text>
<text x="567.2" y="1009.8" font-size="31" text-anchor="middle" textLength="85" lengthAdjust="spacingAndGlyphs">08:04</text>
<text x="678.8" y="1009.8" font-size="31" text-anchor="middle" textLength="85" lengthAdjust="spacingAndGlyphs">08:05</text>
<text x="790.5" y="1009.8" font-size="31" text-anchor="middle" textLength="85" lengthAdjust="spacingAndGlyphs">08:06</text>
<text x="902.2" y="1009.8" font-size="31" text-anchor="middle" textLength="85" lengthAdjust="spacingAndGlyphs">08:07</text>
<text x="1013.8" y="1009.8" font-size="31" text-anchor="middle" textLength="85" lengthAdjust="spacingAndGlyphs">08:08</text>
<text x="1125.5" y="1009.8" font-size="31" text-anchor="middle" textLength="85" lengthAdjust="spacingAndGlyphs">08:09</text>
<text x="1237.2" y="1009.8" font-size="31" text-anchor="middle" textLength="85" lengthAdjust="spacingAndGlyphs">08:10</text>
<text x="1348.8" y="1009.8" font-size="31" text-anchor="middle" textLength="85" lengthAdjust="spacingAndGlyphs">08:11</text>
<text x="1460.5" y="1009.8" font-size="31" text-anchor="middle" textLength="85" lengthAdjust="spacingAndGlyphs">08:12</text>
<text x="1572.2" y="1009.8" font-size="31" text-anchor="middle" textLength="85" lengthAdjust="spacingAndGlyphs">08:13</text>
<text x="1683.8" y="1009.8" font-size="31" text-anchor="middle" textLength="85" lengthAdjust="spacingAndGlyphs">08:14</text>
<text transform="translate(0,41.1)" x="240.87" y="0" font-size="38.1" textLength="211.86" lengthAdjust="spacingAndGlyphs">2025/11/26</text>
<text transform="translate(0,41.1)" x="475.75" y="0" font-size="38.1" textLength="104.81" lengthAdjust="spacingAndGlyphs">Radio</text>
<text transform="translate(0,41.1)" x="592.50" y="0" font-size="38.1" textLength="66.21" lengthAdjust="spacingAndGlyphs">flux</text>
<text transform="translate(0,41.1)" x="671.02" y="0" font-size="38.1" textLength="146.39" lengthAdjust="spacingAndGlyphs">density,</text>
<text transform="translate(0,41.1)" x="828.48" y="0" font-size="38.1" textLength="213.84" lengthAdjust="spacingAndGlyphs">e-CALLISTO</text>
<text transform="translate(0,41.1)" x="1053.07" y="0" font-size="38.1" textLength="344.28" lengthAdjust="spacingAndGlyphs">(Finland-Kempele),</text>
<text transform="translate(0,41.1)" x="1408.82" y="0" font-size="38.1" textLength="203.78" lengthAdjust="spacingAndGlyphs">Focuscode:</text>
<text transform="translate(0,41.1)" x="1626.01" y="0" font-size="38.1" textLength="45.62" lengthAdjust="spacingAndGlyphs">01</text>
<text transform="translate(0,1049.4)" x="761.66" y="0" font-size="35.6" textLength="204.67" lengthAdjust="spacingAndGlyphs">Observation</text>
<text transform="translate(0,1049.4)" x="975.66" y="0" font-size="35.6" textLength="75.29" lengthAdjust="spacingAndGlyphs">time</text>
<text transform="translate(0,1049.4)" x="1060.97" y="0" font-size="35.6" textLength="92.46" lengthAdjust="spacingAndGlyphs">[UTC]</text>
<text transform="translate(36.8,1000) rotate(-90)" x="345.65" y="0" font-size="35.6" textLength="172.66" lengthAdjust="spacingAndGlyphs">Frequency</text>
<text transform="translate(36.8,1000) rotate(-90)" x="529.57" y="0" font-size="35.6" textLength="97.04" lengthAdjust="spacingAndGlyphs">[MHz]</text>
<text transform="translate(2045.9,1000) rotate(-90)" x="311.44" y="0" font-size="35.6" textLength="42.39" lengthAdjust="spacingAndGlyphs">dB</text>
<text transform="translate(2045.9,1000) rotate(-90)" x="365.63" y="0" font-size="35.6" textLength="106.44" lengthAdjust="spacingAndGlyphs">above</text>
<text transform="translate(2045.9,1000) rotate(-90)" x="479.01" y="0" font-size="35.6" textLength="196.48" lengthAdjust="spacingAndGlyphs">background</text>
<defs><linearGradient id="cmap" x1="0" y1="1" x2="0" y2="0"><stop offset="0" stop-color="#000000"/><stop offset="0.25" stop-color="#0000ff"/><stop offset="0.42" stop-color="#8700ff"/><stop offset="0.57" stop-color="#ff4cb2"/><stop offset="0.92" stop-color="#ffff00"/><stop offset="1" stop-color="#ffffff"/></linearGradient></defs>
<rect x="1935.3" y="27.2" width="43.1" height="960.0" fill="url(#cmap)" stroke="#000" stroke-width="1.3"/>
<text x="1991.6" y="992.6" font-size="17.2" textLength="21.6" lengthAdjust="spacingAndGlyphs">−2</text>
<text x="1991.6" y="879.7" font-size="17.2" textLength="9.4" lengthAdjust="spacingAndGlyphs">0</text>
<text x="1991.6" y="766.7" font-size="17.2" textLength="9.4" lengthAdjust="spacingAndGlyphs">2</text>
<text x="1991.6" y="653.8" font-size="17.2" textLength="9.4" lengthAdjust="spacingAndGlyphs">4</text>
<text x="1991.6" y="540.8" font-size="17.2" textLength="9.4" lengthAdjust="spacingAndGlyphs">6</text>
<text x="1991.6" y="427.9" font-size="17.2" textLength="9.4" lengthAdjust="spacingAndGlyphs">8</text>
<text x="1991.6" y="315.0" font-size="17.2" textLength="19.2" lengthAdjust="spacingAndGlyphs">10</text>
<text x="1991.6" y="202.0" font-size="17.2" textLength="19.2" lengthAdjust="spacingAndGlyphs">12</text>
<text x="1991.6" y="89.1" font-size="17.2" textLength="19.2" lengthAdjust="spacingAndGlyphs">14</text>
<path d="M1978.4 987.2H1984.6 M1978.4 874.3H1984.6 M1978.4 761.3H1984.6 M1978.4 648.4H1984.6 M1978.4 535.4H1984.6 M1978.4 422.5H1984.6 M1978.4 309.6H1984.6 M1978.4 196.6H1984.6 M1978.4 83.7H1984.6" stroke="#000" stroke-width="1.2" fill="none"/>
</svg></body></html>
